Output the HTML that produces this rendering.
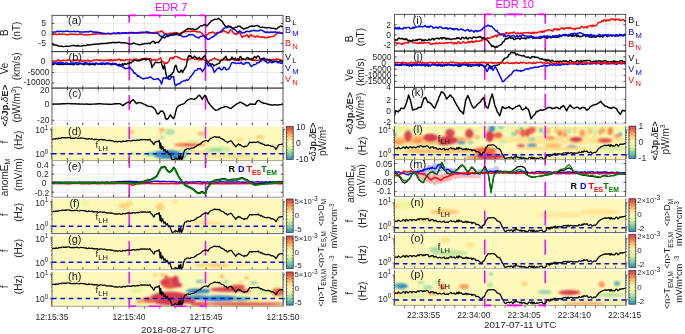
<!DOCTYPE html>
<html><head><meta charset="utf-8"><style>html,body{margin:0;padding:0;background:#fff;overflow:hidden}svg{display:block;will-change:transform}</style></head>
<body><svg xmlns="http://www.w3.org/2000/svg" width="685" height="334" viewBox="0 0 685 334" font-family='"Liberation Sans", sans-serif'><defs><filter id="blur1_3" x="-50%" y="-50%" width="200%" height="200%"><feGaussianBlur stdDeviation="1.3"/></filter><clipPath id="ca"><rect x="52.0" y="15.4" width="231.0" height="36.2"/></clipPath><clipPath id="cb"><rect x="52.0" y="51.6" width="231.0" height="36.49999999999999"/></clipPath><clipPath id="cc"><rect x="52.0" y="88.1" width="231.0" height="36.900000000000006"/></clipPath><clipPath id="cd"><rect x="52.0" y="126.4" width="231.0" height="34.19999999999999"/></clipPath><clipPath id="ce"><rect x="52.0" y="160.8" width="231.0" height="36.39999999999998"/></clipPath><clipPath id="cf"><rect x="52.0" y="198.8" width="231.0" height="34.79999999999998"/></clipPath><clipPath id="cg"><rect x="52.0" y="235.8" width="231.0" height="33.89999999999998"/></clipPath><clipPath id="ch"><rect x="52.0" y="271.8" width="231.0" height="34.5"/></clipPath><clipPath id="ci"><rect x="394.5" y="14.4" width="231.20000000000005" height="36.7"/></clipPath><clipPath id="cj"><rect x="394.5" y="51.1" width="231.20000000000005" height="36.300000000000004"/></clipPath><clipPath id="ck"><rect x="394.5" y="87.4" width="231.20000000000005" height="36.5"/></clipPath><clipPath id="cl"><rect x="394.5" y="125.9" width="231.20000000000005" height="33.69999999999999"/></clipPath><clipPath id="cm"><rect x="394.5" y="160.0" width="231.20000000000005" height="36.5"/></clipPath><clipPath id="cn"><rect x="394.5" y="198.6" width="231.20000000000005" height="34.0"/></clipPath><clipPath id="co"><rect x="394.5" y="234.4" width="231.20000000000005" height="34.20000000000002"/></clipPath><clipPath id="cp"><rect x="394.5" y="270.4" width="231.20000000000005" height="35.0"/></clipPath><linearGradient id="cbg_Ld" x1="0" y1="0" x2="0" y2="1"><stop offset="0.000" stop-color="#d53e4f"/><stop offset="0.125" stop-color="#f46d43"/><stop offset="0.250" stop-color="#fdae61"/><stop offset="0.375" stop-color="#fee08b"/><stop offset="0.500" stop-color="#fcf9bb"/><stop offset="0.625" stop-color="#e6f598"/><stop offset="0.750" stop-color="#abdda4"/><stop offset="0.875" stop-color="#66c2a5"/><stop offset="1.000" stop-color="#3288bd"/></linearGradient><linearGradient id="cbg_Lf" x1="0" y1="0" x2="0" y2="1"><stop offset="0.000" stop-color="#d53e4f"/><stop offset="0.125" stop-color="#f46d43"/><stop offset="0.250" stop-color="#fdae61"/><stop offset="0.375" stop-color="#fee08b"/><stop offset="0.500" stop-color="#fcf9bb"/><stop offset="0.625" stop-color="#e6f598"/><stop offset="0.750" stop-color="#abdda4"/><stop offset="0.875" stop-color="#66c2a5"/><stop offset="1.000" stop-color="#3288bd"/></linearGradient><linearGradient id="cbg_Lg" x1="0" y1="0" x2="0" y2="1"><stop offset="0.000" stop-color="#d53e4f"/><stop offset="0.125" stop-color="#f46d43"/><stop offset="0.250" stop-color="#fdae61"/><stop offset="0.375" stop-color="#fee08b"/><stop offset="0.500" stop-color="#fcf9bb"/><stop offset="0.625" stop-color="#e6f598"/><stop offset="0.750" stop-color="#abdda4"/><stop offset="0.875" stop-color="#66c2a5"/><stop offset="1.000" stop-color="#3288bd"/></linearGradient><linearGradient id="cbg_Lh" x1="0" y1="0" x2="0" y2="1"><stop offset="0.000" stop-color="#d53e4f"/><stop offset="0.125" stop-color="#f46d43"/><stop offset="0.250" stop-color="#fdae61"/><stop offset="0.375" stop-color="#fee08b"/><stop offset="0.500" stop-color="#fcf9bb"/><stop offset="0.625" stop-color="#e6f598"/><stop offset="0.750" stop-color="#abdda4"/><stop offset="0.875" stop-color="#66c2a5"/><stop offset="1.000" stop-color="#3288bd"/></linearGradient><linearGradient id="cbg_Rl" x1="0" y1="0" x2="0" y2="1"><stop offset="0.000" stop-color="#d53e4f"/><stop offset="0.125" stop-color="#f46d43"/><stop offset="0.250" stop-color="#fdae61"/><stop offset="0.375" stop-color="#fee08b"/><stop offset="0.500" stop-color="#fcf9bb"/><stop offset="0.625" stop-color="#e6f598"/><stop offset="0.750" stop-color="#abdda4"/><stop offset="0.875" stop-color="#66c2a5"/><stop offset="1.000" stop-color="#3288bd"/></linearGradient><linearGradient id="cbg_Rn" x1="0" y1="0" x2="0" y2="1"><stop offset="0.000" stop-color="#d53e4f"/><stop offset="0.125" stop-color="#f46d43"/><stop offset="0.250" stop-color="#fdae61"/><stop offset="0.375" stop-color="#fee08b"/><stop offset="0.500" stop-color="#fcf9bb"/><stop offset="0.625" stop-color="#e6f598"/><stop offset="0.750" stop-color="#abdda4"/><stop offset="0.875" stop-color="#66c2a5"/><stop offset="1.000" stop-color="#3288bd"/></linearGradient><linearGradient id="cbg_Ro" x1="0" y1="0" x2="0" y2="1"><stop offset="0.000" stop-color="#d53e4f"/><stop offset="0.125" stop-color="#f46d43"/><stop offset="0.250" stop-color="#fdae61"/><stop offset="0.375" stop-color="#fee08b"/><stop offset="0.500" stop-color="#fcf9bb"/><stop offset="0.625" stop-color="#e6f598"/><stop offset="0.750" stop-color="#abdda4"/><stop offset="0.875" stop-color="#66c2a5"/><stop offset="1.000" stop-color="#3288bd"/></linearGradient><linearGradient id="cbg_Rp" x1="0" y1="0" x2="0" y2="1"><stop offset="0.000" stop-color="#d53e4f"/><stop offset="0.125" stop-color="#f46d43"/><stop offset="0.250" stop-color="#fdae61"/><stop offset="0.375" stop-color="#fee08b"/><stop offset="0.500" stop-color="#fcf9bb"/><stop offset="0.625" stop-color="#e6f598"/><stop offset="0.750" stop-color="#abdda4"/><stop offset="0.875" stop-color="#66c2a5"/><stop offset="1.000" stop-color="#3288bd"/></linearGradient></defs><rect width="685" height="334" fill="#fff"/><rect x="52.0" y="15.4" width="231.0" height="36.2" fill="#fff"/>
<path d="M67.4,15.4V51.6 M82.8,15.4V51.6 M98.2,15.4V51.6 M113.6,15.4V51.6 M129.0,15.4V51.6 M144.4,15.4V51.6 M159.8,15.4V51.6 M175.2,15.4V51.6 M190.6,15.4V51.6 M206.0,15.4V51.6 M221.4,15.4V51.6 M236.8,15.4V51.6 M252.2,15.4V51.6 M267.6,15.4V51.6 M52.0,23.4H283.0 M52.0,33.4H283.0 M52.0,43.4H283.0" stroke="#e3e3e3" stroke-width="0.7" fill="none"/>
<rect x="52.0" y="51.6" width="231.0" height="36.49999999999999" fill="#fff"/>
<path d="M67.4,51.6V88.1 M82.8,51.6V88.1 M98.2,51.6V88.1 M113.6,51.6V88.1 M129.0,51.6V88.1 M144.4,51.6V88.1 M159.8,51.6V88.1 M175.2,51.6V88.1 M190.6,51.6V88.1 M206.0,51.6V88.1 M221.4,51.6V88.1 M236.8,51.6V88.1 M252.2,51.6V88.1 M267.6,51.6V88.1 M52.0,62.0H283.0 M52.0,72.5H283.0 M52.0,83.0H283.0" stroke="#e3e3e3" stroke-width="0.7" fill="none"/>
<rect x="52.0" y="88.1" width="231.0" height="36.900000000000006" fill="#fff"/>
<path d="M67.4,88.1V125.0 M82.8,88.1V125.0 M98.2,88.1V125.0 M113.6,88.1V125.0 M129.0,88.1V125.0 M144.4,88.1V125.0 M159.8,88.1V125.0 M175.2,88.1V125.0 M190.6,88.1V125.0 M206.0,88.1V125.0 M221.4,88.1V125.0 M236.8,88.1V125.0 M252.2,88.1V125.0 M267.6,88.1V125.0 M52.0,104.6H283.0 M52.0,120.3H283.0" stroke="#e3e3e3" stroke-width="0.7" fill="none"/>
<g clip-path="url(#cd)">
<rect x="52.0" y="126.4" width="231.0" height="34.19999999999999" fill="#fcf9bb"/>
<g filter="url(#blur1_3)">
<ellipse cx="168" cy="154.5" rx="15" ry="4.5" fill="#3288bd"/>
<ellipse cx="160" cy="154" rx="10" ry="2.5" fill="#3c94b8"/>
<ellipse cx="150" cy="154" rx="6" ry="1.8" fill="#74c7a5"/>
<ellipse cx="178" cy="156" rx="8" ry="3.5" fill="#3288bd"/>
<ellipse cx="184" cy="153" rx="5" ry="3" fill="#8fd2a4"/>
<ellipse cx="137" cy="153.5" rx="10" ry="1.5" fill="#daf09a"/>
<ellipse cx="187" cy="150" rx="9" ry="1.8" fill="#ceeb9d"/>
<ellipse cx="170" cy="132" rx="5" ry="3" fill="#abdda4"/>
<ellipse cx="162" cy="137.5" rx="3" ry="1.5" fill="#abdda4"/>
<ellipse cx="162" cy="129.5" rx="3" ry="1.5" fill="#fba15b"/>
<ellipse cx="161" cy="133" rx="1.5" ry="1" fill="#fdae61"/>
<ellipse cx="189" cy="144.8" rx="14" ry="1.8" fill="#e85a48"/>
<ellipse cx="180" cy="145" rx="6" ry="1.5" fill="#f67a49"/>
<ellipse cx="200" cy="144.5" rx="6" ry="1.5" fill="#f99455"/>
<ellipse cx="132" cy="132" rx="3" ry="2" fill="#fecc7a"/>
<ellipse cx="201" cy="133.5" rx="3.5" ry="1.8" fill="#fdae61"/>
<ellipse cx="200" cy="152.5" rx="12" ry="1.5" fill="#fed683"/>
<ellipse cx="230" cy="156.5" rx="25" ry="1.8" fill="#fee08b"/>
<ellipse cx="218" cy="149.5" rx="14" ry="3" fill="#ceeb9d"/>
<ellipse cx="216" cy="150" rx="7" ry="1.5" fill="#8fd2a4"/>
<ellipse cx="193" cy="141.2" rx="7" ry="1.2" fill="#daf09a"/>
<ellipse cx="239" cy="139.5" rx="4" ry="1.8" fill="#fed683"/>
<ellipse cx="260" cy="137" rx="4" ry="1.8" fill="#fecc7a"/>
</g></g>
<rect x="52.0" y="160.8" width="231.0" height="36.39999999999998" fill="#fff"/>
<path d="M67.4,160.8V197.2 M82.8,160.8V197.2 M98.2,160.8V197.2 M113.6,160.8V197.2 M129.0,160.8V197.2 M144.4,160.8V197.2 M159.8,160.8V197.2 M175.2,160.8V197.2 M190.6,160.8V197.2 M206.0,160.8V197.2 M221.4,160.8V197.2 M236.8,160.8V197.2 M252.2,160.8V197.2 M267.6,160.8V197.2 M52.0,165.1H283.0 M52.0,174.2H283.0 M52.0,183.2H283.0 M52.0,192.2H283.0" stroke="#e3e3e3" stroke-width="0.7" fill="none"/>
<g clip-path="url(#cf)">
<rect x="52.0" y="198.8" width="231.0" height="34.79999999999998" fill="#fcf9bb"/>
<g filter="url(#blur1_3)">
<ellipse cx="124" cy="206" rx="6" ry="3" fill="#fed683"/>
<ellipse cx="130" cy="203" rx="3" ry="2" fill="#fed683"/>
<ellipse cx="160" cy="207" rx="4" ry="4" fill="#fed27f"/>
<ellipse cx="140" cy="210" rx="10" ry="1.5" fill="#fdefa8"/>
<ellipse cx="175" cy="202" rx="3" ry="2" fill="#fee595"/>
<ellipse cx="208" cy="223" rx="14" ry="2" fill="#fee08b"/>
<ellipse cx="215" cy="229" rx="20" ry="2" fill="#e6f598"/>
<ellipse cx="85" cy="203" rx="5" ry="3" fill="#f3f7ad"/>
</g></g>
<g clip-path="url(#cg)">
<rect x="52.0" y="235.8" width="231.0" height="33.89999999999998" fill="#fcf9bb"/>
<g filter="url(#blur1_3)">
<ellipse cx="212" cy="265.5" rx="18" ry="2.2" fill="#fecc7a"/>
<ellipse cx="240" cy="265" rx="10" ry="1.5" fill="#fdea9e"/>
<ellipse cx="207" cy="267" rx="4" ry="1.2" fill="#eaf69f"/>
</g></g>
<g clip-path="url(#ch)">
<rect x="52.0" y="271.8" width="231.0" height="34.5" fill="#fcf9bb"/>
<g filter="url(#blur1_3)">
<ellipse cx="170" cy="283" rx="9" ry="6" fill="#e85a48"/>
<ellipse cx="165" cy="282.3" rx="5" ry="3" fill="#d53e4f"/>
<ellipse cx="166" cy="277.5" rx="1.5" ry="3" fill="#e1514a"/>
<ellipse cx="175.5" cy="281.5" rx="3.5" ry="6" fill="#d53e4f"/>
<ellipse cx="178" cy="285" rx="4" ry="2.5" fill="#d53e4f"/>
<ellipse cx="162" cy="275" rx="2.5" ry="2" fill="#fecc7a"/>
<ellipse cx="155" cy="275" rx="2" ry="2" fill="#fed683"/>
<ellipse cx="170" cy="298.5" rx="20" ry="7" fill="#d53e4f"/>
<ellipse cx="150" cy="300" rx="9" ry="3" fill="#ee6445"/>
<ellipse cx="140" cy="301.5" rx="4" ry="2" fill="#fdae61"/>
<ellipse cx="188" cy="300" rx="8" ry="3.5" fill="#d53e4f"/>
<ellipse cx="245" cy="304" rx="40" ry="2" fill="#e85a48"/>
<ellipse cx="200" cy="304" rx="10" ry="2" fill="#e1514a"/>
<ellipse cx="197" cy="291" rx="11" ry="2.5" fill="#3288bd"/>
<ellipse cx="206" cy="291" rx="4" ry="2" fill="#3288bd"/>
<ellipse cx="220" cy="298.5" rx="22" ry="3" fill="#3288bd"/>
<ellipse cx="198" cy="297.2" rx="12" ry="2.2" fill="#3c94b8"/>
<ellipse cx="242" cy="299" rx="10" ry="2.5" fill="#66c2a5"/>
<ellipse cx="200" cy="281.5" rx="4.5" ry="1.5" fill="#74c7a5"/>
<ellipse cx="226" cy="281.6" rx="2.5" ry="1.2" fill="#74c7a5"/>
<ellipse cx="254" cy="282.8" rx="3.5" ry="1.2" fill="#74c7a5"/>
<ellipse cx="228" cy="289.5" rx="18" ry="2.5" fill="#d53e4f"/>
<ellipse cx="238" cy="286.5" rx="7" ry="2" fill="#e1514a"/>
<ellipse cx="245" cy="291" rx="6" ry="2" fill="#f67a49"/>
<ellipse cx="222" cy="276.5" rx="2" ry="2" fill="#fdae61"/>
<ellipse cx="246.5" cy="277.8" rx="2" ry="1.5" fill="#fdae61"/>
<ellipse cx="241" cy="282" rx="3" ry="1" fill="#fecc7a"/>
<ellipse cx="278" cy="292" rx="7" ry="4" fill="#f46d43"/>
<ellipse cx="265" cy="292" rx="8" ry="2" fill="#daf09a"/>
<ellipse cx="255" cy="300.5" rx="10" ry="1.2" fill="#e6f598"/>
<ellipse cx="137" cy="290.5" rx="6" ry="2.5" fill="#e6f598"/>
</g></g>
<rect x="394.5" y="14.4" width="231.20000000000005" height="36.7" fill="#fff"/>
<path d="M404.6,14.4V51.1 M414.6,14.4V51.1 M424.6,14.4V51.1 M434.7,14.4V51.1 M444.8,14.4V51.1 M454.8,14.4V51.1 M464.9,14.4V51.1 M474.9,14.4V51.1 M484.9,14.4V51.1 M495.0,14.4V51.1 M505.1,14.4V51.1 M515.1,14.4V51.1 M525.1,14.4V51.1 M535.2,14.4V51.1 M545.2,14.4V51.1 M555.3,14.4V51.1 M565.4,14.4V51.1 M575.4,14.4V51.1 M585.5,14.4V51.1 M595.5,14.4V51.1 M605.5,14.4V51.1 M615.6,14.4V51.1 M394.5,24.8H625.7 M394.5,35.0H625.7 M394.5,45.2H625.7" stroke="#e3e3e3" stroke-width="0.7" fill="none"/>
<rect x="394.5" y="51.1" width="231.20000000000005" height="36.300000000000004" fill="#fff"/>
<path d="M404.6,51.1V87.4 M414.6,51.1V87.4 M424.6,51.1V87.4 M434.7,51.1V87.4 M444.8,51.1V87.4 M454.8,51.1V87.4 M464.9,51.1V87.4 M474.9,51.1V87.4 M484.9,51.1V87.4 M495.0,51.1V87.4 M505.1,51.1V87.4 M515.1,51.1V87.4 M525.1,51.1V87.4 M535.2,51.1V87.4 M545.2,51.1V87.4 M555.3,51.1V87.4 M565.4,51.1V87.4 M575.4,51.1V87.4 M585.5,51.1V87.4 M595.5,51.1V87.4 M605.5,51.1V87.4 M615.6,51.1V87.4 M394.5,56.9H625.7 M394.5,63.0H625.7 M394.5,69.1H625.7 M394.5,75.3H625.7 M394.5,81.4H625.7" stroke="#e3e3e3" stroke-width="0.7" fill="none"/>
<rect x="394.5" y="87.4" width="231.20000000000005" height="36.5" fill="#fff"/>
<path d="M404.6,87.4V123.9 M414.6,87.4V123.9 M424.6,87.4V123.9 M434.7,87.4V123.9 M444.8,87.4V123.9 M454.8,87.4V123.9 M464.9,87.4V123.9 M474.9,87.4V123.9 M484.9,87.4V123.9 M495.0,87.4V123.9 M505.1,87.4V123.9 M515.1,87.4V123.9 M525.1,87.4V123.9 M535.2,87.4V123.9 M545.2,87.4V123.9 M555.3,87.4V123.9 M565.4,87.4V123.9 M575.4,87.4V123.9 M585.5,87.4V123.9 M595.5,87.4V123.9 M605.5,87.4V123.9 M615.6,87.4V123.9 M394.5,99.4H625.7 M394.5,111.2H625.7 M394.5,123.0H625.7" stroke="#e3e3e3" stroke-width="0.7" fill="none"/>
<g clip-path="url(#cl)">
<rect x="394.5" y="125.9" width="231.20000000000005" height="33.69999999999999" fill="#fcf9bb"/>
<g filter="url(#blur1_3)">
<ellipse cx="430" cy="140" rx="42" ry="5" fill="#fecc7a"/>
<ellipse cx="560" cy="140" rx="70" ry="4" fill="#fee595"/>
<ellipse cx="400" cy="129" rx="12" ry="3" fill="#eaf69f"/>
<ellipse cx="520" cy="129" rx="110" ry="3.5" fill="#f1f7aa"/>
<ellipse cx="399" cy="142" rx="6" ry="3" fill="#fba15b"/>
<ellipse cx="395" cy="134.5" rx="1.5" ry="2.5" fill="#5cb6aa"/>
<ellipse cx="408" cy="136" rx="4" ry="6" fill="#db474d"/>
<ellipse cx="417.7" cy="140.3" rx="5" ry="3" fill="#f99455"/>
<ellipse cx="415" cy="130" rx="4" ry="2" fill="#daf09a"/>
<ellipse cx="430.4" cy="137.8" rx="7.6" ry="4.2" fill="#d53e4f"/>
<ellipse cx="448" cy="140.3" rx="10" ry="4.2" fill="#d53e4f"/>
<ellipse cx="450" cy="132.8" rx="5" ry="4.2" fill="#db474d"/>
<ellipse cx="444" cy="143" rx="6" ry="2.5" fill="#d53e4f"/>
<ellipse cx="461.5" cy="142.4" rx="4" ry="1.5" fill="#3288bd"/>
<ellipse cx="461.5" cy="139" rx="3" ry="1.5" fill="#fba15b"/>
<ellipse cx="470.8" cy="142.5" rx="3" ry="1.5" fill="#8fd2a4"/>
<ellipse cx="469.3" cy="133.5" rx="4.3" ry="5" fill="#db474d"/>
<ellipse cx="477" cy="137" rx="3" ry="2.5" fill="#fdc272"/>
<ellipse cx="489.7" cy="136" rx="4.3" ry="6" fill="#d53e4f"/>
<ellipse cx="498.2" cy="135.3" rx="4.2" ry="3.3" fill="#ee6445"/>
<ellipse cx="492" cy="128.5" rx="3.4" ry="3.5" fill="#3c94b8"/>
<ellipse cx="501" cy="127.5" rx="3" ry="1.5" fill="#74c7a5"/>
<ellipse cx="503" cy="141.5" rx="4" ry="1.5" fill="#c3e79f"/>
<ellipse cx="435" cy="151" rx="42" ry="2.6" fill="#fdc272"/>
<ellipse cx="485" cy="150.5" rx="12" ry="3.5" fill="#f46d43"/>
<ellipse cx="402" cy="150.8" rx="6" ry="1.5" fill="#e6f598"/>
<ellipse cx="489" cy="156.5" rx="16" ry="3.2" fill="#d53e4f"/>
<ellipse cx="472" cy="157.5" rx="6" ry="2" fill="#fba15b"/>
<ellipse cx="517" cy="132" rx="2.5" ry="2.5" fill="#f99455"/>
<ellipse cx="521" cy="128.5" rx="2" ry="1.8" fill="#66c2a5"/>
<ellipse cx="527.5" cy="132.5" rx="2" ry="4.5" fill="#db474d"/>
<ellipse cx="534.5" cy="129.5" rx="1.5" ry="3" fill="#e85a48"/>
<ellipse cx="541" cy="130" rx="2" ry="2.5" fill="#66c2a5"/>
<ellipse cx="548" cy="131" rx="2" ry="3.5" fill="#fdae61"/>
<ellipse cx="556" cy="130" rx="1.5" ry="3.5" fill="#fdb869"/>
<ellipse cx="565" cy="131" rx="1.5" ry="3" fill="#fdae61"/>
<ellipse cx="575" cy="130" rx="1.5" ry="3.5" fill="#fdc272"/>
<ellipse cx="590" cy="131" rx="2" ry="3.5" fill="#fdb869"/>
<ellipse cx="603" cy="130" rx="2" ry="3" fill="#fba15b"/>
<ellipse cx="612" cy="130" rx="1.5" ry="3" fill="#fdc272"/>
<ellipse cx="521" cy="145.6" rx="4" ry="1.6" fill="#d53e4f"/>
<ellipse cx="532" cy="145.2" rx="5" ry="1.8" fill="#3c94b8"/>
<ellipse cx="532" cy="139.2" rx="3.5" ry="1.3" fill="#74c7a5"/>
<ellipse cx="550" cy="138" rx="4.5" ry="2" fill="#f99455"/>
<ellipse cx="553" cy="145.5" rx="9" ry="1.5" fill="#fdae61"/>
<ellipse cx="576" cy="139.6" rx="6.5" ry="2.8" fill="#d53e4f"/>
<ellipse cx="565" cy="135" rx="2" ry="2" fill="#f67a49"/>
<ellipse cx="571.7" cy="147.3" rx="6" ry="2" fill="#3c94b8"/>
<ellipse cx="605" cy="140.6" rx="7.5" ry="2.5" fill="#e1514a"/>
<ellipse cx="600" cy="132" rx="2" ry="3" fill="#fba15b"/>
<ellipse cx="620" cy="134.5" rx="1.8" ry="2.5" fill="#51abaf"/>
<ellipse cx="612" cy="148.5" rx="14" ry="2" fill="#ceeb9d"/>
<ellipse cx="520" cy="157.8" rx="6" ry="1.3" fill="#5cb6aa"/>
<ellipse cx="585" cy="133" rx="2" ry="3" fill="#fed683"/>
<ellipse cx="523" cy="133" rx="3" ry="4" fill="#ee6445"/>
<ellipse cx="531" cy="130.5" rx="2.5" ry="4" fill="#e85a48"/>
<ellipse cx="514" cy="134" rx="3" ry="2" fill="#8fd2a4"/>
<ellipse cx="545" cy="134" rx="2" ry="3" fill="#b7e2a2"/>
<ellipse cx="560" cy="133" rx="2.5" ry="3.5" fill="#f8874f"/>
<ellipse cx="569" cy="131" rx="2" ry="3" fill="#b7e2a2"/>
<ellipse cx="582" cy="133" rx="2.5" ry="3.5" fill="#f99455"/>
<ellipse cx="595" cy="133" rx="2" ry="3.5" fill="#ceeb9d"/>
<ellipse cx="610" cy="131" rx="2.5" ry="4" fill="#f67a49"/>
<ellipse cx="617" cy="136" rx="3" ry="2" fill="#f99455"/>
<ellipse cx="555" cy="148.5" rx="40" ry="1.5" fill="#fed683"/>
</g></g>
<rect x="394.5" y="160.0" width="231.20000000000005" height="36.5" fill="#fff"/>
<path d="M404.6,160.0V196.5 M414.6,160.0V196.5 M424.6,160.0V196.5 M434.7,160.0V196.5 M444.8,160.0V196.5 M454.8,160.0V196.5 M464.9,160.0V196.5 M474.9,160.0V196.5 M484.9,160.0V196.5 M495.0,160.0V196.5 M505.1,160.0V196.5 M515.1,160.0V196.5 M525.1,160.0V196.5 M535.2,160.0V196.5 M545.2,160.0V196.5 M555.3,160.0V196.5 M565.4,160.0V196.5 M575.4,160.0V196.5 M585.5,160.0V196.5 M595.5,160.0V196.5 M605.5,160.0V196.5 M615.6,160.0V196.5 M394.5,163.6H625.7 M394.5,172.9H625.7 M394.5,182.3H625.7 M394.5,191.6H625.7" stroke="#e3e3e3" stroke-width="0.7" fill="none"/>
<g clip-path="url(#cn)">
<rect x="394.5" y="198.6" width="231.20000000000005" height="34.0" fill="#fcf9bb"/>
<g filter="url(#blur1_3)">
<ellipse cx="445" cy="212" rx="15" ry="3" fill="#fecc7a"/>
<ellipse cx="425" cy="220" rx="8" ry="2" fill="#fed683"/>
<ellipse cx="405" cy="205" rx="10" ry="4" fill="#eff7a6"/>
<ellipse cx="397" cy="206" rx="3" ry="3" fill="#fee08b"/>
<ellipse cx="560" cy="215" rx="25" ry="3" fill="#fdea9e"/>
<ellipse cx="600" cy="212" rx="20" ry="3" fill="#fee595"/>
</g></g>
<g clip-path="url(#co)">
<rect x="394.5" y="234.4" width="231.20000000000005" height="34.20000000000002" fill="#fcf9bb"/>
<g filter="url(#blur1_3)">
<ellipse cx="450" cy="253" rx="18" ry="3" fill="#c3e79f"/>
<ellipse cx="435" cy="250" rx="6" ry="3" fill="#abdda4"/>
<ellipse cx="445" cy="240" rx="5" ry="3" fill="#fee595"/>
<ellipse cx="470" cy="245" rx="4" ry="3" fill="#fee595"/>
</g></g>
<g clip-path="url(#cp)">
<rect x="394.5" y="270.4" width="231.20000000000005" height="35.0" fill="#fcf9bb"/>
<g filter="url(#blur1_3)">
<ellipse cx="401" cy="286" rx="7" ry="3" fill="#479fb3"/>
<ellipse cx="403" cy="286.5" rx="3.5" ry="1.8" fill="#3288bd"/>
<ellipse cx="421" cy="282.5" rx="3.5" ry="1.5" fill="#abdda4"/>
<ellipse cx="428" cy="287.4" rx="5" ry="1.8" fill="#9dd8a4"/>
<ellipse cx="436" cy="281.8" rx="2.5" ry="1.5" fill="#c3e79f"/>
<ellipse cx="442.5" cy="287" rx="3" ry="3" fill="#f46d43"/>
<ellipse cx="433" cy="293.5" rx="5" ry="1.8" fill="#fdb869"/>
<ellipse cx="464" cy="286.5" rx="5" ry="2.3" fill="#f99455"/>
<ellipse cx="491" cy="274" rx="1.5" ry="2" fill="#74c7a5"/>
<ellipse cx="490" cy="285" rx="3" ry="3" fill="#c3e79f"/>
<ellipse cx="413" cy="296.5" rx="16" ry="1.8" fill="#daf09a"/>
<ellipse cx="398" cy="293" rx="4" ry="1.5" fill="#fee08b"/>
<ellipse cx="569.5" cy="292.5" rx="11" ry="2.6" fill="#d53e4f"/>
<ellipse cx="545" cy="292" rx="7" ry="2" fill="#8fd2a4"/>
<ellipse cx="617" cy="283.5" rx="3" ry="2.5" fill="#5cb6aa"/>
<ellipse cx="601.6" cy="284.4" rx="3" ry="3" fill="#f99455"/>
<ellipse cx="585" cy="303.5" rx="22" ry="1.8" fill="#fdb869"/>
<ellipse cx="615" cy="302.5" rx="10" ry="1.8" fill="#e6f598"/>
<ellipse cx="610" cy="295" rx="15" ry="2" fill="#b7e2a2"/>
<ellipse cx="524.5" cy="283.5" rx="3" ry="2" fill="#fecc7a"/>
</g></g>
<path d="M129.2,15.4V22.8 M129.2,36.5V51.6 M129.2,61V80.5 M129.2,95V110 M129.2,126.4V139 M129.2,154V160.6 M129.2,160.8V167.8 M129.2,183.4V197.2 M129.2,211.6V226.5 M129.2,241V255.4 M129.2,271.8V283.6 M129.2,298.5V306.3" stroke="#ff00ff" stroke-width="1.5" fill="none"/>
<path d="M205.5,15.4V51.6 M205.5,51.6V81.0 M205.5,95.6V109.7 M205.5,126.4V138.5 M205.5,153.6V160.6 M205.5,160.8V168.0 M205.5,182.7V197.2 M205.5,211.8V225.8 M205.5,241V255.4 M205.5,271.8V283.6 M205.5,298.5V306.3" stroke="#ff00ff" stroke-width="1.5" fill="none"/>
<path d="M484.7,14.4V51.1 M484.7,64.8V79.7 M484.7,94.6V108.7 M484.7,125.7V137.9 M484.7,153V160.2 M484.7,160.4V195.7 M484.7,210.6V225.5 M484.7,239.6V254.8 M484.7,270.4V283.2 M484.7,298.4V305.4" stroke="#ff00ff" stroke-width="1.5" fill="none"/>
<path d="M545.2,14.4V23.8 M545.2,35.5V50.0 M545.2,65.6V79.7 M545.2,93.8V108.7 M545.2,125.7V137.9 M545.2,152.4V160.2 M545.2,160.4V165.5 M545.2,182V195.7 M545.2,210.6V225.5 M545.2,239.6V254.8 M545.2,270.4V283.2 M545.2,298.4V305.4" stroke="#ff00ff" stroke-width="1.5" fill="none"/>
<g clip-path="url(#cm)">
<path d="M416.0,174.0 L417.5,173.1 L419.0,174.0 L420.5,173.6 L422.0,173.6 L423.5,171.8 L425.0,173.3 L426.5,172.9 L428.0,174.0 L429.5,172.4 L431.0,174.4 L432.5,174.4 L434.0,173.2 L435.5,174.0 L437.0,173.6 L438.5,174.2 L440.0,174.8 L441.5,173.3 L443.0,174.5 L444.5,172.4 L446.0,173.7 L447.5,173.1 L449.0,173.4 L450.5,174.2 L452.0,174.2 L453.5,172.1 L455.0,172.3 L456.5,172.6 L458.0,173.8 L459.5,173.7 L461.0,173.3 L462.5,171.6 L464.0,171.7 L465.5,172.8 L467.0,172.9 L468.5,173.0 L470.0,173.1 L470.0,178.4 L468.5,176.4 L467.0,176.8 L465.5,177.9 L464.0,177.3 L462.5,178.3 L461.0,177.5 L459.5,178.6 L458.0,177.8 L456.5,178.9 L455.0,179.6 L453.5,178.1 L452.0,179.4 L450.5,181.0 L449.0,180.4 L447.5,182.0 L446.0,181.2 L444.5,182.5 L443.0,181.9 L441.5,184.7 L440.0,183.0 L438.5,183.3 L437.0,183.7 L435.5,185.1 L434.0,184.9 L432.5,183.1 L431.0,184.1 L429.5,183.3 L428.0,182.4 L426.5,181.8 L425.0,180.2 L423.5,181.0 L422.0,180.0 L420.5,180.0 L419.0,177.5 L417.5,178.4 L416.0,178.6Z" fill="#ff9c9c" opacity="0.75"/>
<path d="M466.0,168.6 L467.5,169.5 L469.0,170.3 L470.5,168.9 L472.0,169.8 L473.5,169.0 L475.0,169.2 L476.5,169.8 L478.0,169.9 L479.5,169.0 L481.0,169.9 L481.0,178.9 L479.5,178.4 L478.0,178.0 L476.5,178.4 L475.0,178.5 L473.5,178.4 L472.0,178.6 L470.5,178.7 L469.0,177.5 L467.5,177.7 L466.0,178.3Z" fill="#ffa8a8" opacity="0.65"/>
<path d="M412.0,169.5 L413.5,169.1 L415.0,169.1 L416.5,170.6 L418.0,168.4 L419.5,168.2 L421.0,168.9 L422.5,168.3 L424.0,169.0 L425.5,167.8 L427.0,166.1 L428.5,165.3 L430.0,165.0 L431.5,165.7 L433.0,164.7 L434.5,162.6 L436.0,163.9 L437.5,163.3 L439.0,164.2 L440.5,163.5 L442.0,163.6 L443.5,165.4 L445.0,166.5 L446.5,166.9 L448.0,168.2 L449.5,168.1 L451.0,167.5 L452.5,169.1 L454.0,168.6 L455.5,168.3 L457.0,168.9 L457.0,174.2 L455.5,172.3 L454.0,172.3 L452.5,173.1 L451.0,172.9 L449.5,172.3 L448.0,172.9 L446.5,172.5 L445.0,171.0 L443.5,171.0 L442.0,171.1 L440.5,172.3 L439.0,172.1 L437.5,171.5 L436.0,172.1 L434.5,172.0 L433.0,170.8 L431.5,172.5 L430.0,171.2 L428.5,171.6 L427.0,172.2 L425.5,174.6 L424.0,173.8 L422.5,175.3 L421.0,175.1 L419.5,174.9 L418.0,176.0 L416.5,175.2 L415.0,175.7 L413.5,175.3 L412.0,174.5Z" fill="#8c8cff" opacity="0.6"/>
<path d="M478.0,168.7 L479.5,169.5 L481.0,169.2 L482.5,168.9 L484.0,168.7 L485.5,169.1 L487.0,168.6 L488.5,169.1 L490.0,168.4 L491.5,168.0 L493.0,167.8 L494.5,167.0 L496.0,165.4 L497.5,166.3 L499.0,167.5 L499.0,173.2 L497.5,173.9 L496.0,173.6 L494.5,174.0 L493.0,173.6 L491.5,174.1 L490.0,173.8 L488.5,174.0 L487.0,174.0 L485.5,173.8 L484.0,174.0 L482.5,174.0 L481.0,173.8 L479.5,173.7 L478.0,173.7Z" fill="#9c9cff" opacity="0.55"/>
</g>
<path d="M52.0,34.8 L53.0,34.8 L54.0,33.9 L54.9,33.9 L55.9,34.6 L56.9,34.4 L57.9,34.4 L58.8,34.0 L59.8,34.2 L60.8,34.2 L61.8,34.2 L62.7,33.9 L63.7,34.1 L64.7,34.1 L65.6,34.5 L66.6,34.7 L67.6,34.7 L68.5,34.4 L69.5,34.4 L70.5,34.2 L71.5,34.0 L72.4,34.0 L73.4,34.4 L74.4,34.2 L75.4,34.3 L76.3,34.8 L77.3,34.4 L78.3,34.5 L79.3,34.2 L80.2,34.0 L81.2,34.3 L82.2,34.2 L83.1,34.6 L84.1,35.0 L85.1,34.8 L86.0,34.4 L87.0,35.1 L88.0,34.9 L89.0,34.7 L89.9,34.7 L90.9,34.5 L91.9,34.4 L92.9,33.9 L93.8,34.4 L94.8,34.2 L95.8,33.4 L96.8,33.9 L97.8,33.9 L98.7,33.7 L99.7,33.7 L100.7,33.7 L101.7,34.1 L102.6,33.7 L103.6,34.0 L104.6,33.6 L105.6,34.0 L106.5,34.1 L107.5,33.7 L108.5,33.8 L109.4,34.1 L110.4,33.9 L111.4,33.7 L112.3,33.4 L113.3,33.5 L114.3,33.8 L115.3,33.3 L116.2,33.9 L117.2,33.3 L118.2,33.8 L119.2,33.3 L120.1,33.8 L121.1,33.5 L122.1,33.3 L123.1,33.3 L124.0,33.4 L125.0,33.3 L126.0,33.0 L126.9,32.9 L127.9,33.1 L128.9,33.5 L129.8,33.1 L130.8,32.6 L131.8,33.3 L132.8,33.2 L133.7,33.4 L134.7,32.7 L135.7,33.2 L136.7,32.6 L137.6,33.1 L138.6,32.8 L139.6,32.8 L140.6,33.3 L141.7,32.6 L142.7,32.9 L143.8,33.1 L144.8,32.6 L145.9,32.5 L146.9,33.0 L147.9,32.8 L149.0,33.3 L150.0,32.9 L150.9,33.1 L151.8,32.8 L152.8,33.2 L153.7,32.5 L154.6,33.2 L155.7,32.2 L156.8,32.7 L158.0,31.9 L159.1,32.0 L160.2,31.9 L161.4,30.8 L162.6,31.7 L163.7,33.0 L164.8,33.3 L166.0,33.5 L167.1,34.9 L168.2,33.8 L169.4,33.3 L170.5,33.2 L171.6,33.3 L172.8,33.3 L173.9,32.6 L175.0,32.7 L175.9,32.5 L176.8,33.0 L177.8,33.3 L178.7,33.4 L179.6,33.7 L180.7,33.2 L181.9,32.9 L183.0,32.4 L184.1,32.0 L185.3,31.6 L186.4,31.7 L187.5,31.4 L188.7,31.2 L189.8,31.6 L190.7,31.8 L191.6,31.0 L192.4,31.3 L193.3,31.0 L194.4,31.3 L195.6,31.1 L196.7,32.0 L197.8,31.6 L199.0,32.1 L200.1,32.1 L201.2,32.6 L202.4,34.0 L203.2,35.0 L204.1,36.4 L205.2,38.1 L206.1,36.5 L206.9,34.7 L208.1,34.1 L209.2,32.8 L210.3,32.8 L211.5,32.4 L212.6,32.0 L213.8,32.5 L215.0,33.9 L215.9,33.1 L216.9,32.8 L217.8,32.3 L218.7,32.5 L219.6,32.4 L220.4,32.0 L221.3,32.1 L222.4,31.7 L223.5,30.7 L224.5,31.0 L225.4,31.8 L226.4,31.9 L227.6,33.0 L228.7,33.1 L229.6,31.2 L230.4,29.6 L231.2,30.3 L232.1,30.8 L232.9,32.2 L233.8,33.3 L234.9,33.7 L236.1,34.6 L236.9,33.6 L237.8,33.7 L238.7,32.9 L239.5,31.8 L240.3,33.5 L241.2,35.6 L242.3,37.4 L243.4,36.3 L244.6,36.1 L245.8,35.7 L246.9,34.8 L247.8,35.8 L248.6,37.6 L249.8,35.8 L250.9,34.5 L252.0,35.7 L253.1,36.3 L254.2,36.3 L255.4,37.2 L256.6,36.4 L257.7,35.8 L258.9,36.9 L260.0,36.9 L260.9,37.0 L261.9,37.3 L262.8,37.0 L264.0,36.9 L265.1,37.9 L266.2,37.6 L267.4,37.5 L268.5,37.0 L269.6,37.2 L270.8,36.6 L271.9,36.6 L272.9,36.3 L273.8,36.4 L274.8,35.2 L275.9,34.7 L277.0,33.0 L278.1,32.8 L279.3,32.1 L280.2,32.4 L281.1,33.0 L282.1,32.9 L283.0,33.0" fill="none" stroke="#ff0000" stroke-width="1.45" stroke-linejoin="round" stroke-linecap="round" clip-path="url(#ca)" />
<path d="M52.0,32.0 L53.0,32.1 L54.1,31.9 L55.1,32.0 L56.2,31.9 L57.2,31.3 L58.3,31.2 L59.3,31.8 L60.3,31.2 L61.4,31.2 L62.4,31.8 L63.5,31.3 L64.5,31.6 L65.6,31.2 L66.6,31.3 L67.6,30.9 L68.7,31.4 L69.7,31.7 L70.8,31.4 L71.8,31.6 L72.9,31.6 L73.9,31.1 L74.9,31.8 L76.0,31.7 L77.0,31.4 L78.1,31.2 L79.1,32.0 L80.2,31.7 L81.2,32.0 L82.2,32.1 L83.2,31.9 L84.1,32.1 L85.1,31.6 L86.1,31.9 L87.1,31.6 L88.0,32.0 L89.0,31.9 L90.0,31.1 L91.0,31.3 L91.9,31.5 L92.9,32.3 L93.9,31.9 L94.8,32.2 L95.8,32.0 L96.8,32.3 L97.9,32.3 L98.9,32.4 L100.0,32.7 L101.0,32.8 L102.1,33.2 L103.1,33.2 L104.1,33.4 L105.2,33.4 L106.2,33.6 L107.3,33.4 L108.3,33.0 L109.4,33.7 L110.4,33.8 L111.4,33.7 L112.5,33.3 L113.5,33.4 L114.6,32.9 L115.6,33.4 L116.7,33.1 L117.7,32.8 L118.7,32.6 L119.8,33.3 L120.8,33.4 L121.9,32.6 L122.9,33.3 L124.0,32.9 L125.0,32.7 L126.0,32.8 L127.1,33.2 L128.1,33.2 L129.2,32.4 L130.2,32.9 L131.3,32.3 L132.3,32.9 L133.3,32.5 L134.4,33.0 L135.4,33.1 L136.5,32.7 L137.5,33.1 L138.6,32.5 L139.6,32.3 L140.6,32.7 L141.7,32.1 L142.7,32.2 L143.8,32.3 L144.8,32.4 L145.9,32.0 L146.9,31.8 L147.9,32.5 L149.0,32.0 L150.0,32.6 L151.1,32.9 L152.3,32.8 L153.4,33.3 L154.5,33.2 L155.7,33.1 L156.8,32.9 L157.9,33.8 L159.1,34.8 L160.2,36.0 L161.3,36.2 L162.5,36.7 L163.7,35.8 L164.8,34.3 L165.9,34.5 L167.1,35.3 L168.2,35.1 L169.1,35.1 L170.0,34.7 L171.0,35.0 L171.9,35.2 L172.8,34.7 L173.9,35.1 L175.1,34.9 L176.2,34.3 L177.3,34.6 L178.4,34.7 L179.6,35.1 L180.7,35.0 L181.8,36.0 L183.0,36.8 L184.1,36.9 L185.2,36.4 L186.4,36.4 L187.5,36.1 L188.7,34.8 L189.8,34.5 L190.7,34.7 L191.6,34.6 L192.4,34.8 L193.3,34.9 L194.4,35.7 L195.6,36.7 L196.7,37.1 L197.8,37.5 L198.9,38.1 L200.1,36.6 L201.2,36.3 L202.3,36.1 L203.5,35.4 L204.7,36.2 L205.8,37.6 L206.7,38.2 L207.5,39.3 L208.4,39.2 L209.4,39.0 L210.3,38.1 L211.4,37.6 L212.6,36.8 L213.7,36.5 L215.0,35.0 L216.1,34.7 L217.3,33.3 L218.4,32.7 L219.4,32.4 L220.3,32.0 L221.3,31.1 L222.4,29.7 L223.5,28.5 L224.7,28.3 L225.8,27.4 L226.8,27.8 L227.7,27.6 L228.7,26.8 L229.8,26.9 L230.9,27.4 L232.1,28.1 L233.2,29.1 L234.3,29.5 L235.5,30.2 L236.7,31.2 L237.8,32.5 L238.9,31.4 L240.0,31.0 L241.2,32.1 L242.3,33.2 L243.4,32.7 L244.6,32.6 L245.8,31.6 L246.9,31.2 L248.0,31.7 L249.1,31.4 L250.0,31.4 L250.8,30.7 L251.7,31.1 L252.6,30.9 L253.7,30.2 L254.9,30.7 L256.0,30.8 L257.1,30.9 L258.3,31.1 L259.4,30.3 L260.5,29.8 L261.6,30.3 L262.8,30.7 L264.0,31.7 L265.1,32.0 L266.2,32.5 L267.4,31.8 L268.5,32.6 L269.6,32.2 L270.8,32.2 L271.9,32.0 L273.0,32.2 L274.2,32.1 L275.3,31.8 L276.4,32.6 L277.6,32.3 L278.7,32.6 L279.8,33.1 L280.9,33.1 L281.9,33.1 L283.0,33.7" fill="none" stroke="#0000ff" stroke-width="1.45" stroke-linejoin="round" stroke-linecap="round" clip-path="url(#ca)" />
<path d="M52.0,44.5 L53.1,44.6 L54.2,45.0 L55.3,45.0 L56.4,45.1 L57.5,45.5 L58.6,46.0 L59.7,46.1 L60.8,46.3 L61.8,46.1 L62.7,46.6 L63.7,46.6 L64.8,46.4 L65.9,46.2 L67.0,46.1 L68.1,46.4 L69.1,46.2 L70.0,46.1 L71.0,46.0 L72.0,45.4 L72.9,45.4 L73.9,45.5 L74.9,45.7 L76.0,45.8 L77.0,46.0 L78.1,45.5 L79.1,46.0 L80.2,46.1 L81.2,46.1 L82.2,45.7 L83.1,45.7 L84.1,45.3 L85.1,45.7 L86.0,45.4 L87.0,45.0 L88.0,44.8 L89.0,45.1 L90.0,44.8 L90.9,44.9 L91.9,44.7 L92.9,44.4 L93.9,44.3 L95.0,44.3 L96.0,44.1 L97.1,43.9 L98.1,43.9 L99.2,44.2 L100.2,43.6 L101.2,43.5 L102.3,43.8 L103.3,43.4 L104.4,43.5 L105.4,43.4 L106.5,43.2 L107.5,43.5 L108.5,42.9 L109.4,42.9 L110.4,42.6 L111.4,42.8 L112.3,42.5 L113.3,42.4 L114.3,42.7 L115.3,42.4 L116.2,42.5 L117.2,42.8 L118.2,42.2 L119.2,42.2 L120.2,42.4 L121.1,42.8 L122.1,42.8 L123.1,42.6 L124.0,42.7 L125.0,42.7 L126.1,43.1 L127.2,43.1 L128.3,43.8 L129.4,44.2 L130.5,44.0 L131.6,43.7 L132.7,43.7 L133.8,42.9 L134.8,43.3 L135.7,44.0 L136.7,44.1 L137.7,44.1 L138.6,44.8 L139.6,44.8 L140.7,44.7 L141.8,44.2 L142.9,43.9 L144.0,43.9 L145.1,43.5 L146.2,43.5 L147.3,43.7 L148.4,43.1 L149.2,43.4 L150.0,43.9 L150.8,42.8 L151.7,42.1 L152.6,41.5 L153.4,41.2 L154.2,41.9 L155.1,43.3 L155.9,42.7 L156.8,42.3 L157.7,42.4 L158.5,42.7 L159.3,41.4 L160.2,40.3 L161.4,38.3 L162.5,37.0 L163.3,37.6 L164.2,37.7 L165.1,37.7 L165.9,36.5 L167.1,36.5 L168.2,36.4 L169.3,35.6 L170.5,35.4 L171.7,34.5 L172.8,33.7 L173.9,34.1 L175.0,34.2 L176.2,33.8 L177.3,33.1 L178.4,34.5 L179.6,35.3 L180.8,33.9 L181.9,32.5 L182.8,32.1 L183.8,31.5 L184.7,30.9 L185.6,30.1 L186.4,29.7 L187.6,28.8 L188.7,28.5 L189.8,29.1 L191.0,28.8 L192.1,29.1 L193.2,28.9 L194.4,29.5 L195.5,29.5 L196.7,29.0 L197.8,28.4 L198.9,27.3 L200.1,26.2 L201.2,25.7 L202.4,25.7 L203.5,25.1 L204.6,24.5 L205.8,25.0 L206.9,26.1 L208.1,24.8 L209.2,23.2 L210.3,22.2 L211.5,20.8 L212.6,20.4 L213.7,19.8 L214.8,19.2 L216.0,19.4 L217.2,19.2 L218.3,18.3 L219.6,19.4 L220.7,20.3 L221.8,20.9 L222.7,21.9 L223.5,24.0 L224.3,24.6 L225.2,26.3 L226.3,26.4 L227.5,26.2 L228.7,26.0 L229.8,26.1 L230.9,26.9 L232.1,27.9 L233.2,28.2 L234.3,28.0 L235.4,27.3 L236.6,27.4 L237.8,26.2 L238.9,26.3 L240.1,26.3 L241.2,27.3 L242.3,28.1 L243.5,29.1 L244.6,28.5 L245.7,28.5 L246.8,27.7 L248.0,27.8 L249.2,26.7 L250.3,26.3 L251.4,26.2 L252.6,26.0 L253.7,26.3 L254.8,26.2 L256.0,25.6 L257.1,25.5 L258.0,25.7 L258.8,26.3 L259.6,26.9 L260.5,27.4 L261.6,27.3 L262.8,27.3 L264.0,27.4 L265.1,27.4 L266.2,27.9 L267.4,27.9 L268.5,27.4 L269.6,27.9 L270.8,28.0 L271.9,28.4 L273.0,28.3 L274.2,28.4 L275.3,28.8 L276.1,29.1 L277.0,28.5 L277.9,27.7 L278.7,27.2 L279.5,26.8 L280.4,26.0 L281.3,26.1 L282.1,26.6 L283.0,26.7" fill="none" stroke="#000" stroke-width="1.45" stroke-linejoin="round" stroke-linecap="round" clip-path="url(#ca)" />
<path d="M52.0,60.7 L53.0,60.9 L54.0,61.0 L55.0,61.2 L56.0,60.9 L57.0,61.2 L58.0,59.7 L59.0,60.4 L60.0,61.2 L61.0,60.7 L62.0,61.1 L63.0,59.9 L64.0,60.5 L65.0,60.1 L66.0,60.6 L67.0,60.6 L68.0,59.7 L69.0,60.0 L70.0,60.1 L71.0,61.2 L72.0,60.9 L73.0,60.0 L74.0,61.0 L75.0,59.9 L76.0,60.7 L77.0,59.9 L78.0,59.7 L79.0,61.1 L80.0,60.0 L81.0,60.0 L82.0,61.3 L83.0,61.1 L84.0,60.2 L85.0,61.2 L86.0,60.6 L87.0,60.8 L88.0,60.0 L89.0,61.2 L90.0,60.8 L91.0,61.2 L92.0,61.1 L93.0,60.2 L94.0,60.3 L95.0,60.0 L96.0,59.9 L97.0,59.8 L98.0,60.2 L99.0,60.7 L100.0,59.7 L101.0,60.8 L102.0,60.2 L103.0,60.1 L104.0,60.9 L105.0,60.3 L106.0,60.1 L107.0,60.3 L108.0,60.6 L109.0,59.6 L110.0,61.0 L111.0,59.5 L112.0,60.6 L113.0,60.7 L114.0,59.4 L115.0,60.6 L116.0,59.9 L117.0,60.2 L118.0,59.3 L119.0,59.3 L120.0,59.5 L121.0,60.7 L122.0,59.5 L123.0,60.3 L124.0,60.6 L125.0,60.6 L126.0,59.6 L127.0,59.6 L128.0,59.8 L129.0,60.2 L130.0,59.1 L131.0,60.1 L132.0,60.2 L133.0,60.3 L134.0,58.9 L135.0,60.3 L136.0,58.9 L137.0,59.3 L138.0,59.7 L139.0,60.2 L140.0,59.2 L140.9,60.1 L141.8,59.4 L142.8,58.9 L143.7,58.8 L144.6,58.5 L145.7,58.3 L146.8,58.4 L148.0,59.3 L149.1,59.8 L150.0,58.7 L150.9,58.7 L151.9,60.4 L152.8,59.9 L153.7,59.9 L154.8,59.5 L155.9,60.0 L157.1,60.2 L158.2,59.4 L159.3,58.8 L160.5,57.7 L161.7,60.8 L162.8,61.1 L163.7,62.6 L164.5,64.0 L165.6,62.7 L166.7,63.4 L167.6,62.8 L168.5,61.4 L169.3,60.3 L170.2,57.8 L171.1,58.3 L172.1,57.8 L173.0,59.0 L174.1,57.1 L175.3,56.5 L176.4,56.4 L177.4,56.9 L178.3,57.8 L179.3,57.7 L180.2,58.3 L181.2,59.3 L182.1,59.5 L183.2,59.4 L184.4,59.7 L185.5,59.5 L186.6,59.5 L187.8,60.1 L188.9,59.7 L189.8,59.1 L190.7,58.7 L191.5,58.3 L192.4,57.7 L193.5,58.2 L194.7,59.3 L195.8,59.6 L196.9,58.9 L198.1,59.8 L199.2,59.9 L200.3,59.7 L201.4,59.5 L202.6,59.5 L203.7,58.8 L204.8,60.7 L206.0,61.4 L207.2,61.5 L208.3,61.6 L209.4,60.9 L210.5,59.8 L211.5,60.2 L212.6,59.2 L213.7,58.5 L214.6,57.9 L215.6,59.0 L216.6,58.9 L217.5,59.8 L218.4,59.8 L219.4,60.6 L220.3,60.2 L221.3,60.4 L222.2,59.6 L223.1,59.9 L224.1,60.0 L225.0,60.0 L226.0,59.2 L226.9,59.9 L227.9,59.8 L228.9,59.5 L229.8,59.8 L230.8,59.7 L231.7,59.2 L232.7,59.4 L233.6,59.0 L234.5,60.3 L235.5,60.6 L236.4,60.1 L237.3,60.3 L238.3,60.3 L239.2,60.2 L240.2,59.2 L241.2,60.0 L242.1,59.6 L243.1,59.7 L244.0,59.2 L244.9,59.4 L245.9,59.6 L246.9,59.3 L247.8,59.4 L248.8,58.4 L249.7,58.8 L250.7,59.5 L251.6,60.0 L252.6,59.5 L253.5,60.4 L254.4,60.5 L255.4,59.7 L256.4,60.6 L257.3,60.4 L258.2,60.3 L259.2,60.6 L260.1,60.7 L261.1,60.3 L262.0,60.2 L263.0,59.7 L263.9,60.2 L264.9,59.9 L265.8,60.3 L266.8,60.2 L267.8,59.7 L268.7,60.7 L269.7,59.3 L270.6,59.9 L271.6,59.6 L272.5,59.8 L273.5,59.2 L274.4,60.2 L275.4,59.4 L276.3,58.8 L277.3,59.8 L278.2,59.0 L279.2,59.8 L280.1,59.6 L281.1,60.1 L282.0,60.7 L283.0,60.6" fill="none" stroke="#ff0000" stroke-width="1.45" stroke-linejoin="round" stroke-linecap="round" clip-path="url(#cb)" />
<path d="M52.0,64.6 L53.0,64.7 L54.0,64.1 L55.0,63.7 L56.0,63.2 L57.0,64.4 L58.0,64.0 L59.0,64.6 L60.0,63.9 L61.0,64.6 L62.0,63.7 L63.0,64.6 L64.0,64.5 L65.0,63.9 L66.0,64.2 L67.0,64.4 L68.0,63.5 L69.0,64.2 L70.0,64.6 L71.0,63.7 L72.0,64.6 L73.0,64.4 L74.0,64.7 L75.0,63.8 L76.0,63.4 L77.0,64.6 L78.0,64.6 L79.0,64.0 L80.0,63.4 L81.0,63.5 L82.0,64.3 L83.0,63.7 L84.0,64.9 L85.0,64.2 L86.0,63.5 L87.0,64.3 L88.0,63.8 L89.0,64.8 L90.0,64.8 L91.0,64.1 L92.0,64.3 L93.0,64.4 L94.0,64.6 L95.0,64.9 L96.0,63.2 L97.0,63.8 L98.0,64.2 L99.0,63.7 L100.0,64.2 L101.0,63.3 L102.0,64.7 L103.0,64.1 L104.0,63.4 L105.0,64.4 L106.0,63.7 L107.0,63.5 L108.0,64.1 L109.0,63.5 L110.0,63.6 L111.0,64.8 L112.0,64.5 L113.0,63.3 L114.0,64.7 L115.0,63.3 L116.1,64.0 L117.1,65.2 L118.2,64.8 L119.2,64.3 L120.3,64.6 L121.4,64.5 L122.4,63.8 L123.5,65.3 L124.5,63.4 L125.6,64.0 L126.6,64.2 L127.7,63.2 L128.7,63.8 L129.8,62.1 L130.8,63.1 L131.8,62.2 L132.8,61.2 L133.8,60.9 L134.8,59.4 L135.8,60.4 L136.8,60.7 L137.7,60.6 L138.7,60.8 L139.6,60.9 L140.5,60.0 L141.4,59.1 L142.3,59.9 L143.4,58.8 L144.6,59.0 L145.7,60.1 L146.8,59.5 L147.9,58.9 L149.1,58.8 L149.9,60.8 L150.8,61.5 L152.0,67.7 L153.1,65.1 L153.9,64.9 L154.8,62.6 L155.9,62.2 L157.1,62.5 L158.2,62.6 L159.3,62.6 L160.2,62.4 L161.1,61.8 L162.2,65.2 L163.3,69.0 L164.5,64.9 L165.6,72.0 L166.7,76.9 L167.9,78.6 L169.0,75.7 L170.2,76.3 L171.1,74.4 L171.9,74.0 L172.8,72.6 L173.6,71.9 L174.7,66.9 L175.9,65.2 L177.0,68.9 L178.1,71.7 L179.3,72.3 L180.2,72.0 L181.0,70.1 L181.8,70.7 L182.7,72.6 L183.6,70.0 L184.4,69.6 L185.2,67.3 L186.1,66.6 L187.2,60.7 L188.1,57.3 L188.9,55.5 L189.8,56.7 L190.6,55.8 L191.5,56.6 L192.4,58.3 L193.5,57.5 L194.6,56.1 L195.8,57.5 L196.9,58.3 L198.1,58.2 L199.2,57.2 L200.3,58.9 L201.5,59.7 L202.6,57.5 L203.7,56.9 L204.9,55.4 L206.0,59.4 L207.0,61.2 L208.0,61.7 L209.2,63.4 L210.3,63.7 L211.4,64.5 L212.6,64.0 L213.7,65.8 L214.8,65.1 L215.9,64.9 L217.1,64.2 L218.2,63.7 L219.4,63.1 L220.6,60.9 L221.7,59.8 L222.8,59.8 L223.9,58.3 L224.8,58.1 L225.6,56.3 L226.4,57.4 L227.3,60.0 L228.4,59.7 L229.6,59.7 L230.8,59.3 L231.9,57.0 L233.0,58.5 L234.2,59.1 L235.3,58.0 L236.4,59.8 L237.6,58.8 L238.7,60.7 L239.6,57.5 L240.4,56.4 L241.2,57.2 L242.1,59.8 L243.2,58.7 L244.4,59.4 L245.3,59.7 L246.3,58.5 L247.2,57.4 L248.3,57.9 L249.5,59.5 L250.5,59.5 L251.4,58.6 L252.4,59.9 L253.5,57.8 L254.6,56.4 L255.5,57.4 L256.4,58.1 L257.2,56.2 L258.1,56.0 L259.2,56.9 L260.3,59.6 L261.5,58.9 L262.6,58.4 L263.8,58.2 L264.9,58.7 L266.0,59.7 L267.2,59.1 L268.3,60.1 L269.4,59.8 L270.6,60.4 L271.7,60.6 L272.8,61.5 L274.0,61.4 L275.1,61.3 L276.2,61.1 L277.4,61.5 L278.5,61.9 L279.6,61.2 L280.8,60.9 L281.9,61.3 L283.0,61.3" fill="none" stroke="#000" stroke-width="1.45" stroke-linejoin="round" stroke-linecap="round" clip-path="url(#cb)" />
<path d="M52.0,63.2 L53.0,62.9 L54.0,63.8 L55.0,62.7 L56.0,63.6 L57.0,63.2 L58.0,62.7 L59.0,63.5 L60.0,62.6 L61.0,63.3 L62.0,62.7 L63.0,62.7 L64.0,63.3 L65.0,64.0 L66.0,62.8 L67.0,62.9 L68.0,63.7 L69.0,64.2 L70.0,63.6 L71.0,63.2 L72.0,64.3 L73.0,62.6 L74.0,64.1 L75.0,63.0 L76.0,62.8 L77.0,62.7 L78.0,63.1 L79.0,64.0 L80.0,62.8 L81.0,63.6 L82.0,63.7 L83.0,63.2 L84.0,63.5 L85.0,62.6 L86.0,62.6 L87.0,62.9 L88.0,63.8 L89.0,63.3 L90.0,63.1 L91.0,63.6 L92.0,63.4 L93.0,63.1 L94.0,64.0 L95.0,63.8 L96.0,63.0 L97.0,63.6 L98.0,63.5 L99.0,64.2 L100.0,63.9 L101.0,63.1 L102.0,64.4 L103.0,62.8 L104.0,63.4 L105.0,64.0 L106.0,62.9 L107.0,63.5 L108.0,62.7 L109.0,63.9 L110.0,64.0 L111.0,63.7 L112.0,64.3 L113.0,63.3 L114.0,63.9 L115.0,63.8 L115.9,64.1 L116.8,64.3 L117.7,65.4 L118.8,66.0 L119.8,65.6 L120.9,66.3 L121.9,65.6 L123.0,67.2 L124.0,67.5 L125.0,68.6 L125.9,68.8 L126.9,68.3 L127.8,68.1 L128.6,68.1 L129.5,66.5 L130.4,68.4 L131.3,69.0 L132.2,70.0 L133.2,70.9 L134.1,73.2 L135.1,73.0 L136.1,74.2 L137.0,75.1 L137.8,76.6 L138.7,75.8 L139.6,76.8 L140.5,77.2 L141.4,78.1 L142.3,78.3 L143.4,79.0 L144.6,78.5 L145.7,78.4 L146.8,78.0 L147.9,78.1 L149.1,77.4 L150.2,76.8 L151.4,77.7 L152.6,78.7 L153.7,79.5 L154.8,79.4 L155.9,79.1 L157.1,78.8 L158.2,78.6 L159.1,79.9 L159.9,80.4 L160.8,82.1 L161.6,84.2 L162.4,80.9 L163.3,77.7 L164.2,78.2 L165.0,78.6 L166.2,77.2 L167.3,78.4 L168.4,78.8 L169.6,79.6 L170.8,78.3 L171.9,76.4 L172.8,76.7 L173.6,76.5 L174.7,84.2 L175.9,85.5 L176.8,84.7 L177.6,84.1 L178.7,83.7 L179.8,83.7 L180.9,82.3 L182.1,81.4 L183.2,81.1 L184.4,80.5 L185.6,80.7 L186.7,79.7 L187.8,80.4 L188.9,79.1 L190.1,77.1 L191.2,76.2 L192.3,74.6 L193.5,73.0 L194.7,70.8 L195.8,70.4 L196.9,70.1 L198.0,68.5 L199.2,68.9 L200.3,68.5 L201.4,69.9 L202.6,71.8 L203.8,69.4 L204.9,68.1 L206.0,62.4 L207.2,63.2 L208.3,66.0 L209.3,65.3 L210.3,64.6 L211.4,66.7 L212.6,67.2 L213.4,69.9 L214.3,72.4 L215.4,71.0 L216.5,69.6 L217.5,68.4 L218.4,68.2 L219.4,67.5 L220.6,69.4 L221.7,69.9 L222.8,69.2 L223.9,67.2 L225.1,67.9 L226.2,69.8 L227.1,69.7 L228.1,69.1 L229.0,68.7 L229.9,66.7 L230.8,64.5 L231.7,62.8 L232.5,62.4 L233.3,62.7 L234.2,62.7 L235.3,63.0 L236.4,63.7 L237.6,63.1 L238.7,63.2 L239.8,63.5 L241.0,62.3 L242.2,63.7 L243.3,64.4 L244.4,64.0 L245.5,62.7 L246.4,62.5 L247.2,62.7 L248.1,62.8 L249.0,63.0 L250.1,64.9 L251.2,66.5 L252.3,65.9 L253.5,64.7 L254.6,64.6 L255.8,64.4 L256.9,62.8 L258.0,62.9 L259.2,62.5 L260.3,61.5 L261.5,60.7 L262.6,59.5 L263.8,59.5 L264.9,61.2 L266.0,61.2 L267.2,62.9 L268.3,63.0 L269.5,61.8 L270.6,61.6 L271.7,62.8 L272.9,62.6 L274.0,61.8 L275.1,61.5 L276.3,61.4 L277.4,62.5 L278.5,62.9 L279.7,62.3 L280.8,63.3 L281.9,63.4 L283.0,62.7" fill="none" stroke="#0000ff" stroke-width="1.45" stroke-linejoin="round" stroke-linecap="round" clip-path="url(#cb)" />
<path d="M52.0,104.1 L53.0,104.3 L54.0,104.0 L55.0,104.1 L56.0,104.0 L57.0,104.0 L58.0,104.1 L59.0,103.9 L60.0,103.9 L61.0,103.9 L62.0,103.8 L63.0,103.8 L64.0,103.7 L65.0,103.8 L66.0,103.6 L67.0,103.6 L68.0,103.5 L69.0,103.6 L70.0,103.6 L71.0,103.7 L72.0,103.7 L73.0,103.6 L74.0,103.7 L75.0,103.9 L76.0,103.7 L77.0,103.9 L78.0,103.9 L79.0,104.0 L80.0,104.0 L81.0,104.1 L82.0,104.0 L83.0,104.1 L84.0,104.2 L85.0,104.1 L86.0,104.0 L87.0,104.0 L88.0,104.3 L89.0,104.2 L90.0,104.1 L91.0,104.3 L92.0,104.1 L93.0,104.1 L94.0,104.1 L95.0,103.9 L96.0,103.9 L97.0,103.9 L98.0,103.7 L99.0,103.8 L100.0,103.6 L101.0,103.8 L102.0,103.9 L103.0,104.0 L104.0,104.1 L105.0,104.1 L106.0,104.0 L107.0,104.1 L108.0,104.3 L109.0,104.3 L110.0,104.3 L111.1,104.4 L112.2,104.2 L113.2,104.1 L114.3,103.8 L115.4,103.8 L116.5,103.7 L117.5,103.7 L118.6,103.6 L119.7,103.6 L120.8,104.2 L121.8,104.9 L122.9,105.6 L124.0,104.6 L125.1,103.9 L126.2,103.0 L127.2,102.6 L128.3,102.1 L129.1,102.5 L129.9,103.2 L130.7,102.0 L131.5,100.8 L132.3,100.3 L133.2,99.6 L134.0,100.5 L134.8,101.5 L135.6,102.5 L136.4,103.6 L137.3,103.2 L138.2,102.8 L139.1,102.5 L140.1,102.6 L141.2,102.8 L142.3,103.3 L143.4,103.8 L144.5,104.4 L145.6,104.9 L146.6,105.6 L147.7,106.1 L148.8,106.3 L149.8,106.5 L150.9,106.4 L152.0,106.8 L153.1,107.3 L154.1,108.4 L155.2,109.5 L156.3,111.8 L157.4,113.9 L158.2,113.9 L159.0,113.5 L159.8,112.5 L160.6,111.1 L161.7,111.3 L162.8,111.1 L163.6,112.7 L164.4,114.0 L165.5,118.3 L166.6,119.5 L167.4,118.9 L168.2,118.5 L169.3,116.6 L170.4,114.8 L171.2,116.0 L172.0,117.1 L172.8,117.9 L173.6,118.6 L174.7,115.9 L175.8,111.2 L176.8,107.9 L177.7,106.8 L178.5,105.8 L179.6,105.3 L180.6,104.8 L181.7,104.4 L182.8,104.2 L183.9,103.6 L184.9,103.0 L185.7,101.9 L186.5,100.9 L187.6,100.0 L188.7,99.4 L189.8,99.1 L190.9,98.8 L192.0,98.9 L193.0,99.1 L194.1,99.3 L195.1,98.7 L196.2,98.3 L197.1,97.2 L197.9,96.1 L198.7,95.7 L199.5,95.2 L200.3,96.2 L201.1,97.2 L202.2,99.4 L203.2,97.7 L204.1,96.4 L204.9,95.3 L205.9,96.2 L206.8,98.6 L207.6,101.0 L208.4,102.4 L209.2,103.5 L210.2,104.9 L211.3,106.3 L212.4,107.5 L213.5,108.5 L214.6,109.4 L215.6,110.2 L216.4,110.1 L217.2,110.1 L218.1,109.7 L218.9,109.1 L219.9,108.4 L221.0,108.0 L222.1,107.6 L223.2,107.4 L224.1,107.0 L225.0,106.4 L226.1,106.6 L227.2,106.8 L228.1,107.3 L229.1,107.8 L230.0,108.1 L230.9,108.6 L231.8,107.8 L232.7,107.1 L233.6,106.3 L234.7,105.5 L235.7,104.7 L236.8,103.9 L237.9,103.3 L239.0,102.8 L240.1,102.1 L241.2,102.6 L242.2,103.2 L243.3,103.5 L244.2,104.2 L245.2,104.8 L246.2,105.6 L247.1,106.0 L248.2,105.3 L249.2,104.7 L250.3,103.9 L251.2,103.9 L252.1,104.2 L253.0,104.2 L254.1,104.2 L255.2,104.3 L256.2,102.6 L257.3,101.0 L258.1,100.6 L258.9,100.5 L260.0,101.2 L261.1,102.1 L262.1,102.5 L263.2,103.2 L264.1,103.3 L265.0,103.4 L265.9,103.6 L267.0,103.9 L268.1,104.3 L269.2,104.5 L270.1,104.7 L271.0,104.8 L271.9,105.2 L272.8,105.1 L273.7,104.8 L274.6,104.7 L275.7,104.9 L276.7,105.0 L277.8,105.1 L278.9,104.7 L279.9,104.6 L281.0,104.5 L282.0,104.3 L283.0,104.2" fill="none" stroke="#000" stroke-width="1.45" stroke-linejoin="round" stroke-linecap="round" clip-path="url(#cc)" />
<path d="M52.0,153.7H283.0" stroke="#0000ff" stroke-width="1.5" stroke-dasharray="4.6 3.8" fill="none"/>
<path d="M52.0,139.4 L53.0,139.1 L54.0,138.8 L55.0,139.3 L56.0,138.4 L57.0,138.7 L58.0,138.9 L59.0,138.0 L60.0,138.3 L61.0,138.2 L62.0,137.6 L63.0,137.7 L64.0,137.9 L65.0,137.7 L66.0,138.0 L67.0,137.5 L68.0,137.6 L69.0,137.5 L70.0,137.9 L71.0,138.3 L72.0,138.1 L73.0,138.3 L74.0,138.0 L75.0,138.3 L76.0,137.8 L77.0,138.0 L78.0,138.3 L79.0,138.4 L80.0,138.2 L81.0,137.9 L82.0,138.1 L83.0,138.1 L84.0,138.3 L85.0,138.8 L86.0,138.4 L87.0,139.1 L88.0,139.1 L89.0,138.5 L90.0,138.9 L91.0,139.1 L92.0,138.7 L93.0,139.2 L94.0,139.7 L95.0,139.1 L96.0,139.6 L97.0,139.2 L98.0,139.7 L99.0,140.1 L100.0,139.5 L101.0,139.4 L102.0,139.6 L103.0,140.1 L104.0,139.7 L105.0,139.8 L106.0,140.3 L107.0,140.7 L108.0,140.4 L109.0,140.4 L110.0,140.7 L111.0,140.4 L112.0,141.0 L113.0,140.8 L114.0,141.4 L115.0,141.9 L116.0,141.2 L117.0,141.8 L118.0,141.8 L119.0,141.3 L120.0,141.3 L121.0,141.9 L122.0,141.8 L123.0,140.9 L124.0,141.4 L125.0,141.5 L126.0,140.8 L127.0,141.1 L128.0,140.5 L129.0,140.7 L130.0,141.0 L131.0,140.8 L132.0,140.9 L133.0,140.2 L134.0,140.3 L135.0,140.7 L136.0,140.4 L137.0,140.2 L137.9,140.0 L138.9,140.4 L139.8,139.9 L140.8,139.3 L141.7,139.9 L142.7,139.5 L143.6,139.7 L144.6,139.5 L145.6,139.8 L146.5,139.8 L147.5,139.6 L148.7,139.9 L149.9,139.2 L151.1,141.3 L152.2,142.1 L153.1,143.7 L154.0,144.6 L155.1,141.9 L156.1,141.9 L157.0,141.3 L158.0,141.6 L159.2,140.3 L160.1,148.2 L160.7,142.9 L161.5,149.4 L162.7,146.5 L163.9,151.0 L165.0,149.4 L166.2,152.6 L167.4,151.0 L168.5,154.5 L169.7,153.4 L170.9,156.7 L172.0,159.9 L173.2,159.7 L174.4,159.3 L175.5,158.1 L176.7,159.0 L177.9,159.6 L179.0,155.5 L179.6,159.7 L180.8,154.7 L181.4,160.1 L182.6,158.1 L183.7,152.9 L184.9,149.8 L186.1,149.6 L187.2,148.6 L188.1,148.5 L189.1,149.0 L190.0,149.1 L191.1,148.2 L192.1,148.2 L193.1,148.0 L194.2,147.7 L195.2,146.7 L196.2,146.4 L197.3,145.1 L198.3,144.9 L199.2,144.5 L200.2,144.1 L201.1,143.3 L202.0,142.3 L203.0,141.6 L203.9,141.3 L204.9,140.7 L205.9,140.7 L206.9,140.6 L208.0,141.6 L208.9,140.1 L209.9,139.0 L210.8,138.2 L211.7,138.0 L212.7,137.6 L213.6,137.0 L214.6,136.7 L215.6,136.9 L216.7,137.3 L217.7,136.8 L218.6,137.5 L219.6,137.0 L220.5,138.2 L221.4,138.7 L222.2,138.9 L223.1,139.4 L224.0,139.9 L225.1,141.2 L226.3,141.3 L227.4,142.7 L228.3,142.1 L229.2,141.4 L230.0,141.3 L230.9,140.8 L231.9,141.6 L233.0,143.5 L233.9,144.4 L234.9,145.6 L235.8,146.9 L236.7,145.5 L237.6,145.0 L238.5,143.9 L239.4,144.8 L240.4,144.7 L241.3,145.7 L242.2,146.1 L243.2,146.4 L244.1,147.1 L245.0,146.1 L246.0,146.4 L246.9,146.2 L247.8,145.1 L248.7,143.7 L249.6,142.2 L250.7,142.3 L251.7,142.7 L252.8,142.3 L253.8,142.2 L254.9,142.3 L255.9,142.3 L256.9,142.2 L258.0,141.6 L258.9,142.7 L259.8,142.7 L260.7,143.6 L261.8,143.2 L262.8,144.4 L263.8,144.4 L264.9,145.1 L265.9,145.3 L267.0,145.3 L268.1,144.9 L269.1,145.3 L270.1,145.5 L271.1,146.4 L272.2,146.2 L273.2,146.5 L274.1,147.1 L275.1,147.9 L276.0,149.3 L276.9,147.9 L277.9,146.0 L278.8,144.9 L279.9,144.5 L280.9,144.4 L281.9,144.1 L283.0,144.1" fill="none" stroke="#000" stroke-width="1.25" stroke-linejoin="round" stroke-linecap="round" clip-path="url(#cd)" />
<path d="M52.0,226.2H283.0" stroke="#0000ff" stroke-width="1.5" stroke-dasharray="4.6 3.8" fill="none"/>
<path d="M52.0,211.8 L53.0,211.5 L54.0,211.2 L55.0,211.7 L56.0,210.8 L57.0,211.1 L58.0,211.3 L59.0,210.4 L60.0,210.7 L61.0,210.6 L62.0,210.0 L63.0,210.1 L64.0,210.3 L65.0,210.1 L66.0,210.4 L67.0,209.9 L68.0,210.0 L69.0,209.9 L70.0,210.3 L71.0,210.7 L72.0,210.5 L73.0,210.7 L74.0,210.4 L75.0,210.7 L76.0,210.2 L77.0,210.4 L78.0,210.7 L79.0,210.8 L80.0,210.6 L81.0,210.3 L82.0,210.5 L83.0,210.5 L84.0,210.7 L85.0,211.2 L86.0,210.8 L87.0,211.5 L88.0,211.5 L89.0,210.9 L90.0,211.3 L91.0,211.5 L92.0,211.1 L93.0,211.6 L94.0,212.1 L95.0,211.5 L96.0,212.0 L97.0,211.6 L98.0,212.1 L99.0,212.5 L100.0,211.9 L101.0,211.8 L102.0,212.0 L103.0,212.5 L104.0,212.1 L105.0,212.2 L106.0,212.7 L107.0,213.1 L108.0,212.8 L109.0,212.8 L110.0,213.1 L111.0,212.8 L112.0,213.4 L113.0,213.2 L114.0,213.8 L115.0,214.3 L116.0,213.6 L117.0,214.2 L118.0,214.2 L119.0,213.7 L120.0,213.7 L121.0,214.3 L122.0,214.2 L123.0,213.3 L124.0,213.8 L125.0,213.9 L126.0,213.2 L127.0,213.5 L128.0,212.9 L129.0,213.1 L130.0,213.4 L131.0,213.2 L132.0,213.3 L133.0,212.6 L134.0,212.7 L135.0,213.1 L136.0,212.8 L137.0,212.6 L137.9,212.4 L138.9,212.8 L139.8,212.3 L140.8,211.7 L141.7,212.3 L142.7,211.9 L143.6,212.1 L144.6,211.9 L145.6,212.2 L146.5,212.2 L147.5,212.0 L148.7,212.3 L149.9,211.6 L151.1,213.7 L152.2,214.5 L153.1,216.1 L154.0,217.0 L155.1,214.3 L156.1,214.3 L157.0,213.7 L158.0,214.0 L159.2,212.7 L160.1,220.6 L160.7,215.3 L161.5,221.8 L162.7,218.9 L163.9,223.4 L165.0,221.8 L166.2,225.0 L167.4,223.4 L168.5,226.9 L169.7,225.8 L170.9,229.1 L172.0,232.3 L173.2,232.1 L174.4,231.7 L175.5,230.5 L176.7,231.4 L177.9,232.0 L179.0,227.9 L179.6,232.1 L180.8,227.1 L181.4,232.5 L182.6,230.5 L183.7,225.3 L184.9,222.2 L186.1,222.0 L187.2,221.0 L188.1,220.9 L189.1,221.4 L190.0,221.5 L191.1,220.6 L192.1,220.6 L193.1,220.4 L194.2,220.1 L195.2,219.1 L196.2,218.8 L197.3,217.5 L198.3,217.3 L199.2,216.9 L200.2,216.5 L201.1,215.7 L202.0,214.7 L203.0,214.0 L203.9,213.7 L204.9,213.1 L205.9,213.1 L206.9,213.0 L208.0,214.0 L208.9,212.5 L209.9,211.4 L210.8,210.6 L211.7,210.4 L212.7,210.0 L213.6,209.4 L214.6,209.1 L215.6,209.3 L216.7,209.7 L217.7,209.2 L218.6,209.9 L219.6,209.4 L220.5,210.6 L221.4,211.1 L222.2,211.3 L223.1,211.8 L224.0,212.3 L225.1,213.6 L226.3,213.7 L227.4,215.1 L228.3,214.5 L229.2,213.8 L230.0,213.7 L230.9,213.2 L231.9,214.0 L233.0,215.9 L233.9,216.8 L234.9,218.0 L235.8,219.3 L236.7,217.9 L237.6,217.4 L238.5,216.3 L239.4,217.2 L240.4,217.1 L241.3,218.1 L242.2,218.5 L243.2,218.8 L244.1,219.5 L245.0,218.5 L246.0,218.8 L246.9,218.6 L247.8,217.5 L248.7,216.1 L249.6,214.6 L250.7,214.7 L251.7,215.1 L252.8,214.7 L253.8,214.6 L254.9,214.7 L255.9,214.7 L256.9,214.6 L258.0,214.0 L258.9,215.1 L259.8,215.1 L260.7,216.0 L261.8,215.6 L262.8,216.8 L263.8,216.8 L264.9,217.5 L265.9,217.7 L267.0,217.7 L268.1,217.3 L269.1,217.7 L270.1,217.9 L271.1,218.8 L272.2,218.6 L273.2,218.9 L274.1,219.5 L275.1,220.3 L276.0,221.7 L276.9,220.3 L277.9,218.4 L278.8,217.3 L279.9,216.9 L280.9,216.8 L281.9,216.5 L283.0,216.5" fill="none" stroke="#000" stroke-width="1.25" stroke-linejoin="round" stroke-linecap="round" clip-path="url(#cf)" />
<path d="M52.0,262.3H283.0" stroke="#0000ff" stroke-width="1.5" stroke-dasharray="4.6 3.8" fill="none"/>
<path d="M52.0,248.8 L53.0,248.5 L54.0,248.2 L55.0,248.7 L56.0,247.8 L57.0,248.1 L58.0,248.3 L59.0,247.4 L60.0,247.7 L61.0,247.6 L62.0,247.0 L63.0,247.1 L64.0,247.3 L65.0,247.1 L66.0,247.4 L67.0,246.9 L68.0,247.0 L69.0,246.9 L70.0,247.3 L71.0,247.7 L72.0,247.5 L73.0,247.7 L74.0,247.4 L75.0,247.7 L76.0,247.2 L77.0,247.4 L78.0,247.7 L79.0,247.8 L80.0,247.6 L81.0,247.3 L82.0,247.5 L83.0,247.5 L84.0,247.7 L85.0,248.2 L86.0,247.8 L87.0,248.5 L88.0,248.5 L89.0,247.9 L90.0,248.3 L91.0,248.5 L92.0,248.1 L93.0,248.6 L94.0,249.1 L95.0,248.5 L96.0,249.0 L97.0,248.6 L98.0,249.1 L99.0,249.5 L100.0,248.9 L101.0,248.8 L102.0,249.0 L103.0,249.5 L104.0,249.1 L105.0,249.2 L106.0,249.7 L107.0,250.1 L108.0,249.8 L109.0,249.8 L110.0,250.1 L111.0,249.8 L112.0,250.4 L113.0,250.2 L114.0,250.8 L115.0,251.3 L116.0,250.6 L117.0,251.2 L118.0,251.2 L119.0,250.7 L120.0,250.7 L121.0,251.3 L122.0,251.2 L123.0,250.3 L124.0,250.8 L125.0,250.9 L126.0,250.2 L127.0,250.5 L128.0,249.9 L129.0,250.1 L130.0,250.4 L131.0,250.2 L132.0,250.3 L133.0,249.6 L134.0,249.7 L135.0,250.1 L136.0,249.8 L137.0,249.6 L137.9,249.4 L138.9,249.8 L139.8,249.3 L140.8,248.7 L141.7,249.3 L142.7,248.9 L143.6,249.1 L144.6,248.9 L145.6,249.2 L146.5,249.2 L147.5,249.0 L148.7,249.3 L149.9,248.6 L151.1,250.7 L152.2,251.5 L153.1,253.1 L154.0,254.0 L155.1,251.3 L156.1,251.3 L157.0,250.7 L158.0,251.0 L159.2,249.7 L160.1,257.6 L160.7,252.3 L161.5,258.8 L162.7,255.9 L163.9,260.4 L165.0,258.8 L166.2,262.0 L167.4,260.4 L168.5,263.9 L169.7,262.8 L170.9,266.1 L172.0,269.3 L173.2,269.1 L174.4,268.7 L175.5,267.5 L176.7,268.4 L177.9,269.0 L179.0,264.9 L179.6,269.1 L180.8,264.1 L181.4,269.5 L182.6,267.5 L183.7,262.3 L184.9,259.2 L186.1,259.0 L187.2,258.0 L188.1,257.9 L189.1,258.4 L190.0,258.5 L191.1,257.6 L192.1,257.6 L193.1,257.4 L194.2,257.1 L195.2,256.1 L196.2,255.8 L197.3,254.5 L198.3,254.3 L199.2,253.9 L200.2,253.5 L201.1,252.7 L202.0,251.7 L203.0,251.0 L203.9,250.7 L204.9,250.1 L205.9,250.1 L206.9,250.0 L208.0,251.0 L208.9,249.5 L209.9,248.4 L210.8,247.6 L211.7,247.4 L212.7,247.0 L213.6,246.4 L214.6,246.1 L215.6,246.3 L216.7,246.7 L217.7,246.2 L218.6,246.9 L219.6,246.4 L220.5,247.6 L221.4,248.1 L222.2,248.3 L223.1,248.8 L224.0,249.3 L225.1,250.6 L226.3,250.7 L227.4,252.1 L228.3,251.5 L229.2,250.8 L230.0,250.7 L230.9,250.2 L231.9,251.0 L233.0,252.9 L233.9,253.8 L234.9,255.0 L235.8,256.3 L236.7,254.9 L237.6,254.4 L238.5,253.3 L239.4,254.2 L240.4,254.1 L241.3,255.1 L242.2,255.5 L243.2,255.8 L244.1,256.5 L245.0,255.5 L246.0,255.8 L246.9,255.6 L247.8,254.5 L248.7,253.1 L249.6,251.6 L250.7,251.7 L251.7,252.1 L252.8,251.7 L253.8,251.6 L254.9,251.7 L255.9,251.7 L256.9,251.6 L258.0,251.0 L258.9,252.1 L259.8,252.1 L260.7,253.0 L261.8,252.6 L262.8,253.8 L263.8,253.8 L264.9,254.5 L265.9,254.7 L267.0,254.7 L268.1,254.3 L269.1,254.7 L270.1,254.9 L271.1,255.8 L272.2,255.6 L273.2,255.9 L274.1,256.5 L275.1,257.3 L276.0,258.7 L276.9,257.3 L277.9,255.4 L278.8,254.3 L279.9,253.9 L280.9,253.8 L281.9,253.5 L283.0,253.5" fill="none" stroke="#000" stroke-width="1.25" stroke-linejoin="round" stroke-linecap="round" clip-path="url(#cg)" />
<path d="M52.0,298.6H283.0" stroke="#0000ff" stroke-width="1.5" stroke-dasharray="4.6 3.8" fill="none"/>
<path d="M52.0,284.8 L53.0,284.5 L54.0,284.2 L55.0,284.7 L56.0,283.8 L57.0,284.1 L58.0,284.3 L59.0,283.4 L60.0,283.7 L61.0,283.6 L62.0,283.0 L63.0,283.1 L64.0,283.3 L65.0,283.1 L66.0,283.4 L67.0,282.9 L68.0,283.0 L69.0,282.9 L70.0,283.3 L71.0,283.7 L72.0,283.5 L73.0,283.7 L74.0,283.4 L75.0,283.7 L76.0,283.2 L77.0,283.4 L78.0,283.7 L79.0,283.8 L80.0,283.6 L81.0,283.3 L82.0,283.5 L83.0,283.5 L84.0,283.7 L85.0,284.2 L86.0,283.8 L87.0,284.5 L88.0,284.5 L89.0,283.9 L90.0,284.3 L91.0,284.5 L92.0,284.1 L93.0,284.6 L94.0,285.1 L95.0,284.5 L96.0,285.0 L97.0,284.6 L98.0,285.1 L99.0,285.5 L100.0,284.9 L101.0,284.8 L102.0,285.0 L103.0,285.5 L104.0,285.1 L105.0,285.2 L106.0,285.7 L107.0,286.1 L108.0,285.8 L109.0,285.8 L110.0,286.1 L111.0,285.8 L112.0,286.4 L113.0,286.2 L114.0,286.8 L115.0,287.3 L116.0,286.6 L117.0,287.2 L118.0,287.2 L119.0,286.7 L120.0,286.7 L121.0,287.3 L122.0,287.2 L123.0,286.3 L124.0,286.8 L125.0,286.9 L126.0,286.2 L127.0,286.5 L128.0,285.9 L129.0,286.1 L130.0,286.4 L131.0,286.2 L132.0,286.3 L133.0,285.6 L134.0,285.7 L135.0,286.1 L136.0,285.8 L137.0,285.6 L137.9,285.4 L138.9,285.8 L139.8,285.3 L140.8,284.7 L141.7,285.3 L142.7,284.9 L143.6,285.1 L144.6,284.9 L145.6,285.2 L146.5,285.2 L147.5,285.0 L148.7,285.3 L149.9,284.6 L151.1,286.7 L152.2,287.5 L153.1,289.1 L154.0,290.0 L155.1,287.3 L156.1,287.3 L157.0,286.7 L158.0,287.0 L159.2,285.7 L160.1,293.6 L160.7,288.3 L161.5,294.8 L162.7,291.9 L163.9,296.4 L165.0,294.8 L166.2,298.0 L167.4,296.4 L168.5,299.9 L169.7,298.8 L170.9,302.1 L172.0,305.3 L173.2,305.1 L174.4,304.7 L175.5,303.5 L176.7,304.4 L177.9,305.0 L179.0,300.9 L179.6,305.1 L180.8,300.1 L181.4,305.5 L182.6,303.5 L183.7,298.3 L184.9,295.2 L186.1,295.0 L187.2,294.0 L188.1,293.9 L189.1,294.4 L190.0,294.5 L191.1,293.6 L192.1,293.6 L193.1,293.4 L194.2,293.1 L195.2,292.1 L196.2,291.8 L197.3,290.5 L198.3,290.3 L199.2,289.9 L200.2,289.5 L201.1,288.7 L202.0,287.7 L203.0,287.0 L203.9,286.7 L204.9,286.1 L205.9,286.1 L206.9,286.0 L208.0,287.0 L208.9,285.5 L209.9,284.4 L210.8,283.6 L211.7,283.4 L212.7,283.0 L213.6,282.4 L214.6,282.1 L215.6,282.3 L216.7,282.7 L217.7,282.2 L218.6,282.9 L219.6,282.4 L220.5,283.6 L221.4,284.1 L222.2,284.3 L223.1,284.8 L224.0,285.3 L225.1,286.6 L226.3,286.7 L227.4,288.1 L228.3,287.5 L229.2,286.8 L230.0,286.7 L230.9,286.2 L231.9,287.0 L233.0,288.9 L233.9,289.8 L234.9,291.0 L235.8,292.3 L236.7,290.9 L237.6,290.4 L238.5,289.3 L239.4,290.2 L240.4,290.1 L241.3,291.1 L242.2,291.5 L243.2,291.8 L244.1,292.5 L245.0,291.5 L246.0,291.8 L246.9,291.6 L247.8,290.5 L248.7,289.1 L249.6,287.6 L250.7,287.7 L251.7,288.1 L252.8,287.7 L253.8,287.6 L254.9,287.7 L255.9,287.7 L256.9,287.6 L258.0,287.0 L258.9,288.1 L259.8,288.1 L260.7,289.0 L261.8,288.6 L262.8,289.8 L263.8,289.8 L264.9,290.5 L265.9,290.7 L267.0,290.7 L268.1,290.3 L269.1,290.7 L270.1,290.9 L271.1,291.8 L272.2,291.6 L273.2,291.9 L274.1,292.5 L275.1,293.3 L276.0,294.7 L276.9,293.3 L277.9,291.4 L278.8,290.3 L279.9,289.9 L280.9,289.8 L281.9,289.5 L283.0,289.5" fill="none" stroke="#000" stroke-width="1.25" stroke-linejoin="round" stroke-linecap="round" clip-path="url(#ch)" />
<path d="M52.0,182.5 L53.0,182.5 L54.0,182.5 L55.0,182.3 L56.0,182.7 L57.0,182.7 L58.0,182.6 L59.0,182.3 L60.0,182.5 L61.0,182.4 L62.0,182.3 L63.0,182.8 L64.0,182.8 L65.0,182.2 L66.0,182.7 L67.0,182.6 L68.0,182.4 L69.0,182.4 L70.0,182.6 L71.0,182.5 L72.0,182.6 L73.0,182.6 L74.0,182.3 L75.0,182.7 L76.0,182.8 L77.0,182.8 L78.0,182.6 L79.0,182.2 L80.0,182.2 L81.0,182.3 L82.0,182.8 L83.0,182.4 L84.0,182.4 L85.0,182.7 L86.0,182.4 L87.0,182.5 L88.0,182.5 L89.0,182.2 L90.0,182.6 L91.0,182.7 L92.0,182.3 L93.0,182.3 L94.0,182.4 L95.0,182.2 L96.0,182.5 L97.0,182.7 L98.0,182.6 L99.0,182.5 L100.0,182.7 L101.0,182.3 L102.0,182.5 L103.0,182.4 L104.0,182.6 L105.0,182.3 L106.0,182.7 L107.0,182.3 L108.0,182.3 L109.0,182.7 L110.0,182.8 L111.0,182.5 L112.0,182.4 L113.0,182.3 L114.0,182.4 L115.0,182.6 L116.0,182.1 L117.0,181.9 L118.0,181.9 L119.0,181.5 L120.0,181.6 L121.0,181.7 L122.0,181.7 L123.0,181.5 L124.0,181.4 L125.0,181.5 L126.0,181.2 L127.0,181.6 L128.0,181.4 L129.0,181.4 L130.0,181.2 L131.0,181.5 L132.0,181.5 L133.0,181.4 L134.0,181.7 L135.0,181.6 L136.0,181.4 L137.0,181.7 L138.0,182.0 L139.0,181.9 L140.0,182.1 L141.0,181.8 L142.0,182.2 L143.0,182.3 L144.0,182.3 L145.0,182.5 L146.0,182.5 L147.0,182.3 L148.0,182.2 L149.0,181.9 L150.0,182.0 L151.0,182.2 L152.0,181.7 L153.0,181.4 L154.0,181.3 L155.0,181.5 L156.0,181.2 L157.0,181.3 L158.0,181.3 L159.0,181.5 L160.0,181.8 L161.0,181.5 L162.0,181.5 L163.0,181.5 L164.0,181.5 L165.0,181.5 L166.0,181.6 L167.0,181.7 L168.0,181.6 L169.0,181.5 L170.0,181.6 L171.0,181.8 L172.0,181.4 L173.0,181.5 L174.0,181.8 L175.0,181.9 L176.0,181.9 L177.0,181.9 L178.0,182.1 L179.0,181.9 L180.0,182.2 L181.0,182.3 L182.0,182.0 L183.0,182.2 L184.0,182.1 L185.0,182.2 L186.0,181.7 L187.0,182.2 L188.0,182.2 L189.0,182.3 L190.0,182.3 L191.0,181.9 L192.0,182.1 L193.0,181.8 L194.0,182.1 L195.0,182.3 L196.0,181.8 L197.0,181.9 L198.0,181.7 L199.0,181.8 L200.0,181.8 L201.0,181.8 L202.0,182.3 L203.0,182.2 L204.0,182.0 L205.0,182.1 L206.0,182.1 L207.0,182.0 L208.0,182.0 L209.0,182.1 L210.0,182.0 L211.0,181.9 L212.0,181.9 L213.0,182.1 L214.0,182.1 L215.0,181.8 L216.0,182.1 L217.0,182.2 L218.0,182.2 L219.0,182.1 L220.0,181.7 L221.0,182.0 L222.0,181.8 L223.0,181.7 L224.0,181.9 L225.0,182.0 L226.0,182.2 L227.0,182.1 L228.0,181.9 L229.0,182.1 L230.0,182.0 L231.0,182.0 L232.0,181.9 L233.0,182.0 L234.0,181.9 L235.0,182.1 L236.0,182.0 L237.0,182.0 L238.0,182.0 L239.0,182.0 L240.0,182.1 L241.0,182.1 L242.0,182.2 L243.0,181.9 L244.0,182.2 L245.0,182.3 L246.0,182.3 L247.0,182.1 L248.0,181.7 L249.0,182.2 L250.0,182.2 L251.0,181.7 L252.0,181.9 L253.0,181.9 L254.0,182.1 L255.0,182.1 L256.0,181.9 L257.0,181.8 L258.0,181.8 L259.0,181.8 L260.0,182.2 L261.0,182.3 L262.0,181.8 L263.0,182.1 L264.0,182.3 L265.0,181.8 L266.0,182.0 L267.0,182.0 L268.0,182.3 L269.0,182.2 L270.0,181.7 L271.0,181.8 L272.0,182.2 L273.0,182.0 L274.0,182.0 L275.0,182.2 L276.0,182.2 L277.0,182.3 L278.0,181.9 L279.0,181.7 L280.0,182.1 L281.0,181.7 L282.0,182.0 L283.0,182.2" fill="none" stroke="#0000ff" stroke-width="1.45" stroke-linejoin="round" stroke-linecap="round" clip-path="url(#ce)" />
<path d="M52.0,183.6 L53.0,183.6 L54.0,183.9 L55.0,183.6 L56.0,183.6 L57.0,183.7 L58.0,183.4 L59.0,183.6 L60.0,183.7 L61.0,183.8 L62.0,183.4 L63.0,183.5 L64.0,183.4 L65.0,183.8 L66.0,183.7 L67.0,183.3 L68.0,183.9 L69.0,183.9 L70.0,183.7 L71.0,183.7 L72.0,183.4 L73.0,183.3 L74.0,183.6 L75.0,183.3 L76.0,183.4 L77.0,183.4 L78.0,183.3 L79.0,183.6 L80.0,183.6 L81.0,183.8 L82.0,183.6 L83.0,183.7 L84.0,183.6 L85.0,183.7 L86.0,183.6 L87.0,183.5 L88.0,183.9 L89.0,183.9 L90.0,183.8 L91.0,183.7 L92.0,183.5 L93.0,183.4 L94.0,183.5 L95.0,183.3 L96.0,183.8 L97.0,183.5 L98.0,183.8 L99.0,183.5 L100.0,183.9 L101.0,183.8 L102.0,183.3 L103.0,183.4 L104.0,183.8 L105.0,183.6 L106.0,183.9 L107.0,183.5 L108.0,183.3 L109.0,183.7 L110.0,183.8 L111.0,183.5 L112.0,183.4 L113.0,183.5 L114.0,183.9 L115.0,183.8 L116.0,183.4 L117.0,183.4 L118.0,183.4 L119.0,183.3 L120.0,183.8 L121.0,183.4 L122.0,183.6 L123.0,183.6 L124.0,183.4 L125.0,183.7 L126.0,183.4 L127.0,183.7 L128.0,183.4 L129.0,183.9 L130.0,184.1 L131.0,184.5 L132.0,185.2 L133.0,185.4 L134.0,184.7 L135.0,184.6 L136.0,183.8 L137.0,183.8 L138.0,184.0 L139.0,183.8 L140.0,183.4 L141.0,183.9 L142.0,183.4 L143.0,183.5 L144.0,183.8 L145.0,183.5 L146.0,183.5 L147.0,183.3 L148.0,183.4 L149.0,183.6 L150.0,183.4 L151.0,183.7 L152.0,183.5 L153.0,183.6 L154.0,183.9 L155.0,183.6 L156.0,183.6 L157.0,183.8 L158.0,183.4 L159.0,183.4 L160.0,183.8 L161.0,183.8 L162.0,183.4 L163.0,183.4 L164.0,183.7 L165.0,183.9 L166.0,183.4 L167.0,183.9 L168.0,183.8 L169.0,183.7 L170.0,183.6 L171.0,183.4 L172.0,183.3 L173.0,183.9 L174.0,183.4 L175.0,183.7 L176.0,183.5 L177.0,183.8 L178.0,183.7 L179.0,183.5 L180.0,183.4 L181.0,183.7 L182.0,183.3 L183.0,183.4 L184.0,183.6 L185.0,183.8 L186.0,183.7 L187.0,183.5 L188.0,183.9 L189.0,183.4 L190.0,183.3 L191.0,183.5 L192.0,183.6 L193.0,183.3 L194.0,183.4 L195.0,183.5 L196.0,183.6 L197.0,183.4 L198.0,183.5 L199.0,183.8 L200.0,183.9 L201.0,183.7 L202.0,183.7 L203.0,183.7 L204.0,183.4 L205.0,183.3 L206.0,183.3 L207.0,183.8 L208.0,183.7 L209.0,183.9 L210.0,183.3 L211.0,183.7 L212.0,183.6 L213.0,183.7 L214.0,183.5 L215.0,183.9 L216.0,183.3 L217.0,183.6 L218.0,183.7 L219.0,183.8 L220.0,183.7 L221.0,183.7 L222.0,183.8 L223.0,183.8 L224.0,183.5 L225.0,183.7 L226.0,183.8 L227.0,183.8 L228.0,183.6 L229.0,183.8 L230.0,183.8 L231.0,183.6 L232.0,183.7 L233.0,183.5 L234.0,183.6 L235.0,183.7 L236.0,183.3 L237.0,183.7 L238.0,183.9 L239.0,183.8 L240.0,183.7 L241.0,183.5 L242.0,183.7 L243.0,183.6 L244.0,183.6 L245.0,183.8 L246.0,183.4 L247.0,183.8 L248.0,183.3 L249.0,183.7 L250.0,183.6 L251.0,183.4 L252.0,183.7 L253.0,183.6 L254.0,183.7 L255.0,183.9 L256.0,183.5 L257.0,183.3 L258.0,183.5 L259.0,183.7 L260.0,183.4 L261.0,183.4 L262.0,183.8 L263.0,183.7 L264.0,183.6 L265.0,183.8 L266.0,183.5 L267.0,183.7 L268.0,183.4 L269.0,183.6 L270.0,183.8 L271.0,183.8 L272.0,183.8 L273.0,183.5 L274.0,183.6 L275.0,183.5 L276.0,183.4 L277.0,183.6 L278.0,183.8 L279.0,183.8 L280.0,183.7 L281.0,183.9 L282.0,183.5 L283.0,183.4" fill="none" stroke="#ff0000" stroke-width="1.45" stroke-linejoin="round" stroke-linecap="round" clip-path="url(#ce)" />
<path d="M52.0,182.4 L53.0,182.5 L54.0,182.5 L55.0,182.3 L56.0,182.2 L57.0,182.3 L58.0,182.3 L59.0,182.5 L60.0,182.5 L61.0,182.4 L62.0,182.4 L63.0,182.5 L64.0,182.3 L65.0,182.4 L66.0,182.3 L67.0,182.6 L68.0,182.2 L69.0,182.5 L70.0,182.2 L71.0,182.5 L72.0,182.3 L73.0,182.4 L74.0,182.5 L75.0,182.2 L76.0,182.2 L77.0,182.6 L78.0,182.4 L79.0,182.2 L80.0,182.6 L81.0,182.6 L82.0,182.2 L83.0,182.4 L84.0,182.3 L85.0,182.3 L86.0,182.4 L87.0,182.3 L88.0,182.5 L89.0,182.2 L90.0,182.3 L91.0,182.5 L92.0,182.4 L93.0,182.4 L94.0,182.4 L95.0,182.4 L96.0,182.4 L97.0,182.2 L98.0,182.5 L99.0,182.6 L100.0,182.6 L101.0,182.5 L102.0,182.3 L103.0,182.3 L104.0,182.4 L105.0,182.4 L106.0,182.2 L107.0,182.2 L108.0,182.3 L109.0,182.3 L110.0,182.4 L111.0,182.3 L112.0,182.1 L113.0,182.4 L114.0,182.2 L115.0,182.3 L116.0,182.1 L117.0,182.2 L118.0,182.2 L119.0,182.3 L120.0,182.0 L121.0,182.2 L122.0,182.1 L123.0,182.3 L124.0,182.1 L125.0,182.2 L126.0,182.3 L127.0,182.4 L128.0,182.2 L129.0,182.4 L130.0,182.3 L131.0,182.4 L132.0,182.6 L133.0,182.9 L134.0,182.8 L135.0,183.1 L136.0,182.7 L137.0,183.0 L138.0,182.7 L139.0,182.6 L140.0,182.8 L140.9,182.5 L141.8,181.8 L142.8,181.6 L143.7,181.4 L144.6,180.9 L145.7,180.6 L146.8,180.3 L148.0,180.0 L149.1,179.9 L150.0,179.8 L150.9,179.4 L151.9,178.9 L152.8,178.3 L153.7,178.1 L154.8,177.3 L156.0,176.4 L157.1,175.4 L158.2,172.9 L159.3,170.8 L160.2,169.1 L161.1,167.5 L161.9,167.0 L162.8,167.0 L163.7,166.8 L164.5,166.4 L165.6,167.3 L166.4,168.9 L167.3,170.1 L168.4,171.2 L169.6,171.9 L170.8,171.1 L171.9,170.3 L172.8,168.7 L173.6,167.3 L174.4,168.2 L175.3,169.2 L176.4,171.7 L177.6,174.1 L178.7,176.4 L179.8,178.2 L180.8,179.4 L181.7,180.8 L182.7,182.4 L183.6,183.2 L184.6,184.1 L185.5,185.2 L186.6,185.8 L187.8,186.2 L188.9,186.7 L189.8,187.2 L190.7,187.7 L191.5,188.1 L192.4,188.4 L193.5,189.3 L194.7,190.3 L195.8,191.4 L196.9,192.2 L198.0,192.8 L199.2,192.8 L200.3,192.6 L201.2,192.0 L202.0,191.5 L202.8,192.0 L203.7,192.4 L204.6,193.1 L205.4,193.5 L206.3,190.5 L207.2,187.8 L208.1,186.5 L209.1,185.4 L210.0,184.0 L211.0,183.0 L212.0,182.1 L213.0,181.0 L214.0,180.3 L215.0,180.2 L216.0,180.0 L217.0,179.7 L218.0,179.7 L219.0,179.5 L220.0,179.5 L221.0,179.1 L222.0,178.9 L223.0,178.8 L224.0,178.8 L225.0,178.6 L226.0,179.2 L227.0,179.9 L228.0,180.2 L229.0,179.9 L230.0,179.8 L231.0,179.6 L232.0,179.3 L233.0,179.5 L234.0,179.3 L235.0,179.3 L236.0,179.3 L237.0,179.6 L238.0,178.9 L239.0,178.7 L240.0,178.3 L241.0,177.9 L242.0,177.7 L243.0,178.0 L244.0,178.7 L245.0,179.0 L246.0,179.5 L247.0,179.7 L248.0,180.4 L249.0,181.1 L250.0,181.8 L251.0,182.2 L252.0,182.9 L253.0,183.6 L254.0,184.2 L255.0,184.6 L256.0,184.5 L257.0,184.4 L258.0,184.1 L259.0,184.0 L260.0,183.9 L261.0,183.9 L262.0,183.6 L263.0,183.6 L264.0,183.4 L265.0,183.4 L266.0,183.2 L267.0,183.2 L268.0,183.0 L269.0,182.9 L270.0,182.8 L271.0,182.7 L272.0,182.7 L273.0,182.5 L274.0,182.3 L275.0,182.5 L276.0,182.2 L277.0,182.3 L278.0,182.1 L279.0,181.9 L280.0,182.0 L281.0,181.9 L282.0,181.5 L283.0,181.4" fill="none" stroke="#000" stroke-width="1.5" stroke-linejoin="round" stroke-linecap="round" clip-path="url(#ce)" />
<path d="M52.0,183.0 L53.0,183.1 L54.0,183.1 L55.0,182.9 L56.0,182.8 L57.0,182.9 L58.0,182.9 L59.0,183.1 L60.0,183.1 L61.0,183.0 L62.0,183.0 L63.0,183.1 L64.0,182.9 L65.0,183.0 L66.0,182.9 L67.0,183.2 L68.0,182.8 L69.0,183.1 L70.0,182.8 L71.0,183.1 L72.0,182.9 L73.0,183.0 L74.0,183.1 L75.0,182.8 L76.0,182.8 L77.0,183.2 L78.0,183.0 L79.0,182.8 L80.0,183.2 L81.0,183.2 L82.0,182.8 L83.0,183.0 L84.0,182.9 L85.0,182.9 L86.0,183.0 L87.0,182.9 L88.0,183.1 L89.0,182.8 L90.0,182.9 L91.0,183.1 L92.0,183.0 L93.0,183.0 L94.0,183.0 L95.0,183.0 L96.0,183.0 L97.0,182.8 L98.0,183.1 L99.0,183.2 L100.0,183.2 L101.0,183.1 L102.0,182.9 L103.0,182.9 L104.0,183.0 L105.0,183.0 L106.0,182.8 L107.0,182.8 L108.0,182.9 L109.0,182.9 L110.0,183.0 L111.0,182.9 L112.0,182.7 L113.0,183.0 L114.0,182.8 L115.0,182.9 L116.0,182.7 L117.0,182.8 L118.0,182.8 L119.0,182.9 L120.0,182.6 L121.0,182.8 L122.0,182.7 L123.0,182.9 L124.0,182.7 L125.0,182.8 L126.0,182.9 L127.0,183.0 L128.0,182.8 L129.0,183.0 L130.0,182.9 L131.0,183.0 L132.0,183.2 L133.0,183.5 L134.0,183.4 L135.0,183.7 L136.0,183.3 L137.0,183.6 L138.0,183.3 L139.0,183.2 L140.0,183.4 L140.9,183.1 L141.8,182.4 L142.8,182.2 L143.7,182.0 L144.6,181.5 L145.7,181.2 L146.8,180.9 L148.0,180.6 L149.1,180.5 L150.0,180.4 L150.9,180.0 L151.9,179.5 L152.8,178.9 L153.7,178.7 L154.8,177.9 L156.0,177.0 L157.1,176.0 L158.2,173.5 L159.3,171.4 L160.2,169.7 L161.1,168.1 L161.9,167.6 L162.8,167.6 L163.7,167.4 L164.5,167.0 L165.6,167.9 L166.4,169.5 L167.3,170.7 L168.4,171.8 L169.6,172.5 L170.8,171.7 L171.9,170.9 L172.8,169.3 L173.6,167.9 L174.4,168.8 L175.3,169.8 L176.4,172.3 L177.6,174.7 L178.7,177.0 L179.8,178.8 L180.8,180.0 L181.7,181.4 L182.7,183.0 L183.6,183.8 L184.6,184.7 L185.5,185.8 L186.6,186.4 L187.8,186.8 L188.9,187.3 L189.8,187.8 L190.7,188.3 L191.5,188.7 L192.4,189.0 L193.5,189.9 L194.7,190.9 L195.8,192.0 L196.9,192.8 L198.0,193.4 L199.2,193.4 L200.3,193.2 L201.2,192.6 L202.0,192.1 L202.8,192.6 L203.7,193.0 L204.6,193.7 L205.4,194.1 L206.3,191.1 L207.2,188.4 L208.1,187.1 L209.1,186.0 L210.0,184.6 L211.0,183.6 L212.0,182.7 L213.0,181.6 L214.0,180.9 L215.0,180.8 L216.0,180.6 L217.0,180.3 L218.0,180.3 L219.0,180.1 L220.0,180.1 L221.0,179.7 L222.0,179.5 L223.0,179.4 L224.0,179.4 L225.0,179.2 L226.0,179.8 L227.0,180.5 L228.0,180.8 L229.0,180.5 L230.0,180.4 L231.0,180.2 L232.0,179.9 L233.0,180.1 L234.0,179.9 L235.0,179.9 L236.0,179.9 L237.0,180.2 L238.0,179.5 L239.0,179.3 L240.0,178.9 L241.0,178.5 L242.0,178.3 L243.0,178.6 L244.0,179.3 L245.0,179.6 L246.0,180.1 L247.0,180.3 L248.0,181.0 L249.0,181.7 L250.0,182.4 L251.0,182.8 L252.0,183.5 L253.0,184.2 L254.0,184.8 L255.0,185.2 L256.0,185.1 L257.0,185.0 L258.0,184.7 L259.0,184.6 L260.0,184.5 L261.0,184.5 L262.0,184.2 L263.0,184.2 L264.0,184.0 L265.0,184.0 L266.0,183.8 L267.0,183.8 L268.0,183.6 L269.0,183.5 L270.0,183.4 L271.0,183.3 L272.0,183.3 L273.0,183.1 L274.0,182.9 L275.0,183.1 L276.0,182.8 L277.0,182.9 L278.0,182.7 L279.0,182.5 L280.0,182.6 L281.0,182.5 L282.0,182.1 L283.0,182.0" fill="none" stroke="#008000" stroke-width="1.7" stroke-linejoin="round" stroke-linecap="round" clip-path="url(#ce)" />
<path d="M394.5,41.3 L395.4,42.6 L396.3,43.1 L397.2,43.9 L398.2,42.8 L399.1,43.4 L400.0,43.6 L401.0,43.6 L402.0,44.6 L403.0,43.0 L404.0,43.7 L405.0,42.9 L406.0,42.7 L407.0,42.7 L408.0,43.2 L409.0,42.4 L410.0,40.7 L411.0,41.4 L412.0,41.2 L413.0,42.9 L414.0,42.8 L415.0,42.9 L416.0,43.1 L417.0,43.0 L418.0,43.5 L419.0,43.3 L420.0,42.2 L421.0,43.5 L422.0,42.8 L423.0,43.4 L424.0,43.0 L425.0,42.8 L426.0,42.7 L427.0,42.9 L428.0,42.7 L429.0,42.3 L430.0,43.9 L431.0,43.9 L432.0,44.3 L433.0,43.7 L434.0,43.4 L435.0,43.9 L436.0,42.6 L437.0,43.8 L438.0,43.3 L439.0,42.8 L440.0,42.8 L441.0,43.5 L442.0,42.9 L443.0,43.3 L444.0,43.6 L445.0,43.1 L446.0,42.5 L447.0,43.3 L448.0,42.7 L449.0,42.6 L450.0,42.5 L451.0,42.9 L452.0,42.2 L453.0,43.4 L454.0,44.0 L455.0,42.7 L456.0,43.4 L457.0,43.8 L458.0,41.8 L459.0,42.0 L460.0,43.4 L461.0,43.4 L462.0,42.8 L463.0,41.7 L464.0,42.1 L465.0,43.1 L466.0,43.0 L467.0,42.7 L468.0,41.3 L469.0,42.7 L470.0,41.5 L471.0,42.2 L472.0,40.8 L473.0,42.6 L474.0,41.7 L475.0,41.8 L476.0,40.6 L477.0,41.4 L478.0,41.3 L479.0,41.2 L480.0,40.6 L481.0,41.1 L482.0,40.0 L483.0,39.6 L484.0,39.0 L485.0,39.9 L486.0,38.3 L487.0,38.3 L488.0,37.7 L489.0,38.6 L490.0,38.1 L491.0,37.8 L492.0,36.4 L493.0,37.0 L494.0,36.5 L495.0,35.6 L496.0,35.1 L497.0,37.0 L498.0,34.8 L499.0,34.9 L500.0,34.5 L501.0,35.0 L502.0,33.6 L503.0,34.2 L504.0,33.7 L505.0,34.5 L506.0,32.5 L507.0,33.0 L508.0,33.1 L509.0,34.0 L510.0,32.7 L511.0,32.7 L512.0,33.2 L513.0,32.4 L514.0,31.9 L515.0,33.0 L516.0,33.9 L517.0,33.6 L518.0,32.6 L519.0,33.6 L520.0,34.0 L521.0,32.7 L522.0,33.5 L523.0,33.0 L524.0,32.8 L525.0,32.9 L526.0,32.7 L527.0,33.0 L528.0,32.3 L529.0,33.0 L530.0,32.3 L531.0,33.7 L532.0,33.3 L533.0,32.0 L534.0,33.6 L535.0,32.3 L536.0,32.8 L537.0,32.8 L538.0,32.1 L539.0,31.9 L540.0,32.0 L541.0,31.2 L542.0,32.6 L543.0,30.8 L544.0,32.2 L545.0,30.7 L546.0,30.7 L547.0,30.7 L548.0,29.7 L549.0,29.8 L550.0,30.1 L551.0,30.1 L552.0,30.9 L553.0,30.9 L554.0,28.7 L555.0,29.6 L556.0,28.6 L557.0,30.0 L558.0,28.8 L559.0,30.0 L560.0,29.1 L561.0,28.1 L562.0,27.8 L563.0,28.2 L564.0,29.5 L565.0,27.8 L566.0,28.4 L567.0,28.0 L568.0,27.8 L569.0,28.6 L570.0,27.2 L571.0,28.4 L572.0,28.5 L573.0,29.2 L574.0,28.5 L575.0,29.5 L576.0,28.2 L577.0,28.3 L578.0,28.1 L579.0,28.4 L580.0,28.3 L581.0,26.5 L582.0,26.5 L583.0,27.3 L584.0,27.9 L585.0,27.2 L586.0,26.7 L587.0,28.1 L588.0,26.6 L589.0,26.0 L590.0,25.9 L591.0,25.5 L592.0,26.7 L593.0,25.0 L594.0,25.9 L595.0,25.9 L596.0,25.5 L597.0,24.4 L598.0,22.8 L599.0,22.6 L600.0,22.3 L601.0,21.8 L602.0,20.7 L603.0,21.5 L604.0,19.8 L605.0,20.0 L606.0,21.4 L607.0,20.2 L608.0,19.7 L609.0,20.7 L610.0,19.9 L611.0,18.9 L612.0,18.9 L613.0,19.2 L614.0,19.2 L615.0,20.4 L616.0,18.7 L617.0,19.9 L618.0,19.8 L619.0,19.0 L620.0,20.5 L621.0,20.3 L622.0,19.9 L622.9,19.5 L623.9,20.1 L624.8,21.2 L625.7,20.5" fill="none" stroke="#ff0000" stroke-width="1.45" stroke-linejoin="round" stroke-linecap="round" clip-path="url(#ci)" />
<path d="M394.5,39.1 L395.4,40.2 L396.3,39.8 L397.2,40.1 L398.2,38.4 L399.1,38.0 L400.0,38.8 L401.0,38.8 L402.0,38.2 L403.0,39.2 L404.0,38.8 L405.0,39.8 L406.0,38.7 L407.0,39.3 L408.0,41.1 L409.0,40.2 L410.0,40.4 L411.0,41.5 L412.0,41.0 L413.0,39.8 L414.0,40.6 L415.0,40.8 L416.0,39.6 L417.0,40.6 L418.0,39.3 L419.0,39.7 L420.0,39.1 L421.0,39.3 L422.0,41.0 L423.0,39.7 L424.0,41.0 L425.0,39.7 L426.0,40.1 L427.0,40.6 L428.0,40.2 L429.0,38.9 L430.0,39.9 L431.0,39.9 L432.0,38.7 L433.0,38.4 L434.0,40.0 L435.0,39.0 L436.0,38.2 L437.0,38.6 L438.0,38.0 L439.0,39.1 L440.0,38.3 L441.0,37.5 L442.0,39.2 L443.0,37.7 L444.0,38.2 L445.0,37.7 L446.0,39.4 L447.0,38.1 L448.0,39.1 L449.0,38.2 L450.0,39.2 L451.0,39.5 L452.0,39.1 L453.0,38.8 L454.0,38.8 L455.0,38.6 L456.0,38.9 L457.0,37.7 L458.0,38.4 L459.0,37.8 L460.0,39.1 L461.0,39.2 L462.0,37.3 L463.0,37.4 L464.0,38.6 L465.0,38.3 L466.0,37.0 L467.0,38.5 L468.0,39.0 L469.0,37.8 L470.0,37.6 L471.0,38.0 L472.0,38.8 L473.0,37.2 L474.0,37.3 L475.0,37.0 L476.0,37.9 L477.0,37.5 L478.0,37.0 L479.0,37.2 L480.0,36.4 L481.0,37.1 L482.0,38.7 L483.0,37.9 L484.0,37.4 L485.0,39.0 L486.0,39.0 L487.0,40.1 L488.0,41.0 L489.0,42.4 L490.0,43.7 L491.0,44.9 L491.9,46.7 L492.8,45.7 L493.6,46.1 L494.5,47.2 L495.4,47.8 L496.2,46.3 L497.1,47.2 L498.0,46.2 L499.0,45.8 L500.0,45.0 L501.0,44.8 L502.0,43.6 L503.0,41.9 L504.0,41.5 L505.0,39.3 L506.0,38.2 L507.0,39.1 L508.0,37.9 L509.0,38.0 L510.0,36.6 L511.0,38.4 L512.0,38.1 L513.0,37.8 L514.0,39.7 L515.0,39.1 L516.0,38.8 L517.0,38.5 L518.0,38.1 L519.0,38.2 L520.0,39.2 L521.0,37.9 L522.0,38.0 L523.0,38.4 L524.0,38.5 L525.0,38.0 L526.0,38.9 L527.0,37.7 L528.0,37.9 L529.0,38.0 L530.0,37.3 L531.0,37.4 L532.0,37.2 L533.0,38.5 L534.0,37.2 L535.0,38.3 L536.0,37.2 L537.0,38.1 L538.0,38.1 L539.0,37.4 L540.0,38.6 L541.0,37.9 L542.0,37.7 L543.0,36.5 L544.0,37.2 L545.0,36.9 L546.0,37.2 L547.0,38.2 L548.0,37.9 L549.0,36.1 L550.0,37.3 L551.0,37.8 L552.0,36.9 L553.0,35.8 L554.0,37.4 L555.0,36.3 L556.0,37.5 L557.0,37.1 L558.0,37.0 L559.0,37.1 L560.0,35.1 L561.0,36.6 L562.0,35.4 L563.0,35.0 L564.0,35.4 L565.0,35.8 L566.0,34.5 L567.0,35.5 L568.0,36.2 L569.0,35.6 L570.0,35.7 L571.0,35.2 L572.0,36.6 L573.0,35.0 L574.0,36.0 L575.0,35.9 L576.0,34.5 L577.0,36.7 L578.0,35.0 L579.0,36.7 L580.0,36.5 L581.0,36.5 L582.0,36.4 L583.0,35.4 L584.0,35.5 L585.0,35.3 L586.0,36.6 L587.0,34.7 L588.0,35.1 L589.0,37.0 L590.0,36.7 L591.0,36.6 L592.0,37.3 L593.0,36.4 L594.0,37.1 L595.0,36.4 L596.0,37.3 L597.0,35.5 L598.0,36.2 L599.0,36.5 L600.0,36.9 L601.0,36.0 L602.0,36.5 L603.0,37.1 L604.0,35.9 L605.0,35.3 L606.0,34.9 L607.0,36.7 L608.0,35.8 L609.0,35.6 L610.0,35.8 L611.0,34.9 L612.0,35.1 L613.0,35.1 L614.0,35.1 L615.0,36.4 L616.0,35.0 L616.9,34.6 L617.9,36.2 L618.9,35.5 L619.9,34.3 L620.8,35.7 L621.8,35.6 L622.8,35.5 L623.8,35.7 L624.7,34.9 L625.7,34.4" fill="none" stroke="#000" stroke-width="1.45" stroke-linejoin="round" stroke-linecap="round" clip-path="url(#ci)" />
<path d="M394.5,29.5 L395.4,27.5 L396.3,28.9 L397.2,27.7 L398.2,29.2 L399.1,27.2 L400.0,28.9 L401.0,28.4 L402.0,28.8 L403.0,29.0 L404.0,27.5 L405.0,27.6 L406.0,28.3 L407.0,27.5 L408.0,27.4 L409.0,27.3 L410.0,28.5 L411.0,28.5 L412.0,28.2 L413.0,27.0 L414.0,28.3 L415.0,27.4 L416.0,26.7 L417.0,27.1 L418.0,26.9 L419.0,26.1 L420.0,27.0 L421.0,26.4 L422.0,26.6 L423.0,27.0 L424.0,26.2 L425.0,25.5 L426.0,26.7 L427.0,27.2 L428.0,26.4 L429.0,27.6 L430.0,25.9 L431.0,26.3 L432.0,26.4 L433.0,28.0 L434.0,27.6 L435.0,27.8 L436.0,27.0 L437.0,27.5 L438.0,28.4 L439.0,26.9 L440.0,27.0 L441.0,27.0 L442.0,27.9 L443.0,28.7 L444.0,28.2 L445.0,28.0 L446.0,28.3 L447.0,27.7 L448.0,29.3 L449.0,28.2 L450.0,28.1 L451.0,28.3 L452.0,29.4 L453.0,28.5 L454.0,29.8 L455.0,28.7 L456.0,29.0 L457.0,28.4 L458.0,30.1 L459.0,30.0 L460.0,29.4 L461.0,28.8 L462.0,29.7 L463.0,29.5 L464.0,30.5 L465.0,30.8 L466.0,30.5 L467.0,29.7 L468.0,29.3 L469.0,31.1 L470.0,31.3 L471.0,30.0 L472.0,30.9 L473.0,31.1 L474.0,32.3 L475.0,30.7 L476.0,30.5 L477.0,31.8 L478.0,31.0 L479.0,30.6 L480.0,31.0 L481.0,30.0 L482.0,29.6 L483.0,28.1 L484.0,27.2 L484.9,26.4 L485.8,26.4 L486.6,26.4 L487.5,25.3 L488.4,25.3 L489.2,26.0 L490.1,26.3 L491.0,26.2 L492.0,26.3 L493.0,28.0 L494.0,28.6 L495.0,30.0 L496.0,31.1 L497.0,30.5 L498.0,32.7 L499.0,32.9 L500.0,33.8 L501.0,34.5 L502.0,34.3 L503.0,35.0 L504.0,36.5 L505.0,35.3 L506.0,36.5 L507.0,36.2 L508.0,35.5 L509.0,35.6 L510.0,36.2 L511.0,36.5 L512.0,35.9 L513.0,35.4 L514.0,35.7 L515.0,37.2 L516.0,36.9 L517.0,35.5 L518.0,36.9 L519.0,36.3 L520.0,35.7 L521.0,36.7 L522.0,35.1 L523.0,35.0 L524.0,35.4 L525.0,36.1 L526.0,35.9 L527.0,35.9 L528.0,37.0 L529.0,36.1 L530.0,37.1 L531.0,35.7 L532.0,37.4 L533.0,36.4 L534.0,37.5 L535.0,38.1 L536.0,37.6 L537.0,37.4 L538.0,37.2 L539.0,37.5 L540.0,36.7 L541.0,36.3 L542.0,36.9 L543.0,36.7 L544.0,35.8 L545.0,36.6 L546.0,36.4 L547.0,35.8 L548.0,36.9 L549.0,37.1 L550.0,36.2 L551.0,37.2 L552.0,37.5 L553.0,36.8 L554.0,36.3 L555.0,36.0 L556.0,35.6 L557.0,35.7 L558.0,37.0 L559.0,34.9 L560.0,36.5 L561.0,35.9 L562.0,35.9 L563.0,34.3 L564.0,35.3 L565.0,34.2 L566.0,35.1 L567.0,35.2 L568.0,35.0 L569.0,34.5 L570.0,35.1 L571.0,33.7 L572.0,33.5 L573.0,34.8 L574.0,33.1 L575.0,33.7 L576.0,33.5 L577.0,34.2 L578.0,32.9 L579.0,33.1 L580.0,32.7 L581.0,33.1 L582.0,33.5 L583.0,33.9 L584.0,34.6 L585.0,34.7 L586.0,34.7 L587.0,35.8 L588.0,36.0 L589.0,34.6 L590.0,36.1 L591.0,34.3 L592.0,35.0 L593.0,36.2 L594.0,34.9 L595.0,35.9 L596.0,36.5 L597.0,35.7 L598.0,35.3 L599.0,34.3 L600.0,35.1 L601.0,35.0 L602.0,35.6 L603.0,34.7 L604.0,35.5 L605.0,34.6 L606.0,35.2 L607.0,35.5 L608.0,34.4 L609.0,36.0 L610.0,35.1 L611.0,35.2 L612.0,36.3 L613.0,35.6 L614.0,35.6 L615.0,35.0 L616.0,35.0 L616.9,36.0 L617.9,35.4 L618.9,35.6 L619.9,35.6 L620.8,35.5 L621.8,34.7 L622.8,35.7 L623.8,34.8 L624.7,34.2 L625.7,35.5" fill="none" stroke="#0000ff" stroke-width="1.45" stroke-linejoin="round" stroke-linecap="round" clip-path="url(#ci)" />
<path d="M394.5,64.8 L395.5,65.1 L396.5,64.9 L397.5,65.0 L398.5,64.9 L399.5,65.4 L400.5,64.6 L401.5,65.4 L402.5,64.2 L403.4,64.7 L404.4,64.8 L405.4,64.4 L406.4,65.6 L407.4,64.8 L408.4,65.7 L409.4,66.1 L410.4,64.7 L411.4,66.0 L412.4,65.8 L413.4,65.5 L414.4,64.2 L415.4,65.1 L416.4,65.5 L417.4,64.8 L418.4,64.7 L419.4,64.8 L420.3,64.7 L421.3,65.8 L422.3,64.9 L423.3,65.1 L424.3,65.5 L425.3,66.1 L426.3,64.8 L427.3,64.3 L428.3,66.2 L429.3,65.9 L430.3,65.8 L431.3,65.3 L432.3,64.7 L433.3,64.6 L434.3,64.9 L435.3,65.2 L436.3,64.4 L437.2,65.7 L438.2,65.8 L439.2,64.3 L440.2,66.0 L441.2,65.3 L442.2,66.2 L443.2,65.3 L444.2,65.9 L445.2,65.2 L446.2,65.6 L447.2,65.3 L448.2,64.4 L449.2,64.6 L450.2,64.8 L451.2,65.2 L452.2,65.1 L453.2,65.5 L454.2,65.7 L455.1,65.2 L456.1,65.0 L457.1,65.4 L458.1,66.3 L459.1,66.0 L460.1,65.7 L461.1,66.0 L462.1,64.9 L463.1,64.6 L464.1,64.6 L465.1,64.7 L466.1,64.5 L467.1,65.7 L468.1,66.3 L469.1,64.7 L470.1,65.8 L471.1,66.3 L472.0,66.0 L473.0,64.8 L474.0,65.7 L475.0,65.0 L476.0,64.8 L477.0,64.5 L478.0,65.5 L479.0,66.3 L480.0,64.7 L481.0,65.0 L482.0,65.7 L483.0,65.2 L484.0,66.2 L485.0,67.0 L486.0,65.9 L487.0,64.6 L488.0,64.1 L489.0,65.4 L490.0,67.3 L491.0,68.8 L492.0,67.3 L493.0,65.9 L494.0,65.4 L495.0,65.8 L496.0,65.2 L497.0,65.2 L498.0,64.9 L499.0,64.7 L500.0,62.5 L501.0,62.9 L502.0,62.0 L503.0,60.3 L504.0,59.0 L505.0,58.1 L506.0,58.1 L507.0,57.5 L508.0,56.6 L509.0,54.4 L510.0,54.2 L511.0,52.6 L512.0,52.5 L513.0,52.8 L514.0,52.7 L515.0,52.9 L516.0,55.0 L517.0,53.9 L518.0,54.6 L519.0,55.0 L520.0,55.1 L521.0,55.6 L522.0,55.7 L523.0,56.0 L524.0,55.4 L525.0,56.8 L526.0,57.1 L527.0,57.4 L528.0,56.8 L529.0,57.3 L530.0,58.2 L531.0,57.9 L532.0,56.5 L533.0,56.9 L534.0,56.5 L535.0,57.4 L536.0,57.1 L537.0,57.4 L538.0,57.4 L539.0,58.2 L540.0,59.0 L541.0,59.2 L542.0,58.7 L543.0,59.4 L544.0,60.1 L545.0,59.3 L546.0,61.1 L547.0,59.4 L548.0,60.7 L549.0,59.8 L550.0,61.5 L551.0,61.0 L552.0,60.1 L553.0,60.8 L554.0,61.5 L555.0,61.6 L556.0,61.3 L557.0,61.2 L558.0,61.5 L559.0,61.8 L560.0,61.1 L561.0,61.3 L562.0,61.7 L563.0,61.1 L564.0,60.6 L565.0,61.3 L566.0,60.9 L567.0,61.6 L568.0,61.7 L569.0,62.1 L570.0,60.5 L571.0,60.3 L572.0,62.2 L573.0,61.8 L574.0,62.3 L575.0,61.9 L576.0,62.2 L577.0,60.6 L578.0,60.7 L579.0,61.5 L580.0,61.8 L581.0,60.5 L582.0,62.2 L583.0,60.8 L584.0,60.7 L585.0,61.2 L586.0,60.7 L587.0,60.5 L588.0,60.5 L589.0,60.4 L590.0,60.6 L591.0,61.7 L592.0,61.9 L593.0,61.9 L594.0,61.2 L595.0,61.9 L596.0,60.6 L597.0,62.1 L598.0,61.2 L599.0,60.7 L600.0,61.2 L601.0,60.9 L602.0,62.0 L603.0,61.2 L604.0,60.5 L605.0,60.9 L606.0,60.7 L607.0,62.5 L608.0,61.4 L609.0,62.2 L610.0,61.8 L611.0,61.4 L612.0,62.1 L612.9,61.7 L613.9,60.7 L614.9,62.6 L615.9,61.3 L616.9,61.9 L617.9,61.4 L618.8,62.5 L619.8,60.9 L620.8,60.7 L621.8,60.7 L622.8,61.4 L623.7,62.3 L624.7,61.5 L625.7,62.5" fill="none" stroke="#000" stroke-width="1.45" stroke-linejoin="round" stroke-linecap="round" clip-path="url(#cj)" />
<path d="M394.5,64.4 L395.5,64.9 L396.5,65.2 L397.5,64.1 L398.5,64.9 L399.5,64.8 L400.5,64.7 L401.5,63.8 L402.5,63.7 L403.4,64.3 L404.4,64.9 L405.4,64.1 L406.4,64.5 L407.4,64.2 L408.4,65.1 L409.4,65.2 L410.4,64.4 L411.4,65.3 L412.4,63.8 L413.4,65.0 L414.4,65.1 L415.4,64.0 L416.4,64.9 L417.4,64.7 L418.4,65.3 L419.4,64.1 L420.3,64.6 L421.3,65.2 L422.3,64.8 L423.3,64.3 L424.3,63.9 L425.3,65.3 L426.3,64.6 L427.3,65.4 L428.3,64.1 L429.3,65.1 L430.3,65.2 L431.3,65.3 L432.3,63.9 L433.3,64.5 L434.3,64.0 L435.3,65.1 L436.3,64.5 L437.2,65.4 L438.2,64.5 L439.2,65.2 L440.2,65.3 L441.2,64.3 L442.2,64.8 L443.2,65.5 L444.2,64.8 L445.2,64.5 L446.2,64.4 L447.2,65.2 L448.2,64.3 L449.2,64.9 L450.2,64.9 L451.2,64.9 L452.2,64.2 L453.2,65.1 L454.2,65.5 L455.1,64.5 L456.1,64.6 L457.1,65.5 L458.1,65.0 L459.1,64.5 L460.1,64.1 L461.1,65.3 L462.1,64.6 L463.1,64.8 L464.1,64.5 L465.1,65.1 L466.1,65.3 L467.1,64.6 L468.1,64.2 L469.1,65.7 L470.1,65.6 L471.1,64.2 L472.0,65.0 L473.0,65.2 L474.0,64.8 L475.0,65.3 L476.0,65.7 L477.0,65.1 L478.0,64.8 L479.0,64.5 L480.0,64.6 L481.0,64.7 L482.0,65.0 L483.0,65.4 L484.0,66.7 L485.0,66.6 L486.0,69.2 L487.0,71.6 L488.0,69.9 L489.0,67.3 L490.0,67.9 L491.0,65.8 L492.0,68.7 L493.0,70.5 L494.0,68.8 L495.0,66.8 L496.0,67.8 L497.0,69.3 L498.0,72.2 L499.0,73.6 L499.9,76.1 L500.8,77.6 L501.7,79.5 L502.6,81.7 L503.7,81.4 L504.9,80.0 L506.0,78.8 L507.0,78.0 L508.0,77.1 L509.0,76.0 L510.0,74.9 L511.0,74.7 L512.0,73.4 L513.0,71.6 L514.0,70.7 L515.0,70.4 L516.0,70.5 L517.0,69.9 L518.0,70.9 L519.0,70.7 L520.0,70.6 L521.0,71.4 L522.0,70.6 L523.0,70.4 L524.0,70.4 L525.0,69.2 L526.0,69.1 L527.0,68.6 L528.0,69.4 L529.0,68.9 L530.0,68.0 L531.0,67.9 L532.0,68.1 L533.0,67.8 L534.0,67.6 L535.0,66.9 L536.0,67.3 L537.0,67.4 L538.0,67.3 L539.0,66.6 L540.0,66.4 L541.0,66.3 L542.0,66.2 L543.0,65.9 L544.0,65.0 L545.0,65.2 L546.0,66.3 L547.0,66.0 L548.0,65.3 L549.0,65.7 L550.0,64.7 L551.0,64.7 L552.0,65.1 L553.0,65.3 L554.0,64.1 L555.0,64.8 L556.0,65.4 L557.0,64.9 L558.0,65.4 L559.0,63.9 L560.0,65.2 L561.0,65.0 L562.0,63.6 L563.0,64.4 L564.0,64.7 L565.0,63.8 L566.0,64.4 L567.0,64.6 L568.0,64.5 L569.0,63.8 L570.0,63.2 L571.0,64.0 L572.0,63.4 L573.0,64.0 L574.0,63.5 L575.0,63.7 L576.0,64.0 L577.0,64.4 L578.0,64.7 L579.0,63.7 L580.0,63.1 L581.0,64.3 L582.0,63.6 L583.0,64.3 L584.0,64.4 L585.0,63.2 L586.0,64.3 L587.0,63.6 L588.0,63.6 L589.0,63.6 L590.0,64.0 L591.0,63.5 L592.0,63.9 L593.0,63.5 L594.0,63.2 L595.0,63.4 L596.0,64.1 L596.9,63.5 L597.9,63.3 L598.9,63.6 L599.9,63.3 L600.9,64.5 L601.9,64.2 L602.9,63.2 L603.9,63.4 L604.9,63.6 L605.9,63.7 L606.9,63.5 L607.9,63.7 L608.8,64.1 L609.8,63.1 L610.8,63.7 L611.8,63.1 L612.8,63.6 L613.8,63.3 L614.8,64.0 L615.8,64.1 L616.8,64.3 L617.8,63.4 L618.8,63.7 L619.8,63.0 L620.7,63.8 L621.7,63.9 L622.7,63.3 L623.7,63.1 L624.7,63.8 L625.7,63.8" fill="none" stroke="#0000ff" stroke-width="1.45" stroke-linejoin="round" stroke-linecap="round" clip-path="url(#cj)" />
<path d="M394.5,62.2 L395.5,63.0 L396.5,62.4 L397.5,62.2 L398.5,62.7 L399.5,62.7 L400.5,62.7 L401.5,62.6 L402.5,62.3 L403.5,62.3 L404.5,63.0 L405.5,62.4 L406.5,63.0 L407.5,63.2 L408.5,63.3 L409.5,63.4 L410.5,62.3 L411.5,62.3 L412.5,63.1 L413.5,62.8 L414.5,62.2 L415.5,63.0 L416.5,63.3 L417.5,63.3 L418.5,62.3 L419.5,62.4 L420.5,61.9 L421.5,63.5 L422.5,62.3 L423.5,63.1 L424.5,62.8 L425.5,62.9 L426.5,62.8 L427.5,63.3 L428.5,62.9 L429.5,62.4 L430.5,62.1 L431.5,62.7 L432.5,63.4 L433.5,62.2 L434.5,63.0 L435.5,63.0 L436.5,62.2 L437.5,62.3 L438.5,63.1 L439.5,62.7 L440.5,62.6 L441.5,62.7 L442.5,62.1 L443.5,63.1 L444.5,62.9 L445.5,62.8 L446.5,62.5 L447.5,63.3 L448.5,63.3 L449.5,62.8 L450.5,62.1 L451.5,62.2 L452.6,62.2 L453.6,62.1 L454.6,63.0 L455.6,62.8 L456.6,62.3 L457.6,63.4 L458.6,63.0 L459.6,63.3 L460.6,63.3 L461.6,63.1 L462.6,62.8 L463.6,63.6 L464.6,62.2 L465.6,63.1 L466.6,63.4 L467.6,62.8 L468.6,63.3 L469.6,62.3 L470.6,62.7 L471.6,62.4 L472.6,62.6 L473.6,63.1 L474.6,62.2 L475.6,62.5 L476.6,63.4 L477.6,62.5 L478.6,62.2 L479.6,63.6 L480.6,62.9 L481.6,62.0 L482.6,62.9 L483.6,62.2 L484.6,62.3 L485.6,63.2 L486.6,63.1 L487.6,62.7 L488.6,62.8 L489.6,62.9 L490.6,62.8 L491.6,62.2 L492.6,63.3 L493.6,63.3 L494.6,62.7 L495.6,62.7 L496.6,63.0 L497.6,62.8 L498.6,62.7 L499.6,63.4 L500.6,63.5 L501.6,62.3 L502.6,62.3 L503.6,63.3 L504.6,63.6 L505.6,63.2 L506.6,62.5 L507.6,62.1 L508.6,63.4 L509.6,63.5 L510.6,63.3 L511.6,63.2 L512.6,63.6 L513.6,62.9 L514.6,63.5 L515.6,62.5 L516.6,62.2 L517.6,63.4 L518.6,63.2 L519.6,63.3 L520.6,62.3 L521.6,62.5 L522.6,63.0 L523.6,62.2 L524.6,62.6 L525.6,63.0 L526.6,63.6 L527.6,63.2 L528.6,62.7 L529.6,62.7 L530.6,62.9 L531.6,63.3 L532.6,63.7 L533.6,62.1 L534.6,63.6 L535.6,63.4 L536.6,62.2 L537.6,62.5 L538.6,62.5 L539.6,62.4 L540.6,62.3 L541.6,62.3 L542.6,63.2 L543.6,62.8 L544.6,62.3 L545.6,63.4 L546.6,63.4 L547.6,62.5 L548.6,63.4 L549.6,63.3 L550.6,63.0 L551.6,62.2 L552.6,63.2 L553.6,63.5 L554.6,63.5 L555.6,63.6 L556.6,62.4 L557.6,63.7 L558.6,62.3 L559.6,62.7 L560.6,63.0 L561.6,63.1 L562.6,63.0 L563.6,63.6 L564.6,63.4 L565.6,63.5 L566.6,63.2 L567.6,62.9 L568.7,62.2 L569.7,63.2 L570.7,63.6 L571.7,62.4 L572.7,63.7 L573.7,62.2 L574.7,62.8 L575.7,63.3 L576.7,63.3 L577.7,63.1 L578.7,62.6 L579.7,62.5 L580.7,62.4 L581.7,63.2 L582.7,62.2 L583.7,62.4 L584.7,63.3 L585.7,62.9 L586.7,62.2 L587.7,62.8 L588.7,63.6 L589.7,63.0 L590.7,62.6 L591.7,62.4 L592.7,63.0 L593.7,62.5 L594.7,62.6 L595.7,62.3 L596.7,63.1 L597.7,63.4 L598.7,63.0 L599.7,63.1 L600.7,62.6 L601.7,63.8 L602.7,62.6 L603.7,63.6 L604.7,62.2 L605.7,63.2 L606.7,63.6 L607.7,63.1 L608.7,62.5 L609.7,62.4 L610.7,63.8 L611.7,63.8 L612.7,62.6 L613.7,62.8 L614.7,63.5 L615.7,63.6 L616.7,62.2 L617.7,63.1 L618.7,62.6 L619.7,62.3 L620.7,63.3 L621.7,63.0 L622.7,62.5 L623.7,63.4 L624.7,62.7 L625.7,62.6" fill="none" stroke="#ff0000" stroke-width="1.45" stroke-linejoin="round" stroke-linecap="round" clip-path="url(#cj)" />
<path d="M394.5,115.7 L395.7,110.7 L396.9,111.2 L398.0,112.0 L398.9,110.8 L399.9,110.4 L400.8,108.4 L401.9,108.3 L403.1,108.4 L404.2,108.4 L405.1,106.2 L406.0,103.9 L406.9,101.4 L407.8,98.3 L408.6,95.0 L409.5,97.8 L410.3,99.8 L411.5,104.8 L412.6,110.0 L413.7,109.9 L414.9,109.1 L416.0,109.0 L417.0,108.7 L418.0,107.9 L419.1,107.2 L420.1,107.6 L421.1,107.3 L422.0,104.0 L422.9,101.5 L423.8,98.3 L424.6,98.2 L425.5,97.3 L426.7,99.8 L427.9,102.4 L429.0,102.1 L430.2,103.1 L431.3,103.9 L432.4,105.7 L433.5,106.9 L434.6,108.3 L435.7,106.0 L436.9,102.6 L438.0,100.4 L439.1,96.8 L440.3,94.5 L441.4,91.8 L442.3,91.9 L443.2,92.9 L444.1,93.5 L445.3,95.8 L446.5,99.0 L447.6,97.8 L448.8,96.8 L449.9,94.9 L451.0,95.7 L452.2,97.3 L453.3,98.0 L454.4,101.0 L455.5,102.7 L456.6,104.9 L457.7,106.7 L458.9,108.6 L460.0,110.7 L461.1,111.5 L462.3,112.4 L463.4,114.0 L464.6,106.5 L465.8,99.9 L466.8,97.9 L467.8,95.5 L469.0,98.1 L470.2,101.4 L471.3,104.2 L472.5,106.6 L473.6,108.1 L474.7,107.5 L475.9,106.2 L477.0,104.8 L478.1,103.8 L479.3,102.8 L480.4,101.9 L481.5,99.8 L482.6,98.7 L483.7,97.4 L484.5,101.3 L485.4,104.8 L486.3,106.6 L487.2,107.7 L488.1,108.1 L489.3,103.5 L490.5,98.7 L491.4,96.5 L492.2,94.0 L493.1,97.5 L494.0,101.5 L494.9,105.9 L496.1,108.3 L497.3,112.0 L498.5,113.2 L499.7,115.8 L500.6,112.9 L501.5,109.5 L502.4,106.6 L503.5,107.6 L504.7,108.4 L505.8,108.3 L506.9,107.9 L508.0,107.6 L509.1,106.7 L510.2,108.0 L511.4,108.4 L512.5,109.2 L513.6,108.3 L514.8,107.8 L515.9,106.7 L517.0,106.4 L518.2,105.8 L519.3,105.3 L520.4,106.5 L521.6,109.1 L522.7,110.0 L523.8,109.2 L525.0,108.6 L526.1,107.0 L527.0,108.6 L527.9,109.0 L528.8,110.4 L530.0,114.5 L531.1,118.7 L532.3,117.0 L533.5,115.4 L534.4,114.7 L535.3,113.7 L536.2,111.5 L537.3,111.7 L538.5,111.0 L539.6,110.3 L540.7,109.8 L541.9,110.2 L543.0,110.2 L544.1,109.7 L545.3,109.4 L546.4,108.5 L547.5,107.9 L548.7,107.3 L549.8,107.6 L550.9,107.4 L552.1,108.7 L553.2,108.3 L554.3,108.3 L555.4,107.6 L556.5,107.3 L557.6,107.6 L558.8,108.6 L559.9,108.8 L561.0,107.0 L562.2,106.7 L563.3,105.4 L564.4,106.7 L565.6,109.0 L566.7,110.8 L567.8,108.4 L569.0,106.6 L570.1,105.0 L571.2,106.5 L572.4,107.5 L573.5,108.2 L574.6,108.1 L575.8,107.6 L576.9,107.1 L578.0,107.4 L579.2,108.5 L580.3,108.9 L581.4,107.8 L582.5,107.4 L583.6,107.5 L584.7,107.8 L585.9,109.2 L587.0,110.2 L588.1,109.4 L589.3,108.5 L590.4,106.5 L591.5,106.1 L592.7,105.3 L593.8,104.9 L594.9,104.8 L596.1,104.2 L597.2,104.1 L598.3,103.0 L599.5,102.5 L600.6,101.3 L601.7,102.7 L602.9,103.9 L604.0,105.0 L605.1,106.2 L606.2,106.3 L607.3,106.6 L608.4,107.6 L609.6,107.7 L610.7,108.3 L611.8,108.3 L613.0,107.1 L614.1,107.3 L615.2,108.1 L616.4,108.7 L617.5,110.6 L618.4,112.1 L619.3,113.0 L620.2,114.2 L621.4,112.6 L622.6,110.1 L623.6,110.4 L624.7,110.7 L625.7,110.3" fill="none" stroke="#000" stroke-width="1.45" stroke-linejoin="round" stroke-linecap="round" clip-path="url(#ck)" />
<path d="M394.5,154.8H625.7" stroke="#0000ff" stroke-width="1.5" stroke-dasharray="4.6 3.8" fill="none"/>
<path d="M394.5,148.8 L395.5,148.3 L396.4,148.4 L397.4,148.7 L398.4,147.2 L399.3,148.0 L400.3,148.6 L401.3,148.5 L402.2,147.8 L403.2,146.9 L404.2,147.4 L405.2,148.6 L406.1,146.7 L407.1,147.1 L408.1,148.5 L409.0,147.3 L410.0,146.8 L411.0,146.9 L412.0,148.2 L413.0,146.9 L414.0,147.0 L415.0,147.4 L416.0,147.8 L417.0,147.0 L418.0,146.1 L419.0,147.1 L420.0,145.9 L421.0,145.9 L422.0,146.1 L423.0,147.1 L424.0,146.1 L425.0,146.9 L426.0,145.9 L427.0,146.0 L428.0,146.0 L429.0,147.7 L430.0,148.2 L431.0,147.0 L432.0,147.2 L433.0,146.9 L434.0,148.4 L435.0,147.9 L436.0,147.7 L437.0,149.0 L438.0,149.1 L439.0,148.9 L440.0,148.4 L441.0,149.4 L442.0,149.2 L443.0,148.9 L444.0,148.2 L445.0,149.8 L446.0,149.6 L447.0,149.2 L448.0,149.8 L449.0,148.8 L450.0,148.3 L451.0,147.7 L452.0,148.8 L453.0,148.6 L454.0,148.3 L455.0,149.5 L456.0,149.2 L457.0,147.5 L458.0,149.2 L459.0,147.2 L460.0,148.6 L461.0,148.1 L462.0,149.1 L463.0,149.8 L464.0,149.0 L465.0,149.7 L466.0,148.3 L467.0,149.9 L468.0,148.8 L469.0,149.7 L470.0,149.6 L471.0,149.3 L472.0,150.9 L473.0,149.7 L474.0,150.3 L475.0,150.1 L476.0,151.9 L477.0,151.7 L478.0,151.7 L479.2,152.6 L480.5,153.9 L481.2,154.8 L482.0,153.9 L483.0,152.5 L484.0,152.4 L485.0,150.3 L486.0,147.7 L487.0,146.8 L488.0,145.2 L489.2,145.2 L490.5,145.1 L491.8,144.8 L493.0,144.8 L494.0,145.2 L495.0,145.7 L496.0,146.6 L497.0,148.2 L498.0,148.5 L499.0,148.9 L500.0,149.4 L501.0,151.3 L502.0,153.8 L503.2,155.3 L504.5,158.3 L505.8,158.8 L507.0,157.9 L508.0,157.8 L509.0,157.5 L510.0,158.2 L511.0,157.1 L512.0,157.6 L513.0,159.1 L514.0,157.1 L515.0,157.5 L516.0,155.3 L517.0,157.2 L518.0,157.3 L519.0,157.4 L520.0,158.3 L521.0,157.3 L522.0,158.6 L523.0,157.9 L524.0,157.8 L525.0,158.9 L526.0,158.4 L527.0,159.5 L528.0,158.8 L529.0,157.4 L530.0,157.5 L531.0,158.6 L532.0,157.1 L533.0,159.2 L534.0,157.3 L535.0,159.0 L536.0,158.7 L537.0,158.1 L538.0,158.4 L539.0,158.3 L540.0,157.7 L541.0,157.7 L542.0,157.3 L543.0,158.8 L544.0,159.5 L545.0,158.5 L546.0,157.8 L547.0,155.1 L548.0,154.8 L549.0,156.1 L550.0,156.4 L551.0,154.3 L552.0,155.6 L553.0,154.1 L554.0,154.7 L555.0,153.3 L556.0,155.1 L557.0,153.9 L558.0,153.9 L559.0,153.8 L560.0,154.2 L561.0,153.8 L562.0,155.1 L563.0,153.0 L564.0,153.0 L565.0,152.9 L566.0,152.7 L567.0,154.0 L568.0,152.3 L569.0,153.7 L570.0,153.0 L571.0,152.6 L572.0,152.8 L573.0,153.5 L574.0,152.9 L575.0,153.3 L576.0,153.0 L577.0,153.1 L578.0,153.2 L579.0,152.0 L580.0,152.4 L581.0,152.6 L582.0,151.5 L583.0,152.4 L584.0,150.8 L585.0,151.6 L586.0,151.4 L587.0,151.0 L588.0,152.3 L589.0,152.9 L590.0,152.2 L590.9,151.9 L591.9,153.1 L592.8,153.3 L593.7,152.5 L594.7,152.4 L595.6,152.6 L596.8,151.1 L598.0,149.4 L599.0,148.2 L600.0,147.7 L601.0,146.7 L602.0,146.4 L603.0,146.0 L604.0,145.5 L605.0,145.1 L606.0,145.7 L607.0,145.2 L608.0,145.5 L609.0,144.8 L610.0,146.4 L611.0,144.6 L612.0,146.2 L613.0,145.5 L614.0,146.2 L615.0,146.0 L616.0,144.4 L617.0,144.6 L618.0,146.2 L619.0,145.4 L620.0,144.1 L621.0,144.4 L621.9,144.0 L622.9,144.4 L623.8,143.8 L624.8,143.7 L625.7,143.6" fill="none" stroke="#000" stroke-width="1.25" stroke-linejoin="round" stroke-linecap="round" clip-path="url(#cl)" />
<path d="M394.5,227.7H625.7" stroke="#0000ff" stroke-width="1.5" stroke-dasharray="4.6 3.8" fill="none"/>
<path d="M394.5,221.5 L395.5,221.0 L396.4,221.1 L397.4,221.4 L398.4,219.9 L399.3,220.7 L400.3,221.3 L401.3,221.2 L402.2,220.5 L403.2,219.6 L404.2,220.1 L405.2,221.3 L406.1,219.4 L407.1,219.8 L408.1,221.2 L409.0,220.0 L410.0,219.5 L411.0,219.6 L412.0,220.9 L413.0,219.6 L414.0,219.7 L415.0,220.1 L416.0,220.5 L417.0,219.7 L418.0,218.8 L419.0,219.8 L420.0,218.6 L421.0,218.6 L422.0,218.8 L423.0,219.8 L424.0,218.8 L425.0,219.6 L426.0,218.6 L427.0,218.7 L428.0,218.7 L429.0,220.4 L430.0,220.9 L431.0,219.7 L432.0,219.9 L433.0,219.6 L434.0,221.1 L435.0,220.6 L436.0,220.4 L437.0,221.7 L438.0,221.8 L439.0,221.6 L440.0,221.1 L441.0,222.1 L442.0,221.9 L443.0,221.6 L444.0,220.9 L445.0,222.5 L446.0,222.3 L447.0,221.9 L448.0,222.5 L449.0,221.5 L450.0,221.0 L451.0,220.4 L452.0,221.5 L453.0,221.3 L454.0,221.0 L455.0,222.2 L456.0,221.9 L457.0,220.2 L458.0,221.9 L459.0,219.9 L460.0,221.3 L461.0,220.8 L462.0,221.8 L463.0,222.5 L464.0,221.7 L465.0,222.4 L466.0,221.0 L467.0,222.6 L468.0,221.5 L469.0,222.4 L470.0,222.3 L471.0,222.0 L472.0,223.6 L473.0,222.4 L474.0,223.0 L475.0,222.8 L476.0,224.6 L477.0,224.4 L478.0,224.4 L479.2,225.3 L480.5,226.6 L481.2,227.5 L482.0,226.6 L483.0,225.2 L484.0,225.1 L485.0,223.0 L486.0,220.4 L487.0,219.5 L488.0,217.9 L489.2,217.9 L490.5,217.8 L491.8,217.5 L493.0,217.5 L494.0,217.9 L495.0,218.4 L496.0,219.3 L497.0,220.9 L498.0,221.2 L499.0,221.6 L500.0,222.1 L501.0,224.0 L502.0,226.5 L503.2,228.0 L504.5,231.0 L505.8,231.5 L507.0,230.6 L508.0,230.5 L509.0,230.2 L510.0,230.9 L511.0,229.8 L512.0,230.3 L513.0,231.8 L514.0,229.8 L515.0,230.2 L516.0,228.0 L517.0,229.9 L518.0,230.0 L519.0,230.1 L520.0,231.0 L521.0,230.0 L522.0,231.3 L523.0,230.6 L524.0,230.5 L525.0,231.6 L526.0,231.1 L527.0,232.2 L528.0,231.5 L529.0,230.1 L530.0,230.2 L531.0,231.3 L532.0,229.8 L533.0,231.9 L534.0,230.0 L535.0,231.7 L536.0,231.4 L537.0,230.8 L538.0,231.1 L539.0,231.0 L540.0,230.4 L541.0,230.4 L542.0,230.0 L543.0,231.5 L544.0,232.2 L545.0,231.2 L546.0,230.5 L547.0,227.8 L548.0,227.5 L549.0,228.8 L550.0,229.1 L551.0,227.0 L552.0,228.3 L553.0,226.8 L554.0,227.4 L555.0,226.0 L556.0,227.8 L557.0,226.6 L558.0,226.6 L559.0,226.5 L560.0,226.9 L561.0,226.5 L562.0,227.8 L563.0,225.7 L564.0,225.7 L565.0,225.6 L566.0,225.4 L567.0,226.7 L568.0,225.0 L569.0,226.4 L570.0,225.7 L571.0,225.3 L572.0,225.5 L573.0,226.2 L574.0,225.6 L575.0,226.0 L576.0,225.7 L577.0,225.8 L578.0,225.9 L579.0,224.7 L580.0,225.1 L581.0,225.3 L582.0,224.2 L583.0,225.1 L584.0,223.5 L585.0,224.3 L586.0,224.1 L587.0,223.7 L588.0,225.0 L589.0,225.6 L590.0,224.9 L590.9,224.6 L591.9,225.8 L592.8,226.0 L593.7,225.2 L594.7,225.1 L595.6,225.3 L596.8,223.8 L598.0,222.1 L599.0,220.9 L600.0,220.4 L601.0,219.4 L602.0,219.1 L603.0,218.7 L604.0,218.2 L605.0,217.8 L606.0,218.4 L607.0,217.9 L608.0,218.2 L609.0,217.5 L610.0,219.1 L611.0,217.3 L612.0,218.9 L613.0,218.2 L614.0,218.9 L615.0,218.7 L616.0,217.1 L617.0,217.3 L618.0,218.9 L619.0,218.1 L620.0,216.8 L621.0,217.1 L621.9,216.7 L622.9,217.1 L623.8,216.5 L624.8,216.4 L625.7,216.3" fill="none" stroke="#000" stroke-width="1.25" stroke-linejoin="round" stroke-linecap="round" clip-path="url(#cn)" />
<path d="M394.5,263.8H625.7" stroke="#0000ff" stroke-width="1.5" stroke-dasharray="4.6 3.8" fill="none"/>
<path d="M394.5,257.5 L395.5,257.0 L396.4,257.1 L397.4,257.4 L398.4,255.9 L399.3,256.7 L400.3,257.3 L401.3,257.2 L402.2,256.5 L403.2,255.6 L404.2,256.1 L405.2,257.3 L406.1,255.4 L407.1,255.8 L408.1,257.2 L409.0,256.0 L410.0,255.5 L411.0,255.6 L412.0,256.9 L413.0,255.6 L414.0,255.7 L415.0,256.1 L416.0,256.5 L417.0,255.7 L418.0,254.8 L419.0,255.8 L420.0,254.6 L421.0,254.6 L422.0,254.8 L423.0,255.8 L424.0,254.8 L425.0,255.6 L426.0,254.6 L427.0,254.7 L428.0,254.7 L429.0,256.4 L430.0,256.9 L431.0,255.7 L432.0,255.9 L433.0,255.6 L434.0,257.1 L435.0,256.6 L436.0,256.4 L437.0,257.7 L438.0,257.8 L439.0,257.6 L440.0,257.1 L441.0,258.1 L442.0,257.9 L443.0,257.6 L444.0,256.9 L445.0,258.5 L446.0,258.3 L447.0,257.9 L448.0,258.5 L449.0,257.5 L450.0,257.0 L451.0,256.4 L452.0,257.5 L453.0,257.3 L454.0,257.0 L455.0,258.2 L456.0,257.9 L457.0,256.2 L458.0,257.9 L459.0,255.9 L460.0,257.3 L461.0,256.8 L462.0,257.8 L463.0,258.5 L464.0,257.7 L465.0,258.4 L466.0,257.0 L467.0,258.6 L468.0,257.5 L469.0,258.4 L470.0,258.3 L471.0,258.0 L472.0,259.6 L473.0,258.4 L474.0,259.0 L475.0,258.8 L476.0,260.6 L477.0,260.4 L478.0,260.4 L479.2,261.3 L480.5,262.6 L481.2,263.5 L482.0,262.6 L483.0,261.2 L484.0,261.1 L485.0,259.0 L486.0,256.4 L487.0,255.5 L488.0,253.9 L489.2,253.9 L490.5,253.8 L491.8,253.5 L493.0,253.5 L494.0,253.9 L495.0,254.4 L496.0,255.3 L497.0,256.9 L498.0,257.2 L499.0,257.6 L500.0,258.1 L501.0,260.0 L502.0,262.5 L503.2,264.0 L504.5,267.0 L505.8,267.5 L507.0,266.6 L508.0,266.5 L509.0,266.2 L510.0,266.9 L511.0,265.8 L512.0,266.3 L513.0,267.8 L514.0,265.8 L515.0,266.2 L516.0,264.0 L517.0,265.9 L518.0,266.0 L519.0,266.1 L520.0,267.0 L521.0,266.0 L522.0,267.3 L523.0,266.6 L524.0,266.5 L525.0,267.6 L526.0,267.1 L527.0,268.2 L528.0,267.5 L529.0,266.1 L530.0,266.2 L531.0,267.3 L532.0,265.8 L533.0,267.9 L534.0,266.0 L535.0,267.7 L536.0,267.4 L537.0,266.8 L538.0,267.1 L539.0,267.0 L540.0,266.4 L541.0,266.4 L542.0,266.0 L543.0,267.5 L544.0,268.2 L545.0,267.2 L546.0,266.5 L547.0,263.8 L548.0,263.5 L549.0,264.8 L550.0,265.1 L551.0,263.0 L552.0,264.3 L553.0,262.8 L554.0,263.4 L555.0,262.0 L556.0,263.8 L557.0,262.6 L558.0,262.6 L559.0,262.5 L560.0,262.9 L561.0,262.5 L562.0,263.8 L563.0,261.7 L564.0,261.7 L565.0,261.6 L566.0,261.4 L567.0,262.7 L568.0,261.0 L569.0,262.4 L570.0,261.7 L571.0,261.3 L572.0,261.5 L573.0,262.2 L574.0,261.6 L575.0,262.0 L576.0,261.7 L577.0,261.8 L578.0,261.9 L579.0,260.7 L580.0,261.1 L581.0,261.3 L582.0,260.2 L583.0,261.1 L584.0,259.5 L585.0,260.3 L586.0,260.1 L587.0,259.7 L588.0,261.0 L589.0,261.6 L590.0,260.9 L590.9,260.6 L591.9,261.8 L592.8,262.0 L593.7,261.2 L594.7,261.1 L595.6,261.3 L596.8,259.8 L598.0,258.1 L599.0,256.9 L600.0,256.4 L601.0,255.4 L602.0,255.1 L603.0,254.7 L604.0,254.2 L605.0,253.8 L606.0,254.4 L607.0,253.9 L608.0,254.2 L609.0,253.5 L610.0,255.1 L611.0,253.3 L612.0,254.9 L613.0,254.2 L614.0,254.9 L615.0,254.7 L616.0,253.1 L617.0,253.3 L618.0,254.9 L619.0,254.1 L620.0,252.8 L621.0,253.1 L621.9,252.7 L622.9,253.1 L623.8,252.5 L624.8,252.4 L625.7,252.3" fill="none" stroke="#000" stroke-width="1.25" stroke-linejoin="round" stroke-linecap="round" clip-path="url(#co)" />
<path d="M394.5,300.1H625.7" stroke="#0000ff" stroke-width="1.5" stroke-dasharray="4.6 3.8" fill="none"/>
<path d="M394.5,293.5 L395.5,293.0 L396.4,293.1 L397.4,293.4 L398.4,291.9 L399.3,292.7 L400.3,293.3 L401.3,293.2 L402.2,292.5 L403.2,291.6 L404.2,292.1 L405.2,293.3 L406.1,291.4 L407.1,291.8 L408.1,293.2 L409.0,292.0 L410.0,291.5 L411.0,291.6 L412.0,292.9 L413.0,291.6 L414.0,291.7 L415.0,292.1 L416.0,292.5 L417.0,291.7 L418.0,290.8 L419.0,291.8 L420.0,290.6 L421.0,290.6 L422.0,290.8 L423.0,291.8 L424.0,290.8 L425.0,291.6 L426.0,290.6 L427.0,290.7 L428.0,290.7 L429.0,292.4 L430.0,292.9 L431.0,291.7 L432.0,291.9 L433.0,291.6 L434.0,293.1 L435.0,292.6 L436.0,292.4 L437.0,293.7 L438.0,293.8 L439.0,293.6 L440.0,293.1 L441.0,294.1 L442.0,293.9 L443.0,293.6 L444.0,292.9 L445.0,294.5 L446.0,294.3 L447.0,293.9 L448.0,294.5 L449.0,293.5 L450.0,293.0 L451.0,292.4 L452.0,293.5 L453.0,293.3 L454.0,293.0 L455.0,294.2 L456.0,293.9 L457.0,292.2 L458.0,293.9 L459.0,291.9 L460.0,293.3 L461.0,292.8 L462.0,293.8 L463.0,294.5 L464.0,293.7 L465.0,294.4 L466.0,293.0 L467.0,294.6 L468.0,293.5 L469.0,294.4 L470.0,294.3 L471.0,294.0 L472.0,295.6 L473.0,294.4 L474.0,295.0 L475.0,294.8 L476.0,296.6 L477.0,296.4 L478.0,296.4 L479.2,297.3 L480.5,298.6 L481.2,299.5 L482.0,298.6 L483.0,297.2 L484.0,297.1 L485.0,295.0 L486.0,292.4 L487.0,291.5 L488.0,289.9 L489.2,289.9 L490.5,289.8 L491.8,289.5 L493.0,289.5 L494.0,289.9 L495.0,290.4 L496.0,291.3 L497.0,292.9 L498.0,293.2 L499.0,293.6 L500.0,294.1 L501.0,296.0 L502.0,298.5 L503.2,300.0 L504.5,303.0 L505.8,303.5 L507.0,302.6 L508.0,302.5 L509.0,302.2 L510.0,302.9 L511.0,301.8 L512.0,302.3 L513.0,303.8 L514.0,301.8 L515.0,302.2 L516.0,300.0 L517.0,301.9 L518.0,302.0 L519.0,302.1 L520.0,303.0 L521.0,302.0 L522.0,303.3 L523.0,302.6 L524.0,302.5 L525.0,303.6 L526.0,303.1 L527.0,304.2 L528.0,303.5 L529.0,302.1 L530.0,302.2 L531.0,303.3 L532.0,301.8 L533.0,303.9 L534.0,302.0 L535.0,303.7 L536.0,303.4 L537.0,302.8 L538.0,303.1 L539.0,303.0 L540.0,302.4 L541.0,302.4 L542.0,302.0 L543.0,303.5 L544.0,304.2 L545.0,303.2 L546.0,302.5 L547.0,299.8 L548.0,299.5 L549.0,300.8 L550.0,301.1 L551.0,299.0 L552.0,300.3 L553.0,298.8 L554.0,299.4 L555.0,298.0 L556.0,299.8 L557.0,298.6 L558.0,298.6 L559.0,298.5 L560.0,298.9 L561.0,298.5 L562.0,299.8 L563.0,297.7 L564.0,297.7 L565.0,297.6 L566.0,297.4 L567.0,298.7 L568.0,297.0 L569.0,298.4 L570.0,297.7 L571.0,297.3 L572.0,297.5 L573.0,298.2 L574.0,297.6 L575.0,298.0 L576.0,297.7 L577.0,297.8 L578.0,297.9 L579.0,296.7 L580.0,297.1 L581.0,297.3 L582.0,296.2 L583.0,297.1 L584.0,295.5 L585.0,296.3 L586.0,296.1 L587.0,295.7 L588.0,297.0 L589.0,297.6 L590.0,296.9 L590.9,296.6 L591.9,297.8 L592.8,298.0 L593.7,297.2 L594.7,297.1 L595.6,297.3 L596.8,295.8 L598.0,294.1 L599.0,292.9 L600.0,292.4 L601.0,291.4 L602.0,291.1 L603.0,290.7 L604.0,290.2 L605.0,289.8 L606.0,290.4 L607.0,289.9 L608.0,290.2 L609.0,289.5 L610.0,291.1 L611.0,289.3 L612.0,290.9 L613.0,290.2 L614.0,290.9 L615.0,290.7 L616.0,289.1 L617.0,289.3 L618.0,290.9 L619.0,290.1 L620.0,288.8 L621.0,289.1 L621.9,288.7 L622.9,289.1 L623.8,288.5 L624.8,288.4 L625.7,288.3" fill="none" stroke="#000" stroke-width="1.25" stroke-linejoin="round" stroke-linecap="round" clip-path="url(#cp)" />
<path d="M394.6,171.1 L395.7,171.9 L396.8,172.0 L397.8,172.0 L398.9,171.9 L400.0,172.8 L400.9,173.1 L401.8,173.0 L402.7,173.3 L403.6,173.3 L404.5,173.3 L405.4,174.0 L406.3,174.6 L407.2,174.3 L408.1,174.9 L409.0,173.9 L409.9,173.6 L410.8,173.1 L411.7,173.9 L412.6,173.3 L413.5,173.2 L414.4,172.5 L415.3,171.7 L416.2,171.9 L417.1,171.9 L418.0,171.3 L418.9,172.2 L419.8,171.3 L420.7,170.9 L421.6,171.6 L422.5,170.3 L423.4,170.8 L424.2,169.8 L425.1,169.5 L426.0,169.1 L426.9,169.1 L427.8,168.6 L428.7,168.2 L429.6,168.9 L430.5,167.9 L431.4,168.2 L432.3,167.3 L433.2,168.3 L434.1,168.4 L435.0,168.4 L435.9,168.5 L437.1,166.5 L438.3,164.9 L439.5,164.4 L440.7,165.2 L441.9,167.4 L443.1,168.4 L444.3,169.9 L445.5,170.5 L446.7,169.6 L447.9,169.2 L449.1,170.2 L450.3,171.1 L451.2,172.1 L452.1,171.7 L453.0,171.5 L453.9,171.9 L454.9,172.8 L455.9,173.2 L456.9,172.7 L457.9,172.8 L458.9,173.0 L459.9,173.3 L460.9,172.9 L461.9,173.5 L462.9,173.7 L463.9,173.9 L464.9,173.6 L465.9,173.8 L466.9,173.9 L467.9,174.5 L468.9,173.7 L469.9,173.9 L470.9,173.5 L471.9,173.1 L472.9,173.0 L473.9,173.8 L474.9,173.7 L475.9,173.1 L477.0,173.4 L478.0,173.4 L479.0,173.6 L480.0,173.5 L480.9,172.7 L481.9,173.3 L482.8,173.1 L483.8,172.5 L484.7,172.7 L485.7,172.1 L486.6,171.9 L487.7,171.6 L488.7,172.3 L489.8,171.3 L490.8,171.1 L491.9,171.9 L492.9,171.8 L494.0,171.3 L495.0,171.7 L496.1,170.7 L497.1,170.8 L498.1,171.0 L499.1,171.4 L500.1,171.2 L501.1,171.3 L502.0,171.8 L503.0,172.6 L504.0,172.9 L505.0,172.8 L506.0,172.5 L507.0,172.3 L508.0,173.2 L509.0,172.8 L510.0,173.1 L511.0,172.3 L512.0,172.6 L513.0,173.1 L514.0,172.9 L515.0,172.8 L516.0,172.3 L517.0,171.9 L518.0,171.9 L519.0,172.1 L520.0,171.3 L521.0,171.6 L522.0,171.4 L523.0,172.1 L524.0,171.3 L525.0,172.2 L526.0,172.6 L527.0,171.6 L528.0,172.4 L529.0,172.6 L530.0,172.9 L531.0,172.6 L532.0,172.1 L533.0,172.2 L534.0,172.9 L535.0,172.7 L536.0,171.8 L537.0,171.7 L538.0,171.6 L539.0,171.5 L540.0,171.9 L541.0,171.6 L542.0,172.5 L543.0,172.3 L544.0,171.7 L545.0,172.2 L546.0,171.9 L547.0,172.2 L548.0,171.9 L549.0,171.8 L550.0,171.9 L551.0,172.1 L552.0,172.6 L553.0,172.4 L554.0,171.8 L555.0,172.6 L556.0,172.8 L557.0,172.8 L558.0,172.8 L559.0,171.9 L560.0,172.5 L561.0,172.0 L562.0,172.8 L563.0,172.0 L564.0,172.7 L565.0,172.1 L566.0,172.6 L567.0,172.1 L568.0,171.8 L569.0,172.1 L570.0,172.0 L571.0,172.7 L572.0,172.0 L573.0,172.2 L574.0,172.2 L575.0,172.7 L576.0,171.6 L577.0,172.2 L578.0,172.1 L579.0,172.3 L580.0,172.6 L581.0,171.8 L582.0,172.3 L583.0,172.1 L584.0,172.1 L585.0,171.6 L586.0,172.5 L587.0,172.7 L588.0,171.9 L589.0,171.9 L590.0,172.7 L591.0,171.7 L592.0,171.7 L593.0,171.7 L594.0,172.6 L595.0,172.5 L596.0,172.2 L597.0,172.4 L598.0,171.7 L599.0,172.5 L600.0,172.2 L601.0,172.3 L602.0,172.2 L603.0,172.2 L604.0,172.0 L604.9,171.8 L605.9,172.3 L606.9,172.1 L607.9,172.6 L608.9,172.7 L609.9,172.6 L610.9,172.3 L611.9,172.1 L612.9,172.3 L613.8,172.4 L614.8,172.6 L615.8,173.0 L616.8,171.9 L617.8,172.4 L618.8,172.4 L619.8,172.7 L620.8,172.9 L621.7,172.8 L622.7,172.6 L623.7,172.8 L624.7,172.7 L625.7,172.9" fill="none" stroke="#0000ff" stroke-width="1.45" stroke-linejoin="round" stroke-linecap="round" clip-path="url(#cm)" />
<path d="M394.6,176.0 L395.8,175.4 L397.0,175.5 L398.0,176.1 L399.0,174.9 L400.0,174.4 L400.9,174.1 L401.8,172.8 L402.7,172.5 L403.6,170.9 L404.5,171.8 L405.4,171.3 L406.3,171.8 L407.2,172.2 L408.1,171.8 L409.0,171.9 L409.9,171.6 L410.8,170.7 L411.7,171.7 L412.6,171.6 L413.5,171.5 L414.4,171.5 L415.3,172.4 L416.2,172.5 L417.1,173.1 L418.0,173.3 L418.9,173.6 L419.8,173.4 L420.7,173.6 L421.6,173.7 L422.5,173.5 L423.4,174.4 L424.2,173.9 L425.1,174.5 L426.0,175.6 L426.9,176.2 L427.8,176.5 L428.7,178.1 L429.9,179.2 L431.1,179.9 L432.3,178.8 L433.5,178.4 L434.7,177.3 L435.9,177.6 L437.1,178.1 L438.3,179.0 L439.5,179.5 L440.7,180.4 L441.9,179.7 L443.1,178.2 L444.3,177.7 L445.5,177.3 L446.7,176.7 L447.9,176.7 L448.8,176.2 L449.7,175.6 L450.6,175.4 L451.5,174.8 L452.4,174.1 L453.3,174.7 L454.2,173.8 L455.1,173.5 L456.1,173.5 L457.1,174.0 L458.0,174.1 L459.0,173.6 L460.0,173.5 L461.0,173.1 L462.0,173.8 L463.0,173.0 L464.1,173.3 L465.1,173.0 L466.1,172.9 L467.1,172.9 L468.1,172.7 L469.1,172.5 L470.1,173.0 L471.1,173.3 L472.1,173.1 L473.1,172.7 L474.0,173.2 L475.0,172.6 L476.0,172.9 L477.0,173.3 L478.0,173.4 L479.0,173.0 L480.0,173.3 L481.0,173.0 L482.0,173.0 L483.0,173.1 L484.0,173.5 L485.0,173.2 L486.0,173.0 L487.0,173.2 L488.0,173.1 L489.0,172.9 L490.0,173.3 L491.0,173.3 L492.0,173.1 L493.0,173.4 L494.0,172.5 L495.0,173.0 L496.0,173.1 L497.0,172.8 L498.0,172.7 L499.0,173.2 L500.0,172.9 L501.0,172.8 L502.0,172.6 L503.0,173.5 L504.0,172.9 L505.0,172.7 L506.0,172.8 L507.0,172.9 L508.0,173.5 L509.0,172.8 L510.0,172.9 L511.0,172.8 L512.0,173.2 L513.0,172.9 L514.0,173.1 L515.0,173.5 L516.0,173.7 L517.0,173.6 L518.0,172.8 L519.0,173.2 L520.0,173.6 L521.0,172.8 L522.0,173.0 L523.0,173.3 L524.0,173.2 L525.0,173.6 L526.0,173.6 L527.0,173.3 L528.0,173.1 L529.0,173.1 L530.0,173.2 L531.0,173.0 L532.0,173.6 L533.0,173.1 L534.0,173.8 L535.0,173.6 L536.0,173.0 L537.0,173.5 L538.0,173.6 L539.0,173.0 L540.0,173.5 L541.0,173.0 L542.0,173.8 L543.0,173.0 L544.0,173.6 L545.0,174.0 L546.0,173.8 L547.0,173.2 L548.0,173.5 L549.0,173.1 L550.0,173.3 L551.0,173.8 L552.0,173.8 L553.0,173.0 L554.0,173.3 L555.0,173.6 L556.0,173.1 L557.0,173.8 L558.0,173.8 L559.0,173.5 L560.0,173.3 L561.0,173.8 L562.0,173.5 L563.0,173.1 L564.0,173.2 L565.0,173.1 L566.0,173.8 L567.0,173.4 L568.0,173.6 L569.0,173.7 L570.0,173.9 L571.0,173.1 L572.0,173.3 L573.0,173.8 L574.0,173.7 L575.0,173.3 L576.0,173.6 L577.0,173.1 L578.0,173.1 L579.0,173.0 L580.0,173.3 L581.0,173.1 L582.0,173.4 L583.0,173.9 L584.0,173.1 L585.0,173.5 L586.0,173.8 L587.0,173.5 L587.9,173.5 L588.9,173.7 L589.9,173.0 L590.9,173.9 L591.9,173.6 L592.9,173.8 L593.9,173.8 L594.9,173.1 L595.9,173.0 L596.9,173.2 L597.9,173.5 L598.9,173.9 L599.9,173.9 L600.9,173.4 L601.9,173.6 L602.9,173.7 L603.8,173.3 L604.8,174.0 L605.8,174.0 L606.8,173.7 L607.8,173.9 L608.8,173.8 L609.8,173.7 L610.8,173.4 L611.8,173.3 L612.8,173.3 L613.8,173.1 L614.8,174.0 L615.8,173.4 L616.8,173.1 L617.8,173.4 L618.7,173.2 L619.7,173.5 L620.7,173.4 L621.7,173.3 L622.7,173.6 L623.7,173.5 L624.7,173.4 L625.7,173.9" fill="none" stroke="#ff0000" stroke-width="1.45" stroke-linejoin="round" stroke-linecap="round" clip-path="url(#cm)" />
<path d="M394.6,172.8 L395.8,173.5 L397.0,174.2 L398.0,174.9 L399.0,176.4 L400.0,177.5 L401.2,179.8 L402.4,181.8 L403.6,182.4 L404.8,183.1 L406.0,182.1 L407.2,181.5 L408.4,180.0 L409.6,178.8 L410.8,176.6 L412.0,174.0 L413.2,173.2 L414.4,172.4 L415.6,173.7 L416.8,175.0 L418.0,177.8 L419.2,180.1 L420.4,181.0 L421.6,181.9 L422.5,182.6 L423.4,182.7 L424.2,181.0 L425.1,178.8 L426.3,177.1 L427.5,175.4 L428.7,174.0 L429.9,172.7 L431.1,172.3 L432.3,171.8 L433.5,172.7 L434.7,173.5 L435.9,173.8 L437.1,173.8 L438.0,172.1 L438.9,170.4 L439.8,168.3 L440.7,165.5 L441.9,162.5 L443.1,164.9 L444.0,167.5 L444.9,170.4 L446.1,172.0 L447.3,173.7 L448.3,173.6 L449.3,173.8 L450.3,173.9 L451.5,173.0 L452.7,172.5 L453.9,172.0 L455.1,171.6 L456.3,170.1 L457.5,169.2 L458.7,167.6 L459.9,166.2 L461.1,165.4 L462.3,165.2 L463.5,166.6 L464.7,167.6 L465.9,169.9 L467.1,171.5 L468.3,171.4 L469.5,170.2 L470.7,168.9 L471.9,167.2 L473.1,168.6 L474.3,169.4 L475.5,171.4 L476.6,173.1 L477.7,173.4 L478.9,173.4 L480.0,173.9 L481.0,172.4 L482.0,170.8 L482.9,169.8 L483.9,168.1 L484.9,166.6 L485.8,168.0 L486.6,169.8 L487.5,171.7 L488.4,174.3 L489.8,183.6 L491.0,191.3 L492.2,184.8 L493.6,176.8 L494.5,174.4 L495.4,172.4 L496.3,172.4 L497.1,171.8 L498.0,171.7 L498.9,171.7 L499.9,171.4 L501.0,171.3 L502.0,171.6 L503.1,171.4 L504.1,171.4 L505.1,171.4 L506.0,171.3 L507.0,171.6 L507.9,171.8 L508.8,171.8 L509.6,171.7 L510.5,171.9 L511.6,171.2 L512.7,170.7 L513.8,169.8 L514.9,169.0 L515.8,168.5 L516.6,167.3 L517.5,166.9 L518.4,166.6 L519.2,166.6 L520.1,166.6 L521.0,166.1 L521.9,166.9 L522.8,166.6 L523.6,167.2 L524.5,167.5 L525.4,169.3 L526.2,171.5 L527.1,173.5 L528.0,175.5 L528.9,176.1 L529.8,176.1 L530.6,176.8 L531.5,177.5 L532.4,177.1 L533.3,177.5 L534.3,176.9 L535.4,177.0 L536.4,176.6 L537.5,176.5 L538.5,176.4 L539.6,176.0 L540.6,176.2 L541.7,175.8 L542.7,175.8 L543.8,175.5 L544.8,175.4 L545.9,175.2 L546.9,174.8 L548.0,175.0 L549.0,174.4 L550.1,174.5 L551.1,174.1 L552.2,173.6 L553.2,173.4 L554.3,173.0 L555.2,172.6 L556.0,172.1 L556.9,171.8 L557.8,171.5 L558.7,171.2 L559.5,171.3 L560.4,170.6 L561.3,170.3 L562.2,170.3 L563.0,170.4 L563.9,170.1 L564.8,170.0 L565.7,169.4 L566.5,168.9 L567.4,168.3 L568.3,168.1 L569.2,167.9 L570.1,168.6 L571.0,168.8 L571.9,169.5 L572.7,170.6 L573.6,171.4 L574.5,172.1 L575.4,172.5 L576.2,173.2 L577.1,173.3 L578.1,174.0 L579.2,173.9 L580.2,174.7 L581.3,174.8 L582.3,174.8 L583.3,175.4 L584.3,175.2 L585.3,175.4 L586.3,175.4 L587.3,175.9 L588.3,175.6 L589.3,176.1 L590.3,176.1 L591.3,176.4 L592.3,176.3 L593.3,176.3 L594.3,177.0 L595.3,176.9 L596.3,176.8 L597.2,177.5 L598.1,177.6 L599.0,177.4 L599.9,177.5 L600.8,177.3 L601.6,176.4 L602.5,176.2 L603.4,175.5 L604.4,175.8 L605.5,175.9 L606.5,176.2 L607.6,176.4 L608.6,176.5 L609.7,176.3 L610.7,175.9 L611.8,175.6 L612.8,175.4 L613.9,175.7 L614.9,175.0 L616.0,174.8 L617.0,174.4 L618.1,174.2 L619.1,173.8 L620.0,174.0 L621.0,173.8 L621.9,173.7 L622.9,173.9 L623.8,173.9 L624.8,174.1 L625.7,173.7" fill="none" stroke="#000" stroke-width="1.2" stroke-linejoin="round" stroke-linecap="round" clip-path="url(#cm)" />
<path d="M394.6,172.1 L395.8,172.7 L397.0,172.8 L398.0,174.3 L399.0,174.8 L400.0,176.1 L401.2,177.6 L402.4,179.8 L403.6,180.0 L404.8,180.9 L406.0,180.6 L407.2,180.4 L408.4,179.3 L409.6,178.6 L410.8,176.3 L412.0,173.4 L413.2,172.7 L414.4,172.1 L415.6,173.4 L416.8,174.8 L418.0,177.1 L419.2,179.9 L420.4,180.3 L421.6,181.6 L422.5,182.2 L423.4,182.4 L424.2,180.4 L425.1,178.3 L426.3,176.6 L427.5,174.7 L428.7,173.8 L429.9,172.7 L431.1,171.7 L432.3,171.4 L433.5,171.8 L434.7,172.8 L435.9,173.4 L437.1,173.8 L438.0,172.0 L438.9,170.3 L439.8,167.8 L440.7,165.1 L441.9,162.3 L443.1,164.9 L444.0,167.1 L444.9,170.0 L446.1,171.3 L447.3,172.8 L448.3,173.2 L449.3,173.5 L450.3,173.9 L451.5,172.5 L452.7,171.8 L453.9,171.8 L455.1,171.4 L456.3,170.6 L457.5,169.8 L458.7,168.9 L459.9,167.5 L461.1,166.2 L462.3,164.7 L463.5,165.7 L464.7,167.2 L465.9,169.0 L467.1,171.2 L468.3,170.8 L469.5,169.9 L470.7,168.3 L471.9,167.0 L473.1,167.9 L474.3,169.0 L475.5,170.4 L476.6,172.3 L477.7,172.5 L478.9,173.2 L480.0,173.5 L481.0,172.3 L482.0,171.2 L483.0,169.5 L484.0,168.8 L484.9,169.2 L485.7,169.9 L486.6,170.3 L487.5,172.5 L488.4,174.5 L489.8,184.2 L491.0,192.8 L492.2,185.9 L493.6,177.2 L494.5,175.0 L495.4,173.1 L496.3,172.9 L497.1,172.5 L498.0,171.9 L498.9,171.9 L499.9,172.0 L501.0,172.0 L502.0,171.8 L503.1,171.8 L504.1,171.9 L505.1,171.7 L506.0,171.8 L507.0,172.2 L507.9,172.1 L508.8,172.6 L509.6,172.6 L510.5,172.6 L511.6,172.4 L512.7,171.7 L513.8,171.7 L514.9,171.3 L516.0,170.7 L517.1,170.5 L518.2,169.7 L519.3,169.4 L520.2,169.6 L521.0,170.0 L521.9,170.9 L522.8,170.8 L523.7,172.2 L524.5,172.9 L525.4,173.8 L526.3,174.3 L527.2,175.3 L528.0,175.7 L528.9,175.7 L529.8,176.2 L530.7,176.4 L531.5,176.9 L532.4,176.8 L533.3,177.5 L534.3,177.1 L535.4,177.1 L536.4,176.6 L537.5,176.7 L538.5,176.4 L539.6,176.3 L540.6,176.0 L541.7,176.2 L542.7,175.9 L543.8,175.7 L544.8,175.2 L545.9,175.0 L546.9,174.8 L548.0,174.6 L549.0,174.9 L550.1,174.1 L551.1,174.1 L552.2,173.4 L553.2,173.3 L554.3,172.7 L555.2,172.3 L556.0,172.1 L556.9,171.6 L557.8,171.4 L558.7,170.5 L559.5,170.1 L560.4,169.6 L561.3,169.2 L562.2,169.5 L563.0,169.0 L563.9,168.7 L564.8,168.4 L565.7,167.8 L566.5,166.9 L567.4,165.7 L568.3,165.2 L569.2,164.8 L570.1,166.1 L571.0,166.9 L571.9,168.1 L572.7,169.5 L573.6,171.0 L574.5,171.7 L575.4,172.1 L576.2,172.3 L577.1,172.8 L578.1,173.1 L579.2,173.8 L580.2,174.0 L581.3,174.5 L582.3,174.4 L583.3,174.8 L584.3,174.9 L585.3,175.2 L586.3,175.0 L587.3,175.1 L588.3,175.6 L589.3,175.8 L590.3,175.6 L591.3,175.7 L592.3,175.6 L593.3,176.0 L594.3,176.4 L595.3,176.2 L596.3,176.4 L597.2,176.7 L598.1,176.7 L599.0,176.8 L599.9,177.3 L600.8,177.1 L601.6,176.6 L602.5,175.8 L603.4,175.7 L604.4,175.9 L605.5,175.9 L606.5,176.0 L607.6,176.0 L608.6,176.5 L609.7,176.3 L610.7,175.9 L611.8,175.6 L612.8,175.4 L613.9,175.7 L614.9,175.4 L616.0,174.8 L617.0,174.5 L618.1,174.3 L619.1,173.6 L620.0,173.8 L621.0,173.8 L621.9,174.0 L622.9,173.6 L623.8,174.0 L624.8,173.6 L625.7,173.9" fill="none" stroke="#008000" stroke-width="1.3" stroke-linejoin="round" stroke-linecap="round" clip-path="url(#cm)" />
<path d="M67.4,15.4v2.4M67.4,51.6v-2.4 M82.8,15.4v2.4M82.8,51.6v-2.4 M98.2,15.4v2.4M98.2,51.6v-2.4 M113.6,15.4v2.4M113.6,51.6v-2.4 M129.0,15.4v2.4M129.0,51.6v-2.4 M144.4,15.4v2.4M144.4,51.6v-2.4 M159.8,15.4v2.4M159.8,51.6v-2.4 M175.2,15.4v2.4M175.2,51.6v-2.4 M190.6,15.4v2.4M190.6,51.6v-2.4 M206.0,15.4v2.4M206.0,51.6v-2.4 M221.4,15.4v2.4M221.4,51.6v-2.4 M236.8,15.4v2.4M236.8,51.6v-2.4 M252.2,15.4v2.4M252.2,51.6v-2.4 M267.6,15.4v2.4M267.6,51.6v-2.4 M52.0,23.4h2.2M283.0,23.4h-2.2 M52.0,33.4h2.2M283.0,33.4h-2.2 M52.0,43.4h2.2M283.0,43.4h-2.2" stroke="#2b2b2b" stroke-width="0.8" fill="none"/>
<path d="M52.0,15.4V51.6M283.0,15.4V51.6" stroke="#2b2b2b" stroke-width="0.8" fill="none"/>
<path d="M51.6,15.4H283.4" stroke="#2b2b2b" stroke-width="0.8" fill="none"/>
<path d="M51.6,51.6H283.4" stroke="#2b2b2b" stroke-width="0.8" fill="none"/>
<path d="M67.4,51.6v2.4M67.4,88.1v-2.4 M82.8,51.6v2.4M82.8,88.1v-2.4 M98.2,51.6v2.4M98.2,88.1v-2.4 M113.6,51.6v2.4M113.6,88.1v-2.4 M129.0,51.6v2.4M129.0,88.1v-2.4 M144.4,51.6v2.4M144.4,88.1v-2.4 M159.8,51.6v2.4M159.8,88.1v-2.4 M175.2,51.6v2.4M175.2,88.1v-2.4 M190.6,51.6v2.4M190.6,88.1v-2.4 M206.0,51.6v2.4M206.0,88.1v-2.4 M221.4,51.6v2.4M221.4,88.1v-2.4 M236.8,51.6v2.4M236.8,88.1v-2.4 M252.2,51.6v2.4M252.2,88.1v-2.4 M267.6,51.6v2.4M267.6,88.1v-2.4 M52.0,62.0h2.2M283.0,62.0h-2.2 M52.0,72.5h2.2M283.0,72.5h-2.2 M52.0,83.0h2.2M283.0,83.0h-2.2" stroke="#2b2b2b" stroke-width="0.8" fill="none"/>
<path d="M52.0,51.6V88.1M283.0,51.6V88.1" stroke="#2b2b2b" stroke-width="0.8" fill="none"/>
<path d="M51.6,51.6H283.4" stroke="#2b2b2b" stroke-width="0.8" fill="none"/>
<path d="M51.6,88.1H283.4" stroke="#555" stroke-width="0.8" fill="none"/>
<path d="M67.4,88.1v2.4M67.4,125.0v-2.4 M82.8,88.1v2.4M82.8,125.0v-2.4 M98.2,88.1v2.4M98.2,125.0v-2.4 M113.6,88.1v2.4M113.6,125.0v-2.4 M129.0,88.1v2.4M129.0,125.0v-2.4 M144.4,88.1v2.4M144.4,125.0v-2.4 M159.8,88.1v2.4M159.8,125.0v-2.4 M175.2,88.1v2.4M175.2,125.0v-2.4 M190.6,88.1v2.4M190.6,125.0v-2.4 M206.0,88.1v2.4M206.0,125.0v-2.4 M221.4,88.1v2.4M221.4,125.0v-2.4 M236.8,88.1v2.4M236.8,125.0v-2.4 M252.2,88.1v2.4M252.2,125.0v-2.4 M267.6,88.1v2.4M267.6,125.0v-2.4 M52.0,104.6h2.2M283.0,104.6h-2.2 M52.0,120.3h2.2M283.0,120.3h-2.2" stroke="#2b2b2b" stroke-width="0.8" fill="none"/>
<path d="M52.0,88.1V125.0M283.0,88.1V125.0" stroke="#2b2b2b" stroke-width="0.8" fill="none"/>
<path d="M51.6,88.1H283.4" stroke="#2b2b2b" stroke-width="0.8" fill="none"/>
<path d="M67.4,160.6v-2.4 M82.8,160.6v-2.4 M98.2,160.6v-2.4 M113.6,160.6v-2.4 M129.0,160.6v-2.4 M144.4,160.6v-2.4 M159.8,160.6v-2.4 M175.2,160.6v-2.4 M190.6,160.6v-2.4 M206.0,160.6v-2.4 M221.4,160.6v-2.4 M236.8,160.6v-2.4 M252.2,160.6v-2.4 M267.6,160.6v-2.4 M52.0,159.0h-1.2M283.0,159.0h1.2 M52.0,157.3h-1.2M283.0,157.3h1.2 M52.0,155.9h-1.2M283.0,155.9h1.2 M52.0,154.7h-1.2M283.0,154.7h1.2 M52.0,153.6h-2.0M283.0,153.6h2.0 M52.0,146.3h-1.2M283.0,146.3h1.2 M52.0,142.1h-1.2M283.0,142.1h1.2 M52.0,139.0h-1.2M283.0,139.0h1.2 M52.0,136.7h-1.2M283.0,136.7h1.2 M52.0,134.8h-1.2M283.0,134.8h1.2 M52.0,133.1h-1.2M283.0,133.1h1.2 M52.0,131.7h-1.2M283.0,131.7h1.2 M52.0,130.5h-1.2M283.0,130.5h1.2 M52.0,129.4h-2.0M283.0,129.4h2.0" stroke="#2b2b2b" stroke-width="0.7" fill="none"/>
<path d="M52.0,126.4V160.6M283.0,126.4V160.6" stroke="#2b2b2b" stroke-width="0.7" fill="none"/>
<path d="M52.0,160.6H283.0" stroke="#8c8c6a" stroke-width="0.8" fill="none"/>
<path d="M67.4,160.8v2.4M67.4,197.2v-2.4 M82.8,160.8v2.4M82.8,197.2v-2.4 M98.2,160.8v2.4M98.2,197.2v-2.4 M113.6,160.8v2.4M113.6,197.2v-2.4 M129.0,160.8v2.4M129.0,197.2v-2.4 M144.4,160.8v2.4M144.4,197.2v-2.4 M159.8,160.8v2.4M159.8,197.2v-2.4 M175.2,160.8v2.4M175.2,197.2v-2.4 M190.6,160.8v2.4M190.6,197.2v-2.4 M206.0,160.8v2.4M206.0,197.2v-2.4 M221.4,160.8v2.4M221.4,197.2v-2.4 M236.8,160.8v2.4M236.8,197.2v-2.4 M252.2,160.8v2.4M252.2,197.2v-2.4 M267.6,160.8v2.4M267.6,197.2v-2.4 M52.0,165.1h2.2M283.0,165.1h-2.2 M52.0,174.2h2.2M283.0,174.2h-2.2 M52.0,183.2h2.2M283.0,183.2h-2.2 M52.0,192.2h2.2M283.0,192.2h-2.2" stroke="#2b2b2b" stroke-width="0.8" fill="none"/>
<path d="M52.0,160.8V197.2M283.0,160.8V197.2" stroke="#2b2b2b" stroke-width="0.8" fill="none"/>
<path d="M51.6,197.2H283.4" stroke="#777" stroke-width="0.8" fill="none"/>
<path d="M67.4,233.6v-2.4 M82.8,233.6v-2.4 M98.2,233.6v-2.4 M113.6,233.6v-2.4 M129.0,233.6v-2.4 M144.4,233.6v-2.4 M159.8,233.6v-2.4 M175.2,233.6v-2.4 M190.6,233.6v-2.4 M206.0,233.6v-2.4 M221.4,233.6v-2.4 M236.8,233.6v-2.4 M252.2,233.6v-2.4 M267.6,233.6v-2.4 M52.0,233.4h-1.2M283.0,233.4h1.2 M52.0,231.5h-1.2M283.0,231.5h1.2 M52.0,229.8h-1.2M283.0,229.8h1.2 M52.0,228.4h-1.2M283.0,228.4h1.2 M52.0,227.2h-1.2M283.0,227.2h1.2 M52.0,226.1h-2.0M283.0,226.1h2.0 M52.0,218.8h-1.2M283.0,218.8h1.2 M52.0,214.6h-1.2M283.0,214.6h1.2 M52.0,211.5h-1.2M283.0,211.5h1.2 M52.0,209.2h-1.2M283.0,209.2h1.2 M52.0,207.3h-1.2M283.0,207.3h1.2 M52.0,205.6h-1.2M283.0,205.6h1.2 M52.0,204.2h-1.2M283.0,204.2h1.2 M52.0,203.0h-1.2M283.0,203.0h1.2 M52.0,201.9h-2.0M283.0,201.9h2.0" stroke="#2b2b2b" stroke-width="0.7" fill="none"/>
<path d="M52.0,198.8V233.6M283.0,198.8V233.6" stroke="#2b2b2b" stroke-width="0.7" fill="none"/>
<path d="M52.0,233.6H283.0" stroke="#3a3a3a" stroke-width="0.8" fill="none"/>
<path d="M67.4,269.7v-2.4 M82.8,269.7v-2.4 M98.2,269.7v-2.4 M113.6,269.7v-2.4 M129.0,269.7v-2.4 M144.4,269.7v-2.4 M159.8,269.7v-2.4 M175.2,269.7v-2.4 M190.6,269.7v-2.4 M206.0,269.7v-2.4 M221.4,269.7v-2.4 M236.8,269.7v-2.4 M252.2,269.7v-2.4 M267.6,269.7v-2.4 M52.0,269.5h-1.2M283.0,269.5h1.2 M52.0,267.6h-1.2M283.0,267.6h1.2 M52.0,265.9h-1.2M283.0,265.9h1.2 M52.0,264.5h-1.2M283.0,264.5h1.2 M52.0,263.3h-1.2M283.0,263.3h1.2 M52.0,262.2h-2.0M283.0,262.2h2.0 M52.0,254.9h-1.2M283.0,254.9h1.2 M52.0,250.7h-1.2M283.0,250.7h1.2 M52.0,247.6h-1.2M283.0,247.6h1.2 M52.0,245.3h-1.2M283.0,245.3h1.2 M52.0,243.4h-1.2M283.0,243.4h1.2 M52.0,241.7h-1.2M283.0,241.7h1.2 M52.0,240.3h-1.2M283.0,240.3h1.2 M52.0,239.1h-1.2M283.0,239.1h1.2 M52.0,238.0h-2.0M283.0,238.0h2.0" stroke="#2b2b2b" stroke-width="0.7" fill="none"/>
<path d="M52.0,235.8V269.7M283.0,235.8V269.7" stroke="#2b2b2b" stroke-width="0.7" fill="none"/>
<path d="M52.0,269.7H283.0" stroke="#9a9a80" stroke-width="0.8" fill="none"/>
<path d="M67.4,306.3v2.4 M82.8,306.3v2.4 M98.2,306.3v2.4 M113.6,306.3v2.4 M129.0,306.3v2.4 M144.4,306.3v2.4 M159.8,306.3v2.4 M175.2,306.3v2.4 M190.6,306.3v2.4 M206.0,306.3v2.4 M221.4,306.3v2.4 M236.8,306.3v2.4 M252.2,306.3v2.4 M267.6,306.3v2.4 M52.0,305.8h-1.2M283.0,305.8h1.2 M52.0,303.9h-1.2M283.0,303.9h1.2 M52.0,302.2h-1.2M283.0,302.2h1.2 M52.0,300.8h-1.2M283.0,300.8h1.2 M52.0,299.6h-1.2M283.0,299.6h1.2 M52.0,298.5h-2.0M283.0,298.5h2.0 M52.0,291.2h-1.2M283.0,291.2h1.2 M52.0,287.0h-1.2M283.0,287.0h1.2 M52.0,283.9h-1.2M283.0,283.9h1.2 M52.0,281.6h-1.2M283.0,281.6h1.2 M52.0,279.7h-1.2M283.0,279.7h1.2 M52.0,278.0h-1.2M283.0,278.0h1.2 M52.0,276.6h-1.2M283.0,276.6h1.2 M52.0,275.4h-1.2M283.0,275.4h1.2 M52.0,274.3h-2.0M283.0,274.3h2.0" stroke="#2b2b2b" stroke-width="0.7" fill="none"/>
<path d="M52.0,271.8V306.3M283.0,271.8V306.3" stroke="#2b2b2b" stroke-width="0.7" fill="none"/>
<path d="M52.0,306.3H283.0" stroke="#8c8c6a" stroke-width="0.8" fill="none"/>
<path d="M404.6,14.4v2.4M404.6,51.1v-2.4 M414.6,14.4v2.4M414.6,51.1v-2.4 M424.6,14.4v2.4M424.6,51.1v-2.4 M434.7,14.4v2.4M434.7,51.1v-2.4 M444.8,14.4v2.4M444.8,51.1v-2.4 M454.8,14.4v2.4M454.8,51.1v-2.4 M464.9,14.4v2.4M464.9,51.1v-2.4 M474.9,14.4v2.4M474.9,51.1v-2.4 M484.9,14.4v2.4M484.9,51.1v-2.4 M495.0,14.4v2.4M495.0,51.1v-2.4 M505.1,14.4v2.4M505.1,51.1v-2.4 M515.1,14.4v2.4M515.1,51.1v-2.4 M525.1,14.4v2.4M525.1,51.1v-2.4 M535.2,14.4v2.4M535.2,51.1v-2.4 M545.2,14.4v2.4M545.2,51.1v-2.4 M555.3,14.4v2.4M555.3,51.1v-2.4 M565.4,14.4v2.4M565.4,51.1v-2.4 M575.4,14.4v2.4M575.4,51.1v-2.4 M585.5,14.4v2.4M585.5,51.1v-2.4 M595.5,14.4v2.4M595.5,51.1v-2.4 M605.5,14.4v2.4M605.5,51.1v-2.4 M615.6,14.4v2.4M615.6,51.1v-2.4 M394.5,24.8h2.2M625.7,24.8h-2.2 M394.5,35.0h2.2M625.7,35.0h-2.2 M394.5,45.2h2.2M625.7,45.2h-2.2" stroke="#2b2b2b" stroke-width="0.8" fill="none"/>
<path d="M394.5,14.4V51.1M625.7,14.4V51.1" stroke="#2b2b2b" stroke-width="0.8" fill="none"/>
<path d="M394.1,14.4H626.1" stroke="#2b2b2b" stroke-width="0.8" fill="none"/>
<path d="M394.1,51.1H626.1" stroke="#2b2b2b" stroke-width="0.8" fill="none"/>
<path d="M404.6,51.1v2.4M404.6,87.4v-2.4 M414.6,51.1v2.4M414.6,87.4v-2.4 M424.6,51.1v2.4M424.6,87.4v-2.4 M434.7,51.1v2.4M434.7,87.4v-2.4 M444.8,51.1v2.4M444.8,87.4v-2.4 M454.8,51.1v2.4M454.8,87.4v-2.4 M464.9,51.1v2.4M464.9,87.4v-2.4 M474.9,51.1v2.4M474.9,87.4v-2.4 M484.9,51.1v2.4M484.9,87.4v-2.4 M495.0,51.1v2.4M495.0,87.4v-2.4 M505.1,51.1v2.4M505.1,87.4v-2.4 M515.1,51.1v2.4M515.1,87.4v-2.4 M525.1,51.1v2.4M525.1,87.4v-2.4 M535.2,51.1v2.4M535.2,87.4v-2.4 M545.2,51.1v2.4M545.2,87.4v-2.4 M555.3,51.1v2.4M555.3,87.4v-2.4 M565.4,51.1v2.4M565.4,87.4v-2.4 M575.4,51.1v2.4M575.4,87.4v-2.4 M585.5,51.1v2.4M585.5,87.4v-2.4 M595.5,51.1v2.4M595.5,87.4v-2.4 M605.5,51.1v2.4M605.5,87.4v-2.4 M615.6,51.1v2.4M615.6,87.4v-2.4 M394.5,56.9h2.2M625.7,56.9h-2.2 M394.5,63.0h2.2M625.7,63.0h-2.2 M394.5,69.1h2.2M625.7,69.1h-2.2 M394.5,75.3h2.2M625.7,75.3h-2.2 M394.5,81.4h2.2M625.7,81.4h-2.2" stroke="#2b2b2b" stroke-width="0.8" fill="none"/>
<path d="M394.5,51.1V87.4M625.7,51.1V87.4" stroke="#2b2b2b" stroke-width="0.8" fill="none"/>
<path d="M394.1,51.1H626.1" stroke="#2b2b2b" stroke-width="0.8" fill="none"/>
<path d="M394.1,87.4H626.1" stroke="#555" stroke-width="0.8" fill="none"/>
<path d="M404.6,87.4v2.4M404.6,123.9v-2.4 M414.6,87.4v2.4M414.6,123.9v-2.4 M424.6,87.4v2.4M424.6,123.9v-2.4 M434.7,87.4v2.4M434.7,123.9v-2.4 M444.8,87.4v2.4M444.8,123.9v-2.4 M454.8,87.4v2.4M454.8,123.9v-2.4 M464.9,87.4v2.4M464.9,123.9v-2.4 M474.9,87.4v2.4M474.9,123.9v-2.4 M484.9,87.4v2.4M484.9,123.9v-2.4 M495.0,87.4v2.4M495.0,123.9v-2.4 M505.1,87.4v2.4M505.1,123.9v-2.4 M515.1,87.4v2.4M515.1,123.9v-2.4 M525.1,87.4v2.4M525.1,123.9v-2.4 M535.2,87.4v2.4M535.2,123.9v-2.4 M545.2,87.4v2.4M545.2,123.9v-2.4 M555.3,87.4v2.4M555.3,123.9v-2.4 M565.4,87.4v2.4M565.4,123.9v-2.4 M575.4,87.4v2.4M575.4,123.9v-2.4 M585.5,87.4v2.4M585.5,123.9v-2.4 M595.5,87.4v2.4M595.5,123.9v-2.4 M605.5,87.4v2.4M605.5,123.9v-2.4 M615.6,87.4v2.4M615.6,123.9v-2.4 M394.5,99.4h2.2M625.7,99.4h-2.2 M394.5,111.2h2.2M625.7,111.2h-2.2 M394.5,123.0h2.2M625.7,123.0h-2.2" stroke="#2b2b2b" stroke-width="0.8" fill="none"/>
<path d="M394.5,87.4V123.9M625.7,87.4V123.9" stroke="#2b2b2b" stroke-width="0.8" fill="none"/>
<path d="M394.1,87.4H626.1" stroke="#2b2b2b" stroke-width="0.8" fill="none"/>
<path d="M394.1,123.9H626.1" stroke="#bbb" stroke-width="0.8" fill="none"/>
<path d="M404.6,159.6v-2.4 M414.6,159.6v-2.4 M424.6,159.6v-2.4 M434.7,159.6v-2.4 M444.8,159.6v-2.4 M454.8,159.6v-2.4 M464.9,159.6v-2.4 M474.9,159.6v-2.4 M484.9,159.6v-2.4 M495.0,159.6v-2.4 M505.1,159.6v-2.4 M515.1,159.6v-2.4 M525.1,159.6v-2.4 M535.2,159.6v-2.4 M545.2,159.6v-2.4 M555.3,159.6v-2.4 M565.4,159.6v-2.4 M575.4,159.6v-2.4 M585.5,159.6v-2.4 M595.5,159.6v-2.4 M605.5,159.6v-2.4 M615.6,159.6v-2.4 M394.5,158.1h-1.2M625.7,158.1h1.2 M394.5,156.7h-1.2M625.7,156.7h1.2 M394.5,155.5h-1.2M625.7,155.5h1.2 M394.5,154.4h-2.0M625.7,154.4h2.0 M394.5,147.1h-1.2M625.7,147.1h1.2 M394.5,142.9h-1.2M625.7,142.9h1.2 M394.5,139.8h-1.2M625.7,139.8h1.2 M394.5,137.5h-1.2M625.7,137.5h1.2 M394.5,135.6h-1.2M625.7,135.6h1.2 M394.5,133.9h-1.2M625.7,133.9h1.2 M394.5,132.5h-1.2M625.7,132.5h1.2 M394.5,131.3h-1.2M625.7,131.3h1.2 M394.5,130.2h-2.0M625.7,130.2h2.0" stroke="#2b2b2b" stroke-width="0.7" fill="none"/>
<path d="M394.5,125.9V159.6M625.7,125.9V159.6" stroke="#2b2b2b" stroke-width="0.7" fill="none"/>
<path d="M394.5,159.6H625.7" stroke="#8c8c6a" stroke-width="0.8" fill="none"/>
<path d="M404.6,160.0v2.4M404.6,196.5v-2.4 M414.6,160.0v2.4M414.6,196.5v-2.4 M424.6,160.0v2.4M424.6,196.5v-2.4 M434.7,160.0v2.4M434.7,196.5v-2.4 M444.8,160.0v2.4M444.8,196.5v-2.4 M454.8,160.0v2.4M454.8,196.5v-2.4 M464.9,160.0v2.4M464.9,196.5v-2.4 M474.9,160.0v2.4M474.9,196.5v-2.4 M484.9,160.0v2.4M484.9,196.5v-2.4 M495.0,160.0v2.4M495.0,196.5v-2.4 M505.1,160.0v2.4M505.1,196.5v-2.4 M515.1,160.0v2.4M515.1,196.5v-2.4 M525.1,160.0v2.4M525.1,196.5v-2.4 M535.2,160.0v2.4M535.2,196.5v-2.4 M545.2,160.0v2.4M545.2,196.5v-2.4 M555.3,160.0v2.4M555.3,196.5v-2.4 M565.4,160.0v2.4M565.4,196.5v-2.4 M575.4,160.0v2.4M575.4,196.5v-2.4 M585.5,160.0v2.4M585.5,196.5v-2.4 M595.5,160.0v2.4M595.5,196.5v-2.4 M605.5,160.0v2.4M605.5,196.5v-2.4 M615.6,160.0v2.4M615.6,196.5v-2.4 M394.5,163.6h2.2M625.7,163.6h-2.2 M394.5,172.9h2.2M625.7,172.9h-2.2 M394.5,182.3h2.2M625.7,182.3h-2.2 M394.5,191.6h2.2M625.7,191.6h-2.2" stroke="#2b2b2b" stroke-width="0.8" fill="none"/>
<path d="M394.5,160.0V196.5M625.7,160.0V196.5" stroke="#2b2b2b" stroke-width="0.8" fill="none"/>
<path d="M394.1,196.5H626.1" stroke="#777" stroke-width="0.8" fill="none"/>
<path d="M404.6,232.6v-2.4 M414.6,232.6v-2.4 M424.6,232.6v-2.4 M434.7,232.6v-2.4 M444.8,232.6v-2.4 M454.8,232.6v-2.4 M464.9,232.6v-2.4 M474.9,232.6v-2.4 M484.9,232.6v-2.4 M495.0,232.6v-2.4 M505.1,232.6v-2.4 M515.1,232.6v-2.4 M525.1,232.6v-2.4 M535.2,232.6v-2.4 M545.2,232.6v-2.4 M555.3,232.6v-2.4 M565.4,232.6v-2.4 M575.4,232.6v-2.4 M585.5,232.6v-2.4 M595.5,232.6v-2.4 M605.5,232.6v-2.4 M615.6,232.6v-2.4 M394.5,232.3h-1.2M625.7,232.3h1.2 M394.5,230.6h-1.2M625.7,230.6h1.2 M394.5,229.2h-1.2M625.7,229.2h1.2 M394.5,228.0h-1.2M625.7,228.0h1.2 M394.5,226.9h-2.0M625.7,226.9h2.0 M394.5,219.6h-1.2M625.7,219.6h1.2 M394.5,215.4h-1.2M625.7,215.4h1.2 M394.5,212.3h-1.2M625.7,212.3h1.2 M394.5,210.0h-1.2M625.7,210.0h1.2 M394.5,208.1h-1.2M625.7,208.1h1.2 M394.5,206.4h-1.2M625.7,206.4h1.2 M394.5,205.0h-1.2M625.7,205.0h1.2 M394.5,203.8h-1.2M625.7,203.8h1.2 M394.5,202.7h-2.0M625.7,202.7h2.0" stroke="#2b2b2b" stroke-width="0.7" fill="none"/>
<path d="M394.5,198.6V232.6M625.7,198.6V232.6" stroke="#2b2b2b" stroke-width="0.7" fill="none"/>
<path d="M394.5,232.6H625.7" stroke="#3a3a3a" stroke-width="0.8" fill="none"/>
<path d="M404.6,268.6v-2.4 M414.6,268.6v-2.4 M424.6,268.6v-2.4 M434.7,268.6v-2.4 M444.8,268.6v-2.4 M454.8,268.6v-2.4 M464.9,268.6v-2.4 M474.9,268.6v-2.4 M484.9,268.6v-2.4 M495.0,268.6v-2.4 M505.1,268.6v-2.4 M515.1,268.6v-2.4 M525.1,268.6v-2.4 M535.2,268.6v-2.4 M545.2,268.6v-2.4 M555.3,268.6v-2.4 M565.4,268.6v-2.4 M575.4,268.6v-2.4 M585.5,268.6v-2.4 M595.5,268.6v-2.4 M605.5,268.6v-2.4 M615.6,268.6v-2.4 M394.5,268.4h-1.2M625.7,268.4h1.2 M394.5,266.7h-1.2M625.7,266.7h1.2 M394.5,265.3h-1.2M625.7,265.3h1.2 M394.5,264.1h-1.2M625.7,264.1h1.2 M394.5,263.0h-2.0M625.7,263.0h2.0 M394.5,255.7h-1.2M625.7,255.7h1.2 M394.5,251.5h-1.2M625.7,251.5h1.2 M394.5,248.4h-1.2M625.7,248.4h1.2 M394.5,246.1h-1.2M625.7,246.1h1.2 M394.5,244.2h-1.2M625.7,244.2h1.2 M394.5,242.5h-1.2M625.7,242.5h1.2 M394.5,241.1h-1.2M625.7,241.1h1.2 M394.5,239.9h-1.2M625.7,239.9h1.2 M394.5,238.8h-2.0M625.7,238.8h2.0" stroke="#2b2b2b" stroke-width="0.7" fill="none"/>
<path d="M394.5,234.4V268.6M625.7,234.4V268.6" stroke="#2b2b2b" stroke-width="0.7" fill="none"/>
<path d="M394.5,268.6H625.7" stroke="#9a9a80" stroke-width="0.8" fill="none"/>
<path d="M404.6,305.4v2.4 M414.6,305.4v2.4 M424.6,305.4v2.4 M434.7,305.4v2.4 M444.8,305.4v2.4 M454.8,305.4v2.4 M464.9,305.4v2.4 M474.9,305.4v2.4 M484.9,305.4v2.4 M495.0,305.4v2.4 M505.1,305.4v2.4 M515.1,305.4v2.4 M525.1,305.4v2.4 M535.2,305.4v2.4 M545.2,305.4v2.4 M555.3,305.4v2.4 M565.4,305.4v2.4 M575.4,305.4v2.4 M585.5,305.4v2.4 M595.5,305.4v2.4 M605.5,305.4v2.4 M615.6,305.4v2.4 M394.5,304.8h-1.2M625.7,304.8h1.2 M394.5,303.1h-1.2M625.7,303.1h1.2 M394.5,301.7h-1.2M625.7,301.7h1.2 M394.5,300.5h-1.2M625.7,300.5h1.2 M394.5,299.4h-2.0M625.7,299.4h2.0 M394.5,292.1h-1.2M625.7,292.1h1.2 M394.5,287.9h-1.2M625.7,287.9h1.2 M394.5,284.8h-1.2M625.7,284.8h1.2 M394.5,282.5h-1.2M625.7,282.5h1.2 M394.5,280.6h-1.2M625.7,280.6h1.2 M394.5,278.9h-1.2M625.7,278.9h1.2 M394.5,277.5h-1.2M625.7,277.5h1.2 M394.5,276.3h-1.2M625.7,276.3h1.2 M394.5,275.2h-2.0M625.7,275.2h2.0" stroke="#2b2b2b" stroke-width="0.7" fill="none"/>
<path d="M394.5,270.4V305.4M625.7,270.4V305.4" stroke="#2b2b2b" stroke-width="0.7" fill="none"/>
<path d="M394.5,305.4H625.7" stroke="#8c8c6a" stroke-width="0.8" fill="none"/>
<path d="M128.7,15.4H136.2M128.7,306.3H136.2" stroke="#ff00ff" stroke-width="1.6" fill="none"/>
<path d="M148.6,15.4H161M148.6,306.3H161" stroke="#ff00ff" stroke-width="1.6" fill="none"/>
<path d="M174,15.4H186.4M174,306.3H186.4" stroke="#ff00ff" stroke-width="1.6" fill="none"/>
<path d="M199.4,15.4H205.5M199.4,306.3H205.5" stroke="#ff00ff" stroke-width="1.6" fill="none"/>
<path d="M484.7,14.4H491M484.7,305.4H491" stroke="#ff00ff" stroke-width="1.6" fill="none"/>
<path d="M506.7,14.4H522.5M506.7,305.4H522.5" stroke="#ff00ff" stroke-width="1.6" fill="none"/>
<path d="M538.2,14.4H545.2M538.2,305.4H545.2" stroke="#ff00ff" stroke-width="1.6" fill="none"/>
<rect x="286.3" y="126.60000000000001" width="6.899999999999977" height="32.8" fill="url(#cbg_Ld)" stroke="#2b2b2b" stroke-width="0.7"/>
<path d="M293.2,129.9h-1.3M286.3,129.9h1.3 M293.2,133.2h-1.3M286.3,133.2h1.3 M293.2,136.4h-1.3M286.3,136.4h1.3 M293.2,139.7h-1.3M286.3,139.7h1.3 M293.2,143.0h-1.3M286.3,143.0h1.3 M293.2,146.3h-1.3M286.3,146.3h1.3 M293.2,149.6h-1.3M286.3,149.6h1.3 M293.2,152.8h-1.3M286.3,152.8h1.3 M293.2,156.1h-1.3M286.3,156.1h1.3" stroke="#2b2b2b" stroke-width="0.5" fill="none"/>
<rect x="286.3" y="199.0" width="6.899999999999977" height="33.400000000000006" fill="url(#cbg_Lf)" stroke="#2b2b2b" stroke-width="0.7"/>
<path d="M293.2,202.3h-1.3M286.3,202.3h1.3 M293.2,205.7h-1.3M286.3,205.7h1.3 M293.2,209.0h-1.3M286.3,209.0h1.3 M293.2,212.4h-1.3M286.3,212.4h1.3 M293.2,215.7h-1.3M286.3,215.7h1.3 M293.2,219.0h-1.3M286.3,219.0h1.3 M293.2,222.4h-1.3M286.3,222.4h1.3 M293.2,225.7h-1.3M286.3,225.7h1.3 M293.2,229.1h-1.3M286.3,229.1h1.3" stroke="#2b2b2b" stroke-width="0.5" fill="none"/>
<rect x="286.3" y="236.0" width="6.899999999999977" height="32.5" fill="url(#cbg_Lg)" stroke="#2b2b2b" stroke-width="0.7"/>
<path d="M293.2,239.2h-1.3M286.3,239.2h1.3 M293.2,242.5h-1.3M286.3,242.5h1.3 M293.2,245.8h-1.3M286.3,245.8h1.3 M293.2,249.0h-1.3M286.3,249.0h1.3 M293.2,252.2h-1.3M286.3,252.2h1.3 M293.2,255.5h-1.3M286.3,255.5h1.3 M293.2,258.8h-1.3M286.3,258.8h1.3 M293.2,262.0h-1.3M286.3,262.0h1.3 M293.2,265.2h-1.3M286.3,265.2h1.3" stroke="#2b2b2b" stroke-width="0.5" fill="none"/>
<rect x="286.3" y="272.0" width="6.899999999999977" height="33.10000000000002" fill="url(#cbg_Lh)" stroke="#2b2b2b" stroke-width="0.7"/>
<path d="M293.2,275.3h-1.3M286.3,275.3h1.3 M293.2,278.6h-1.3M286.3,278.6h1.3 M293.2,281.9h-1.3M286.3,281.9h1.3 M293.2,285.2h-1.3M286.3,285.2h1.3 M293.2,288.6h-1.3M286.3,288.6h1.3 M293.2,291.9h-1.3M286.3,291.9h1.3 M293.2,295.2h-1.3M286.3,295.2h1.3 M293.2,298.5h-1.3M286.3,298.5h1.3 M293.2,301.8h-1.3M286.3,301.8h1.3" stroke="#2b2b2b" stroke-width="0.5" fill="none"/>
<rect x="628.9" y="126.10000000000001" width="6.899999999999977" height="32.3" fill="url(#cbg_Rl)" stroke="#2b2b2b" stroke-width="0.7"/>
<path d="M635.8,129.3h-1.3M628.9,129.3h1.3 M635.8,132.6h-1.3M628.9,132.6h1.3 M635.8,135.8h-1.3M628.9,135.8h1.3 M635.8,139.0h-1.3M628.9,139.0h1.3 M635.8,142.2h-1.3M628.9,142.2h1.3 M635.8,145.5h-1.3M628.9,145.5h1.3 M635.8,148.7h-1.3M628.9,148.7h1.3 M635.8,151.9h-1.3M628.9,151.9h1.3 M635.8,155.2h-1.3M628.9,155.2h1.3" stroke="#2b2b2b" stroke-width="0.5" fill="none"/>
<rect x="628.9" y="198.79999999999998" width="6.899999999999977" height="32.60000000000002" fill="url(#cbg_Rn)" stroke="#2b2b2b" stroke-width="0.7"/>
<path d="M635.8,202.1h-1.3M628.9,202.1h1.3 M635.8,205.3h-1.3M628.9,205.3h1.3 M635.8,208.6h-1.3M628.9,208.6h1.3 M635.8,211.8h-1.3M628.9,211.8h1.3 M635.8,215.1h-1.3M628.9,215.1h1.3 M635.8,218.4h-1.3M628.9,218.4h1.3 M635.8,221.6h-1.3M628.9,221.6h1.3 M635.8,224.9h-1.3M628.9,224.9h1.3 M635.8,228.1h-1.3M628.9,228.1h1.3" stroke="#2b2b2b" stroke-width="0.5" fill="none"/>
<rect x="628.9" y="234.6" width="6.899999999999977" height="32.80000000000004" fill="url(#cbg_Ro)" stroke="#2b2b2b" stroke-width="0.7"/>
<path d="M635.8,237.9h-1.3M628.9,237.9h1.3 M635.8,241.2h-1.3M628.9,241.2h1.3 M635.8,244.4h-1.3M628.9,244.4h1.3 M635.8,247.7h-1.3M628.9,247.7h1.3 M635.8,251.0h-1.3M628.9,251.0h1.3 M635.8,254.3h-1.3M628.9,254.3h1.3 M635.8,257.6h-1.3M628.9,257.6h1.3 M635.8,260.8h-1.3M628.9,260.8h1.3 M635.8,264.1h-1.3M628.9,264.1h1.3" stroke="#2b2b2b" stroke-width="0.5" fill="none"/>
<rect x="628.9" y="270.59999999999997" width="6.899999999999977" height="33.60000000000002" fill="url(#cbg_Rp)" stroke="#2b2b2b" stroke-width="0.7"/>
<path d="M635.8,274.0h-1.3M628.9,274.0h1.3 M635.8,277.3h-1.3M628.9,277.3h1.3 M635.8,280.7h-1.3M628.9,280.7h1.3 M635.8,284.0h-1.3M628.9,284.0h1.3 M635.8,287.4h-1.3M628.9,287.4h1.3 M635.8,290.8h-1.3M628.9,290.8h1.3 M635.8,294.1h-1.3M628.9,294.1h1.3 M635.8,297.5h-1.3M628.9,297.5h1.3 M635.8,300.8h-1.3M628.9,300.8h1.3" stroke="#2b2b2b" stroke-width="0.5" fill="none"/>
<text x="155.0" y="10.9" font-size="11" text-anchor="start" fill="#ff00ff" font-weight="normal" >EDR 7</text>
<text x="495.4" y="8.2" font-size="11" text-anchor="start" fill="#ff00ff" font-weight="normal" >EDR 10</text>
<text x="68.0" y="24.4" font-size="11" text-anchor="start" fill="#1a1a1a" font-weight="normal" >(a)</text>
<text x="68.6" y="60.6" font-size="11" text-anchor="start" fill="#1a1a1a" font-weight="normal" >(b)</text>
<text x="68.6" y="96.6" font-size="11" text-anchor="start" fill="#1a1a1a" font-weight="normal" >(c)</text>
<text x="68.0" y="134.9" font-size="11" text-anchor="start" fill="#1a1a1a" font-weight="normal" >(d)</text>
<text x="68.0" y="169.6" font-size="11" text-anchor="start" fill="#1a1a1a" font-weight="normal" >(e)</text>
<text x="69.4" y="206.6" font-size="11" text-anchor="start" fill="#1a1a1a" font-weight="normal" >(f)</text>
<text x="68.0" y="243.0" font-size="11" text-anchor="start" fill="#1a1a1a" font-weight="normal" >(g)</text>
<text x="68.0" y="279.5" font-size="11" text-anchor="start" fill="#1a1a1a" font-weight="normal" >(h)</text>
<text x="412.6" y="23.5" font-size="11" text-anchor="start" fill="#1a1a1a" font-weight="normal" >(i)</text>
<text x="413.2" y="59.6" font-size="11" text-anchor="start" fill="#1a1a1a" font-weight="normal" >(j)</text>
<text x="411.2" y="95.8" font-size="11" text-anchor="start" fill="#1a1a1a" font-weight="normal" >(k)</text>
<text x="413.0" y="132.6" font-size="11" text-anchor="start" fill="#1a1a1a" font-weight="normal" >(l)</text>
<text x="409.6" y="168.1" font-size="11" text-anchor="start" fill="#1a1a1a" font-weight="normal" >(m)</text>
<text x="410.6" y="205.5" font-size="11" text-anchor="start" fill="#1a1a1a" font-weight="normal" >(n)</text>
<text x="410.6" y="241.5" font-size="11" text-anchor="start" fill="#1a1a1a" font-weight="normal" >(o)</text>
<text x="410.6" y="278.3" font-size="11" text-anchor="start" fill="#1a1a1a" font-weight="normal" >(p)</text>
<text x="45.9" y="26.4" font-size="8.5" text-anchor="end" fill="#262626" font-weight="normal" >5</text>
<text x="45.9" y="36.4" font-size="8.5" text-anchor="end" fill="#262626" font-weight="normal" >0</text>
<text x="45.9" y="46.4" font-size="8.5" text-anchor="end" fill="#262626" font-weight="normal" >-5</text>
<text x="45.6" y="64.0" font-size="8.5" text-anchor="end" fill="#262626" font-weight="normal" >0</text>
<text x="49.4" y="74.6" font-size="8.5" text-anchor="end" fill="#262626" font-weight="normal" >-5000</text>
<text x="50.0" y="85.2" font-size="8.5" text-anchor="end" fill="#262626" font-weight="normal" >-10000</text>
<text x="49.4" y="92.7" font-size="8.5" text-anchor="end" fill="#262626" font-weight="normal" >20</text>
<text x="49.4" y="107.3" font-size="8.5" text-anchor="end" fill="#262626" font-weight="normal" >0</text>
<text x="49.4" y="122.9" font-size="8.5" text-anchor="end" fill="#262626" font-weight="normal" >-20</text>
<text x="48.7" y="168.2" font-size="8.5" text-anchor="end" fill="#262626" font-weight="normal" >0.4</text>
<text x="48.7" y="177.1" font-size="8.5" text-anchor="end" fill="#262626" font-weight="normal" >0.2</text>
<text x="46.6" y="186.1" font-size="8.5" text-anchor="end" fill="#262626" font-weight="normal" >0</text>
<text x="49.3" y="195.7" font-size="8.5" text-anchor="end" fill="#262626" font-weight="normal" >-0.2</text>
<text x="391.0" y="28.0" font-size="8.5" text-anchor="end" fill="#262626" font-weight="normal" >2</text>
<text x="391.0" y="38.0" font-size="8.5" text-anchor="end" fill="#262626" font-weight="normal" >0</text>
<text x="391.0" y="48.2" font-size="8.5" text-anchor="end" fill="#262626" font-weight="normal" >-2</text>
<text x="391.5" y="59.9" font-size="8.5" text-anchor="end" fill="#262626" font-weight="normal" >5000</text>
<text x="386.0" y="65.5" font-size="8.5" text-anchor="end" fill="#262626" font-weight="normal" >0</text>
<text x="391.5" y="72.0" font-size="8.5" text-anchor="end" fill="#262626" font-weight="normal" >-5000</text>
<text x="391.5" y="78.0" font-size="8.5" text-anchor="end" fill="#262626" font-weight="normal" >-10000</text>
<text x="391.5" y="83.8" font-size="8.5" text-anchor="end" fill="#262626" font-weight="normal" >-15000</text>
<text x="391.0" y="90.3" font-size="8.5" text-anchor="end" fill="#262626" font-weight="normal" >4</text>
<text x="391.0" y="102.6" font-size="8.5" text-anchor="end" fill="#262626" font-weight="normal" >2</text>
<text x="391.0" y="114.4" font-size="8.5" text-anchor="end" fill="#262626" font-weight="normal" >0</text>
<text x="391.0" y="125.3" font-size="8.5" text-anchor="end" fill="#262626" font-weight="normal" >-2</text>
<text x="392.5" y="166.9" font-size="8.5" text-anchor="end" fill="#262626" font-weight="normal" >0.05</text>
<text x="389.5" y="175.8" font-size="8.5" text-anchor="end" fill="#262626" font-weight="normal" >0</text>
<text x="392.3" y="185.3" font-size="8.5" text-anchor="end" fill="#262626" font-weight="normal" >-0.05</text>
<text x="391.2" y="194.3" font-size="8.5" text-anchor="end" fill="#262626" font-weight="normal" >-0.1</text>
<text x="48.2" y="133.2" font-size="8.5" text-anchor="end" fill="#262626">10<tspan font-size="6.3" dy="-3.4">1</tspan></text>
<text x="48.2" y="157.2" font-size="8.5" text-anchor="end" fill="#262626">10<tspan font-size="6.3" dy="-3.4">0</tspan></text>
<text x="48.2" y="205.7" font-size="8.5" text-anchor="end" fill="#262626">10<tspan font-size="6.3" dy="-3.4">1</tspan></text>
<text x="48.2" y="229.7" font-size="8.5" text-anchor="end" fill="#262626">10<tspan font-size="6.3" dy="-3.4">0</tspan></text>
<text x="48.2" y="241.8" font-size="8.5" text-anchor="end" fill="#262626">10<tspan font-size="6.3" dy="-3.4">1</tspan></text>
<text x="48.2" y="265.8" font-size="8.5" text-anchor="end" fill="#262626">10<tspan font-size="6.3" dy="-3.4">0</tspan></text>
<text x="48.2" y="278.1" font-size="8.5" text-anchor="end" fill="#262626">10<tspan font-size="6.3" dy="-3.4">1</tspan></text>
<text x="48.2" y="302.1" font-size="8.5" text-anchor="end" fill="#262626">10<tspan font-size="6.3" dy="-3.4">0</tspan></text>
<text x="391.2" y="132.8" font-size="8.5" text-anchor="end" fill="#262626">10<tspan font-size="6.3" dy="-3.4">1</tspan></text>
<text x="391.2" y="156.8" font-size="8.5" text-anchor="end" fill="#262626">10<tspan font-size="6.3" dy="-3.4">0</tspan></text>
<text x="391.2" y="205.3" font-size="8.5" text-anchor="end" fill="#262626">10<tspan font-size="6.3" dy="-3.4">1</tspan></text>
<text x="391.2" y="229.3" font-size="8.5" text-anchor="end" fill="#262626">10<tspan font-size="6.3" dy="-3.4">0</tspan></text>
<text x="391.2" y="241.4" font-size="8.5" text-anchor="end" fill="#262626">10<tspan font-size="6.3" dy="-3.4">1</tspan></text>
<text x="391.2" y="265.4" font-size="8.5" text-anchor="end" fill="#262626">10<tspan font-size="6.3" dy="-3.4">0</tspan></text>
<text x="391.2" y="277.8" font-size="8.5" text-anchor="end" fill="#262626">10<tspan font-size="6.3" dy="-3.4">1</tspan></text>
<text x="391.2" y="301.8" font-size="8.5" text-anchor="end" fill="#262626">10<tspan font-size="6.3" dy="-3.4">0</tspan></text>
<text x="7.6" y="32.6" font-size="10" text-anchor="middle" fill="#262626" font-weight="normal" transform="rotate(-90 7.6 32.6)" >B</text>
<text x="20.2" y="30.8" font-size="10" text-anchor="middle" fill="#262626" font-weight="normal" transform="rotate(-90 20.2 30.8)" >(nT)</text>
<text x="7.6" y="68.5" font-size="10" text-anchor="middle" fill="#262626" font-weight="normal" transform="rotate(-90 7.6 68.5)" >Ve</text>
<text x="20.2" y="66.4" font-size="10" text-anchor="middle" fill="#262626" font-weight="normal" transform="rotate(-90 20.2 66.4)" >(km/s)</text>
<text x="8.2" y="105.7" font-size="9.6" text-anchor="middle" fill="#262626" font-weight="bold" transform="rotate(-90 8.2 105.7)" >&lt;<tspan font-weight="normal" font-style="italic">δ</tspan>Jp.<tspan font-weight="normal" font-style="italic">δ</tspan>E&gt;</text>
<text x="19.8" y="104.2" font-size="10" text-anchor="middle" fill="#262626" font-weight="normal" transform="rotate(-90 19.8 104.2)" >(pW/m<tspan font-size="7" dy="-3.8">3</tspan><tspan dy="3.8">)</tspan></text>
<text x="7.6" y="142.1" font-size="10" text-anchor="middle" fill="#262626" font-weight="normal" transform="rotate(-90 7.6 142.1)" >f</text>
<text x="21.5" y="140.0" font-size="10" text-anchor="middle" fill="#262626" font-weight="normal" transform="rotate(-90 21.5 140.0)" >(Hz)</text>
<text x="7.8999999999999995" y="177.5" font-size="10" text-anchor="middle" fill="#262626" font-weight="normal" transform="rotate(-90 7.8999999999999995 177.5)" >anomE<tspan font-size="7" dy="2.4">M</tspan></text>
<text x="21.5" y="174.5" font-size="10" text-anchor="middle" fill="#262626" font-weight="normal" transform="rotate(-90 21.5 174.5)" >(mV/m)</text>
<text x="7.6" y="214.8" font-size="10" text-anchor="middle" fill="#262626" font-weight="normal" transform="rotate(-90 7.6 214.8)" >f</text>
<text x="21.8" y="212.4" font-size="10" text-anchor="middle" fill="#262626" font-weight="normal" transform="rotate(-90 21.8 212.4)" >(Hz)</text>
<text x="7.6" y="250.8" font-size="10" text-anchor="middle" fill="#262626" font-weight="normal" transform="rotate(-90 7.6 250.8)" >f</text>
<text x="21.8" y="248.4" font-size="10" text-anchor="middle" fill="#262626" font-weight="normal" transform="rotate(-90 21.8 248.4)" >(Hz)</text>
<text x="7.6" y="286.8" font-size="10" text-anchor="middle" fill="#262626" font-weight="normal" transform="rotate(-90 7.6 286.8)" >f</text>
<text x="21.8" y="284.7" font-size="10" text-anchor="middle" fill="#262626" font-weight="normal" transform="rotate(-90 21.8 284.7)" >(Hz)</text>
<text x="352.8" y="38.9" font-size="10" text-anchor="middle" fill="#262626" font-weight="normal" transform="rotate(-90 352.8 38.9)" >B</text>
<text x="364.4" y="37.1" font-size="10" text-anchor="middle" fill="#262626" font-weight="normal" transform="rotate(-90 364.4 37.1)" >(nT)</text>
<text x="352.8" y="74.8" font-size="10" text-anchor="middle" fill="#262626" font-weight="normal" transform="rotate(-90 352.8 74.8)" >Ve</text>
<text x="364.4" y="72.1" font-size="10" text-anchor="middle" fill="#262626" font-weight="normal" transform="rotate(-90 364.4 72.1)" >(km/s)</text>
<text x="353.40000000000003" y="113.5" font-size="9.6" text-anchor="middle" fill="#262626" font-weight="bold" transform="rotate(-90 353.40000000000003 113.5)" >&lt;<tspan font-weight="normal" font-style="italic">δ</tspan>Jp.<tspan font-weight="normal" font-style="italic">δ</tspan>E&gt;</text>
<text x="364.4" y="111.0" font-size="10" text-anchor="middle" fill="#262626" font-weight="normal" transform="rotate(-90 364.4 111.0)" >(pW/m<tspan font-size="7" dy="-3.8">3</tspan><tspan dy="3.8">)</tspan></text>
<text x="353.2" y="148.4" font-size="10" text-anchor="middle" fill="#262626" font-weight="normal" transform="rotate(-90 353.2 148.4)" >f</text>
<text x="365.59999999999997" y="146.0" font-size="10" text-anchor="middle" fill="#262626" font-weight="normal" transform="rotate(-90 365.59999999999997 146.0)" >(Hz)</text>
<text x="354.0" y="184.0" font-size="10" text-anchor="middle" fill="#262626" font-weight="normal" transform="rotate(-90 354.0 184.0)" >anomE<tspan font-size="7" dy="2.4">M</tspan></text>
<text x="365.29999999999995" y="180.5" font-size="10" text-anchor="middle" fill="#262626" font-weight="normal" transform="rotate(-90 365.29999999999995 180.5)" >(mV/m)</text>
<text x="353.2" y="221.0" font-size="10" text-anchor="middle" fill="#262626" font-weight="normal" transform="rotate(-90 353.2 221.0)" >f</text>
<text x="366.0" y="218.6" font-size="10" text-anchor="middle" fill="#262626" font-weight="normal" transform="rotate(-90 366.0 218.6)" >(Hz)</text>
<text x="353.2" y="257.0" font-size="10" text-anchor="middle" fill="#262626" font-weight="normal" transform="rotate(-90 353.2 257.0)" >f</text>
<text x="366.0" y="254.6" font-size="10" text-anchor="middle" fill="#262626" font-weight="normal" transform="rotate(-90 366.0 254.6)" >(Hz)</text>
<text x="353.2" y="293.3" font-size="10" text-anchor="middle" fill="#262626" font-weight="normal" transform="rotate(-90 353.2 293.3)" >f</text>
<text x="366.0" y="291.2" font-size="10" text-anchor="middle" fill="#262626" font-weight="normal" transform="rotate(-90 366.0 291.2)" >(Hz)</text>
<text x="285.0" y="21.8" font-size="9" fill="#000">B<tspan font-size="7.6" dx="1.2" dy="3">L</tspan></text>
<text x="285.0" y="33.3" font-size="9" fill="#0000ff">B<tspan font-size="7.6" dx="1.2" dy="3">M</tspan></text>
<text x="285.0" y="46.2" font-size="9" fill="#ff0000">B<tspan font-size="7.6" dx="1.2" dy="3">N</tspan></text>
<text x="285.0" y="59.8" font-size="9" fill="#000">V<tspan font-size="7.6" dx="1.2" dy="3">L</tspan></text>
<text x="285.0" y="70.6" font-size="9" fill="#0000ff">V<tspan font-size="7.6" dx="1.2" dy="3">M</tspan></text>
<text x="285.0" y="82.4" font-size="9" fill="#ff0000">V<tspan font-size="7.6" dx="1.2" dy="3">N</tspan></text>
<text x="628.2" y="23.4" font-size="9" fill="#000">B<tspan font-size="7.6" dx="1.2" dy="3">L</tspan></text>
<text x="628.2" y="34.8" font-size="9" fill="#0000ff">B<tspan font-size="7.6" dx="1.2" dy="3">M</tspan></text>
<text x="628.2" y="46.8" font-size="9" fill="#ff0000">B<tspan font-size="7.6" dx="1.2" dy="3">N</tspan></text>
<text x="628.2" y="60.8" font-size="9" fill="#000">V<tspan font-size="7.6" dx="1.2" dy="3">L</tspan></text>
<text x="628.2" y="71.8" font-size="9" fill="#0000ff">V<tspan font-size="7.6" dx="1.2" dy="3">M</tspan></text>
<text x="628.2" y="83.4" font-size="9" fill="#ff0000">V<tspan font-size="7.6" dx="1.2" dy="3">N</tspan></text>
<text x="228.6" y="172.0" font-size="9" font-weight="bold"><tspan fill="#000">R</tspan><tspan fill="#0000ff" dx="3.0">D</tspan><tspan fill="#ff0000" dx="1.8">T</tspan><tspan fill="#ff0000" font-size="6.8" dy="2.9">ES</tspan><tspan fill="#008000" font-size="9" dx="0.2" dy="-2.9">T</tspan><tspan fill="#008000" font-size="6.8" dy="2.9">EM</tspan></text>
<text x="570.6" y="189.3" font-size="9" font-weight="bold"><tspan fill="#000">R</tspan><tspan fill="#0000ff" dx="3.0">D</tspan><tspan fill="#ff0000" dx="1.8">T</tspan><tspan fill="#ff0000" font-size="6.8" dy="2.9">ES</tspan><tspan fill="#008000" font-size="9" dx="0.2" dy="-2.9">T</tspan><tspan fill="#008000" font-size="6.8" dy="2.9">EM</tspan></text>
<text x="95.6" y="148.0" font-size="9.5" fill="#1a1a1a">f<tspan font-size="7.5" dy="2.6">LH</tspan></text>
<text x="95.6" y="220.4" font-size="9.5" fill="#1a1a1a">f<tspan font-size="7.5" dy="2.6">LH</tspan></text>
<text x="95.6" y="257.4" font-size="9.5" fill="#1a1a1a">f<tspan font-size="7.5" dy="2.6">LH</tspan></text>
<text x="95.6" y="293.4" font-size="9.5" fill="#1a1a1a">f<tspan font-size="7.5" dy="2.6">LH</tspan></text>
<text x="437.8" y="141.6" font-size="9.5" fill="#1a1a1a">f<tspan font-size="7.5" dy="2.6">LH</tspan></text>
<text x="437.8" y="214.3" font-size="9.5" fill="#1a1a1a">f<tspan font-size="7.5" dy="2.6">LH</tspan></text>
<text x="437.8" y="250.3" font-size="9.5" fill="#1a1a1a">f<tspan font-size="7.5" dy="2.6">LH</tspan></text>
<text x="437.8" y="286.29999999999995" font-size="9.5" fill="#1a1a1a">f<tspan font-size="7.5" dy="2.6">LH</tspan></text>
<text x="296.0" y="129.7" font-size="8.5" text-anchor="start" fill="#262626" font-weight="normal" >10</text>
<text x="296.0" y="145.85" font-size="8.5" text-anchor="start" fill="#262626" font-weight="normal" >0</text>
<text x="296.0" y="162.0" font-size="8.5" text-anchor="start" fill="#262626" font-weight="normal" >-10</text>
<text x="638.6" y="128.8" font-size="8.5" text-anchor="start" fill="#262626" font-weight="normal" >1</text>
<text x="638.6" y="144.75" font-size="8.5" text-anchor="start" fill="#262626" font-weight="normal" >0</text>
<text x="638.6" y="160.7" font-size="8.5" text-anchor="start" fill="#262626" font-weight="normal" >-1</text>
<text x="294.6" y="203.5" font-size="7.6" fill="#262626">5×10<tspan font-size="6.6" dy="-3.0">-3</tspan></text>
<text x="294.6" y="217.95000000000002" font-size="8" text-anchor="start" fill="#262626" font-weight="normal" >0</text>
<text x="294.6" y="232.20000000000002" font-size="8" text-anchor="start" fill="#262626" font-weight="normal" >-5</text>
<text x="294.6" y="240.5" font-size="7.6" fill="#262626">5×10<tspan font-size="6.6" dy="-3.0">-3</tspan></text>
<text x="294.6" y="254.5" font-size="8" text-anchor="start" fill="#262626" font-weight="normal" >0</text>
<text x="294.6" y="268.3" font-size="8" text-anchor="start" fill="#262626" font-weight="normal" >-5</text>
<text x="294.6" y="276.5" font-size="7.6" fill="#262626">5×10<tspan font-size="6.6" dy="-3.0">-3</tspan></text>
<text x="294.6" y="290.8" font-size="8" text-anchor="start" fill="#262626" font-weight="normal" >0</text>
<text x="294.6" y="304.90000000000003" font-size="8" text-anchor="start" fill="#262626" font-weight="normal" >-5</text>
<text x="637.2" y="203.3" font-size="7.6" fill="#262626">2×10<tspan font-size="6.6" dy="-3.0">-3</tspan></text>
<text x="637.2" y="217.35000000000002" font-size="8" text-anchor="start" fill="#262626" font-weight="normal" >0</text>
<text x="637.2" y="231.20000000000002" font-size="8" text-anchor="start" fill="#262626" font-weight="normal" >-2</text>
<text x="637.2" y="239.1" font-size="7.6" fill="#262626">2×10<tspan font-size="6.6" dy="-3.0">-3</tspan></text>
<text x="637.2" y="253.25000000000003" font-size="8" text-anchor="start" fill="#262626" font-weight="normal" >0</text>
<text x="637.2" y="267.20000000000005" font-size="8" text-anchor="start" fill="#262626" font-weight="normal" >-2</text>
<text x="637.2" y="275.1" font-size="7.6" fill="#262626">2×10<tspan font-size="6.6" dy="-3.0">-3</tspan></text>
<text x="637.2" y="289.65000000000003" font-size="8" text-anchor="start" fill="#262626" font-weight="normal" >0</text>
<text x="637.2" y="304.0" font-size="8" text-anchor="start" fill="#262626" font-weight="normal" >-2</text>
<text x="315.6" y="142.0" font-size="8.8" text-anchor="middle" fill="#262626" font-weight="bold" transform="rotate(-90 315.6 142.0)" >&lt;<tspan font-weight="normal" font-style="italic">δ</tspan>Jp.<tspan font-weight="normal" font-style="italic">δ</tspan>E&gt;</text>
<text x="326.2" y="141.2" font-size="10" text-anchor="middle" fill="#262626" font-weight="normal" transform="rotate(-90 326.2 141.2)" >pW/m<tspan font-size="6.5" dy="-3.6">3</tspan></text>
<text x="658.3" y="140.8" font-size="8.8" text-anchor="middle" fill="#262626" font-weight="bold" transform="rotate(-90 658.3 140.8)" >&lt;<tspan font-weight="normal" font-style="italic">δ</tspan>Jp.<tspan font-weight="normal" font-style="italic">δ</tspan>E&gt;</text>
<text x="668.6" y="139.5" font-size="10" text-anchor="middle" fill="#262626" font-weight="normal" transform="rotate(-90 668.6 139.5)" >pW/m<tspan font-size="6.5" dy="-3.6">3</tspan></text>
<text x="323.8" y="212.5" font-size="9" text-anchor="middle" fill="#262626" font-weight="normal" transform="rotate(-90 323.8 212.5)" >&lt;n&gt;D<tspan font-size="6.5" dy="2.2">M</tspan></text>
<text x="323.8" y="249.5" font-size="9" text-anchor="middle" fill="#262626" font-weight="normal" transform="rotate(-90 323.8 249.5)" >&lt;n&gt;T<tspan font-size="6.5" dy="2.2">ES,M</tspan></text>
<text x="323.8" y="287.7" font-size="9" text-anchor="middle" fill="#262626" font-weight="normal" transform="rotate(-90 323.8 287.7)" >&lt;n&gt;T<tspan font-size="6.5" dy="2.2">EM,M</tspan></text>
<text x="337.0" y="225.8" font-size="9" text-anchor="middle" fill="#262626" font-weight="normal" transform="rotate(-90 337.0 225.8)" >mV/m*cm<tspan font-size="6.5" dy="-3.4">-3</tspan></text>
<text x="337.0" y="279.0" font-size="9" text-anchor="middle" fill="#262626" font-weight="normal" transform="rotate(-90 337.0 279.0)" >mV/m*cm <tspan font-size="6.5" dy="-3.4">-3</tspan></text>
<text x="670.4" y="212.5" font-size="9" text-anchor="middle" fill="#262626" font-weight="normal" transform="rotate(-90 670.4 212.5)" >&lt;n&gt;D<tspan font-size="6.5" dy="2.2">M</tspan></text>
<text x="670.4" y="250.3" font-size="9" text-anchor="middle" fill="#262626" font-weight="normal" transform="rotate(-90 670.4 250.3)" >&lt;n&gt;T<tspan font-size="6.5" dy="2.2">ES,M</tspan></text>
<text x="670.4" y="290.0" font-size="9" text-anchor="middle" fill="#262626" font-weight="normal" transform="rotate(-90 670.4 290.0)" >&lt;n&gt;T<tspan font-size="6.5" dy="2.2">EM,M</tspan></text>
<text x="682.4" y="223.6" font-size="9" text-anchor="middle" fill="#262626" font-weight="normal" transform="rotate(-90 682.4 223.6)" >mV/m*cm<tspan font-size="6.5" dy="-3.4">-3</tspan></text>
<text x="682.4" y="279.2" font-size="9" text-anchor="middle" fill="#262626" font-weight="normal" transform="rotate(-90 682.4 279.2)" >mV/m*cm <tspan font-size="6.5" dy="-3.4">-3</tspan></text>
<text x="52.0" y="320.0" font-size="8.5" text-anchor="middle" fill="#262626" font-weight="normal" >12:15:35</text>
<text x="129.0" y="320.0" font-size="8.5" text-anchor="middle" fill="#262626" font-weight="normal" >12:15:40</text>
<text x="206.0" y="320.0" font-size="8.5" text-anchor="middle" fill="#262626" font-weight="normal" >12:15:45</text>
<text x="283.0" y="320.0" font-size="8.5" text-anchor="middle" fill="#262626" font-weight="normal" >12:15:50</text>
<text x="423.6" y="317.9" font-size="8.5" text-anchor="middle" fill="#262626" font-weight="normal" >22:33:55</text>
<text x="473.85" y="317.9" font-size="8.5" text-anchor="middle" fill="#262626" font-weight="normal" >22:34:00</text>
<text x="524.1" y="317.9" font-size="8.5" text-anchor="middle" fill="#262626" font-weight="normal" >22:34:05</text>
<text x="574.35" y="317.9" font-size="8.5" text-anchor="middle" fill="#262626" font-weight="normal" >22:34:10</text>
<text x="624.6" y="317.9" font-size="8.5" text-anchor="middle" fill="#262626" font-weight="normal" >22:34:15</text>
<text x="177.6" y="333.4" font-size="9.8" text-anchor="middle" fill="#262626" font-weight="normal" >2018-08-27 UTC</text>
<text x="520.1" y="328.4" font-size="9.8" text-anchor="middle" fill="#262626" font-weight="normal" >2017-07-11 UTC</text></svg></body></html>
